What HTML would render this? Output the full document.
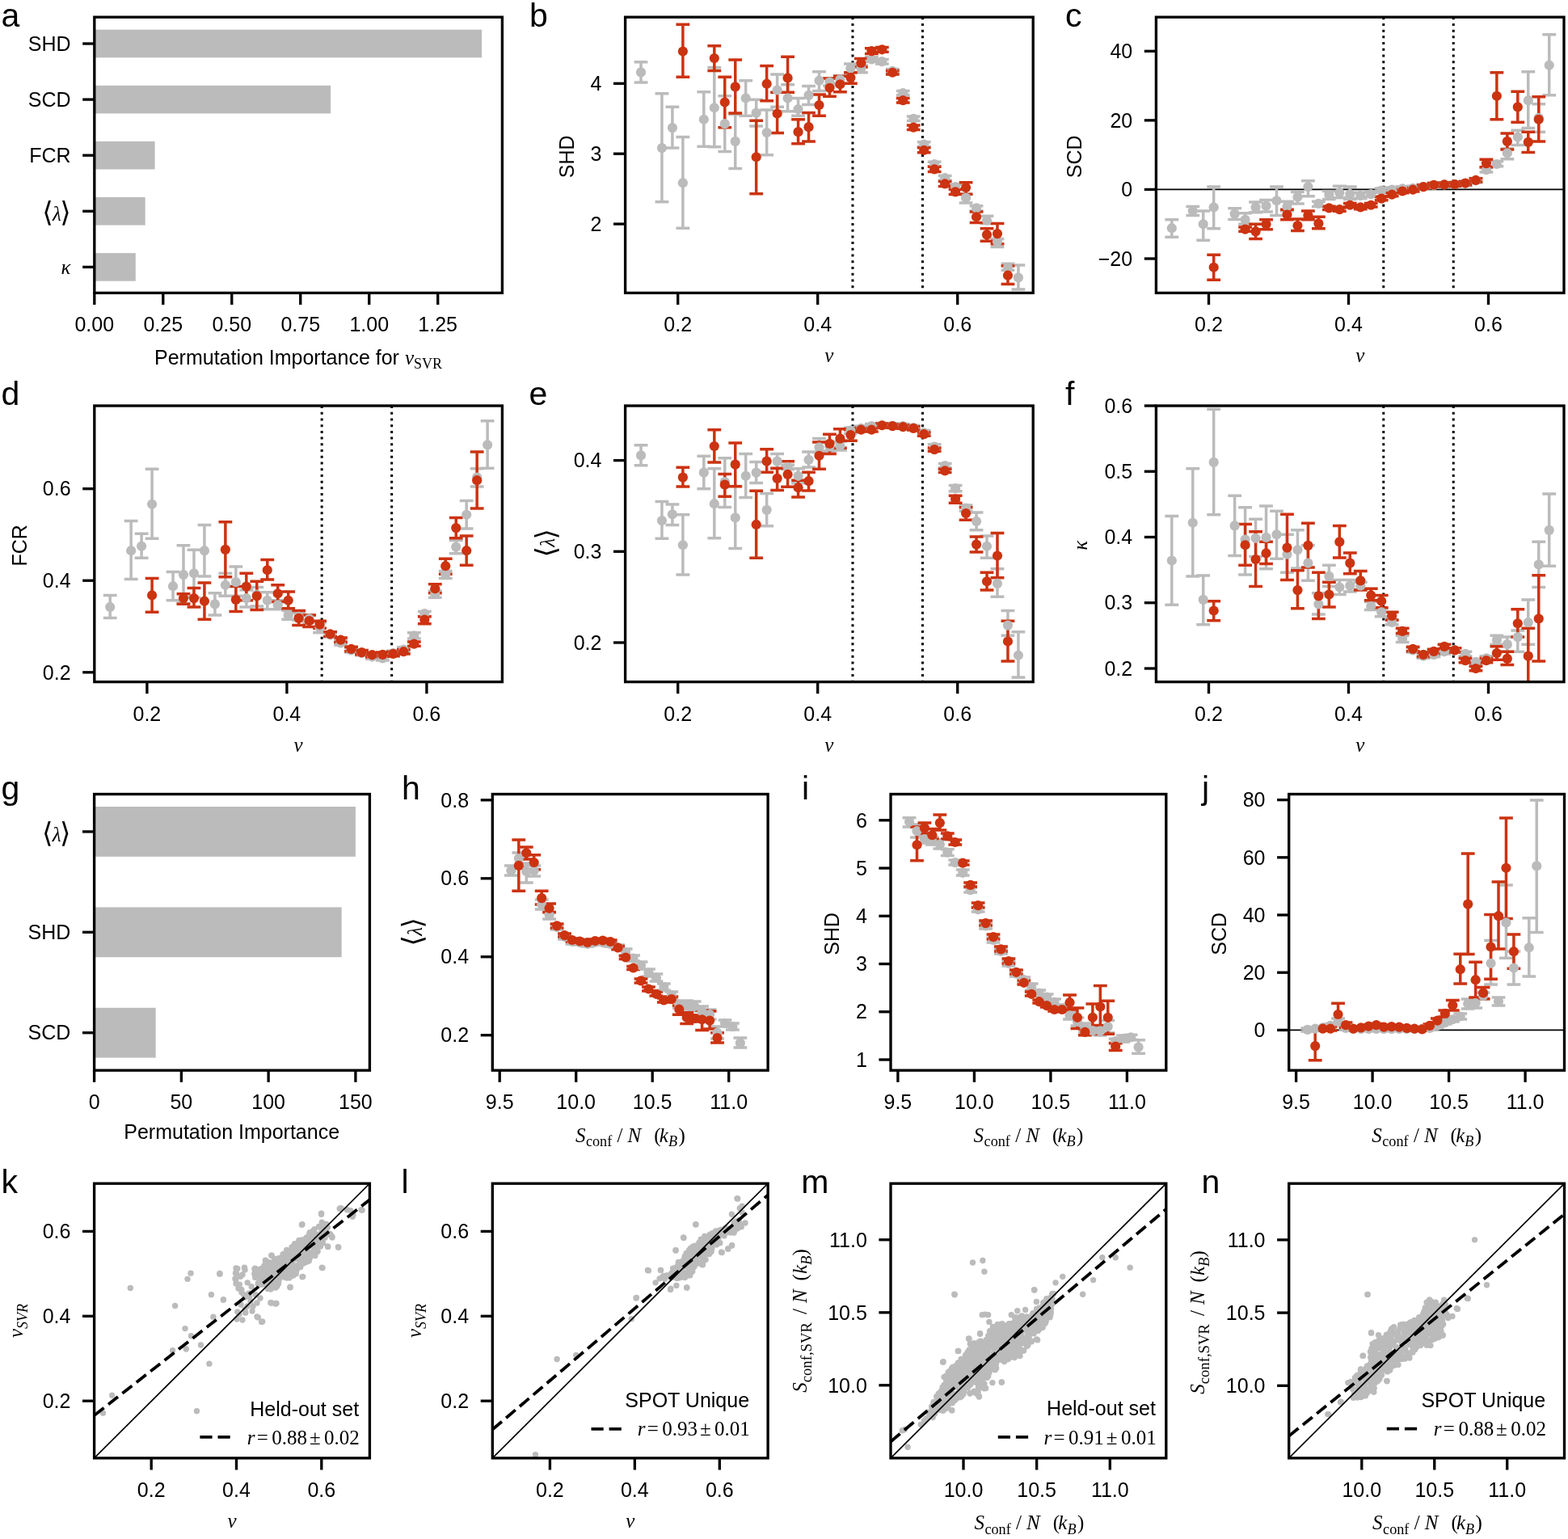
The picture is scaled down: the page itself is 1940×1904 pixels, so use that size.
<!DOCTYPE html>
<html><head><meta charset="utf-8"><title>Figure</title><style>html,body{margin:0;padding:0;background:#fff;}svg{display:block;}</style></head><body>
<svg xmlns="http://www.w3.org/2000/svg" width="1940" height="1904" viewBox="0 0 1940 1904">
<rect width="100%" height="100%" fill="#fff"/>
<rect x="116.8" y="36.7" width="479.29" height="34.6" fill="#BBBBBB"/>
<rect x="116.8" y="105.8" width="292.33" height="34.6" fill="#BBBBBB"/>
<rect x="116.8" y="174.9" width="74.78" height="34.6" fill="#BBBBBB"/>
<rect x="116.8" y="244" width="62.89" height="34.6" fill="#BBBBBB"/>
<rect x="116.8" y="313.1" width="50.99" height="34.6" fill="#BBBBBB"/>
<rect x="116.8" y="21.2" width="504.6" height="341.2" fill="none" stroke="#000" stroke-width="3.33" stroke-linejoin="miter"/>
<line x1="116.8" y1="362.4" x2="116.8" y2="377" stroke="#000" stroke-width="3.33"/>
<text x="116.8" y="410.3" text-anchor="middle" font-family="'Liberation Sans', Arial, sans-serif" font-size="25">0.00</text>
<line x1="201.78" y1="362.4" x2="201.78" y2="377" stroke="#000" stroke-width="3.33"/>
<text x="201.78" y="410.3" text-anchor="middle" font-family="'Liberation Sans', Arial, sans-serif" font-size="25">0.25</text>
<line x1="286.76" y1="362.4" x2="286.76" y2="377" stroke="#000" stroke-width="3.33"/>
<text x="286.76" y="410.3" text-anchor="middle" font-family="'Liberation Sans', Arial, sans-serif" font-size="25">0.50</text>
<line x1="371.74" y1="362.4" x2="371.74" y2="377" stroke="#000" stroke-width="3.33"/>
<text x="371.74" y="410.3" text-anchor="middle" font-family="'Liberation Sans', Arial, sans-serif" font-size="25">0.75</text>
<line x1="456.72" y1="362.4" x2="456.72" y2="377" stroke="#000" stroke-width="3.33"/>
<text x="456.72" y="410.3" text-anchor="middle" font-family="'Liberation Sans', Arial, sans-serif" font-size="25">1.00</text>
<line x1="541.7" y1="362.4" x2="541.7" y2="377" stroke="#000" stroke-width="3.33"/>
<text x="541.7" y="410.3" text-anchor="middle" font-family="'Liberation Sans', Arial, sans-serif" font-size="25">1.25</text>
<line x1="102.2" y1="54" x2="116.8" y2="54" stroke="#000" stroke-width="3.33"/>
<text x="87.6" y="62.7" text-anchor="end" font-family="'Liberation Sans', Arial, sans-serif" font-size="25">SHD</text>
<line x1="102.2" y1="123.1" x2="116.8" y2="123.1" stroke="#000" stroke-width="3.33"/>
<text x="87.6" y="131.8" text-anchor="end" font-family="'Liberation Sans', Arial, sans-serif" font-size="25">SCD</text>
<line x1="102.2" y1="192.2" x2="116.8" y2="192.2" stroke="#000" stroke-width="3.33"/>
<text x="87.6" y="200.9" text-anchor="end" font-family="'Liberation Sans', Arial, sans-serif" font-size="25">FCR</text>
<line x1="102.2" y1="261.3" x2="116.8" y2="261.3" stroke="#000" stroke-width="3.33"/>
<text x="87.6" y="270" text-anchor="end" font-family="'Liberation Serif', 'Times New Roman', serif" font-size="25" transform="translate(0 3.4)"><tspan font-family="'DejaVu Serif', serif" font-size="34.5" dy="0.8">⟨</tspan><tspan font-style="italic" dy="-0.8" dx="-0.6">λ</tspan><tspan font-family="'DejaVu Serif', serif" font-size="34.5" dy="0.8" dx="-1.7">⟩</tspan></text>
<line x1="102.2" y1="330.4" x2="116.8" y2="330.4" stroke="#000" stroke-width="3.33"/>
<text x="87.6" y="339.1" text-anchor="end" font-family="'Liberation Serif', 'Times New Roman', serif" font-size="25" font-style="italic">κ</text>
<text x="369" y="450.6" text-anchor="middle" font-family="'Liberation Sans', Arial, sans-serif" font-size="25">Permutation Importance for <tspan font-family="'Liberation Serif', 'Times New Roman', serif" font-style="italic">v</tspan><tspan font-family="'Liberation Serif', 'Times New Roman', serif" font-size="18" dy="5">SVR</tspan></text>
<text x="1.5" y="32.6" font-family="'Liberation Sans', Arial, sans-serif" font-size="41">a</text>
<clipPath id="c1"><rect x="773.6" y="21.2" width="504.6" height="341.2"/></clipPath>
<g clip-path="url(#c1)">
<line x1="1054.95" y1="21.2" x2="1054.95" y2="362.4" stroke="#000" stroke-width="3" stroke-dasharray="3 4.72" stroke-dashoffset="0"/>
<line x1="1141.45" y1="21.2" x2="1141.45" y2="362.4" stroke="#000" stroke-width="3" stroke-dasharray="3 4.72" stroke-dashoffset="0"/>
<path d="M793 76.71V101.9M784.6 76.71H801.4M784.6 101.9H801.4M818.94 115.67V249.75M810.54 115.67H827.34M810.54 249.75H827.34M831.91 132.34V183.07M823.51 132.34H840.31M823.51 183.07H840.31M844.88 169.48V282.19M836.48 169.48H853.28M836.48 282.19H853.28M870.82 113.86V181.26M862.42 113.86H879.22M862.42 181.26H879.22M883.79 83.42V181.8M875.39 83.42H892.19M875.39 181.8H892.19M896.76 118.75V187.6M888.36 118.75H905.16M888.36 187.6H905.16M909.73 141.4V208.44M901.33 141.4H918.13M901.33 208.44H918.13M922.7 99.72V143.21M914.3 99.72H931.1M914.3 143.21H931.1M935.67 123.28V155.89M927.27 123.28H944.07M927.27 155.89H944.07M948.64 135.96V191.77M940.24 135.96H957.04M940.24 191.77H957.04M961.61 92.11V132.34M953.21 92.11H970.01M953.21 132.34H970.01M974.58 104.8V137.77M966.18 104.8H982.98M966.18 137.77H982.98M987.55 121.47V143.21M979.15 121.47H995.95M979.15 143.21H995.95M1000.52 106.61V129.62M992.12 106.61H1008.92M992.12 129.62H1008.92M1013.49 88.85V112.41M1005.09 88.85H1021.89M1005.09 112.41H1021.89M1026.46 97.01V106.07M1018.06 97.01H1034.86M1018.06 106.07H1034.86M1039.43 93.38V103.35M1031.03 93.38H1047.83M1031.03 103.35H1047.83M1052.4 78.89V89.76M1044 78.89H1060.8M1044 89.76H1060.8M1065.37 80.7V89.76M1056.97 80.7H1073.77M1056.97 89.76H1073.77M1078.34 70.73V76.17M1069.94 70.73H1086.74M1069.94 76.17H1086.74M1091.31 73.45V78.89M1082.91 73.45H1099.71M1082.91 78.89H1099.71M1104.28 85.59V90.66M1095.88 85.59H1112.68M1095.88 90.66H1112.68M1117.25 112.41V117.84M1108.85 112.41H1125.65M1108.85 117.84H1125.65M1130.22 144.12V149.55M1121.82 144.12H1138.62M1121.82 149.55H1138.62M1143.19 175.83V181.26M1134.79 175.83H1151.59M1134.79 181.26H1151.59M1156.16 200.29V205.72M1147.76 200.29H1164.56M1147.76 205.72H1164.56M1169.13 217.5V222.94M1160.73 217.5H1177.53M1160.73 222.94H1177.53M1182.1 228.37V233.81M1173.7 228.37H1190.5M1173.7 233.81H1190.5M1195.07 240.15V251.02M1186.67 240.15H1203.47M1186.67 251.02H1203.47M1208.04 254.64V260.99M1199.64 254.64H1216.44M1199.64 260.99H1216.44M1221.01 267.33V276.39M1212.61 267.33H1229.41M1212.61 276.39H1229.41M1233.98 295.41V305.38M1225.58 295.41H1242.38M1225.58 305.38H1242.38M1246.95 326.21V334.37M1238.55 326.21H1255.35M1238.55 334.37H1255.35M1259.92 328.03V357.92M1251.52 328.03H1268.32M1251.52 357.92H1268.32" stroke="#BBBBBB" stroke-width="3.5" fill="none"/>
<path d="M844.88 30.33V95.19M836.48 30.33H853.28M836.48 95.19H853.28M883.79 56.78V87.4M875.39 56.78H892.19M875.39 87.4H892.19M896.76 95.19V157.71M888.36 95.19H905.16M888.36 157.71H905.16M909.73 74V139.95M901.33 74H918.13M901.33 139.95H918.13M935.67 149.37V239.79M927.27 149.37H944.07M927.27 239.79H944.07M948.64 81.61V124.73M940.24 81.61H957.04M940.24 124.73H957.04M961.61 114.22V164.59M953.21 114.22H970.01M953.21 164.59H970.01M974.58 70.19V114.22M966.18 70.19H982.98M966.18 114.22H982.98M987.55 147.74V177.64M979.15 147.74H995.95M979.15 177.64H995.95M1000.52 139.59V174.92M992.12 139.59H1008.92M992.12 174.92H1008.92M1013.49 116.94V143.21M1005.09 116.94H1021.89M1005.09 143.21H1021.89M1026.46 97.01V119.29M1018.06 97.01H1034.86M1018.06 119.29H1034.86M1039.43 94.29V113.86M1031.03 94.29H1047.83M1031.03 113.86H1047.83M1052.4 89.76V103.35M1044 89.76H1060.8M1044 103.35H1060.8M1065.37 72.55V83.05M1056.97 72.55H1073.77M1056.97 83.05H1073.77M1078.34 59.86V66.39M1069.94 59.86H1086.74M1069.94 66.39H1086.74M1091.31 58.41V64.21M1082.91 58.41H1099.71M1082.91 64.21H1099.71M1104.28 87.4V92.11M1095.88 87.4H1112.68M1095.88 92.11H1112.68M1117.25 121.47V126.9M1108.85 121.47H1125.65M1108.85 126.9H1125.65M1130.22 154.99V160.42M1121.82 154.99H1138.62M1121.82 160.42H1138.62M1143.19 182.71V188.87M1134.79 182.71H1151.59M1134.79 188.87H1151.59M1156.16 206.27V212.43M1147.76 206.27H1164.56M1147.76 212.43H1164.56M1169.13 224.38V230.55M1160.73 224.38H1177.53M1160.73 230.55H1177.53M1182.1 234.35V240.51M1173.7 234.35H1190.5M1173.7 240.51H1190.5M1195.07 225.65V240.15M1186.67 225.65H1203.47M1186.67 240.15H1203.47M1208.04 261.89V275.48M1199.64 261.89H1216.44M1199.64 275.48H1216.44M1221.01 282.73V298.13M1212.61 282.73H1229.41M1212.61 298.13H1229.41M1233.98 276.39V301.75M1225.58 276.39H1242.38M1225.58 301.75H1242.38M1246.95 328.93V351.58M1238.55 328.93H1255.35M1238.55 351.58H1255.35" stroke="#CC3311" stroke-width="3.5" fill="none"/>
<g fill="#BBBBBB"><circle cx="793" cy="89.4" r="6.1"/><circle cx="818.94" cy="183.07" r="6.1"/><circle cx="831.91" cy="158.07" r="6.1"/><circle cx="844.88" cy="226.2" r="6.1"/><circle cx="870.82" cy="147.74" r="6.1"/><circle cx="883.79" cy="133.25" r="6.1"/><circle cx="896.76" cy="153.18" r="6.1"/><circle cx="909.73" cy="174.92" r="6.1"/><circle cx="922.7" cy="121.47" r="6.1"/><circle cx="935.67" cy="139.59" r="6.1"/><circle cx="948.64" cy="164.05" r="6.1"/><circle cx="961.61" cy="111.5" r="6.1"/><circle cx="974.58" cy="121.47" r="6.1"/><circle cx="987.55" cy="135.06" r="6.1"/><circle cx="1000.52" cy="117.84" r="6.1"/><circle cx="1013.49" cy="99.72" r="6.1"/><circle cx="1026.46" cy="101.54" r="6.1"/><circle cx="1039.43" cy="98.28" r="6.1"/><circle cx="1052.4" cy="84.32" r="6.1"/><circle cx="1065.37" cy="84.32" r="6.1"/><circle cx="1078.34" cy="73.45" r="6.1"/><circle cx="1091.31" cy="76.17" r="6.1"/><circle cx="1104.28" cy="87.95" r="6.1"/><circle cx="1117.25" cy="115.13" r="6.1"/><circle cx="1130.22" cy="146.83" r="6.1"/><circle cx="1143.19" cy="178.54" r="6.1"/><circle cx="1156.16" cy="203" r="6.1"/><circle cx="1169.13" cy="220.22" r="6.1"/><circle cx="1182.1" cy="231.09" r="6.1"/><circle cx="1195.07" cy="244.68" r="6.1"/><circle cx="1208.04" cy="257.36" r="6.1"/><circle cx="1221.01" cy="272.76" r="6.1"/><circle cx="1233.98" cy="299.04" r="6.1"/><circle cx="1246.95" cy="330.74" r="6.1"/><circle cx="1259.92" cy="343.43" r="6.1"/></g>
<g fill="#CC3311"><circle cx="844.88" cy="63.49" r="6.1"/><circle cx="883.79" cy="72" r="6.1"/><circle cx="896.76" cy="126.54" r="6.1"/><circle cx="909.73" cy="107.33" r="6.1"/><circle cx="935.67" cy="194.31" r="6.1"/><circle cx="948.64" cy="103.71" r="6.1"/><circle cx="961.61" cy="140.49" r="6.1"/><circle cx="974.58" cy="96.46" r="6.1"/><circle cx="987.55" cy="163.14" r="6.1"/><circle cx="1000.52" cy="157.16" r="6.1"/><circle cx="1013.49" cy="129.98" r="6.1"/><circle cx="1026.46" cy="108.78" r="6.1"/><circle cx="1039.43" cy="104.25" r="6.1"/><circle cx="1052.4" cy="96.1" r="6.1"/><circle cx="1065.37" cy="77.98" r="6.1"/><circle cx="1078.34" cy="63.12" r="6.1"/><circle cx="1091.31" cy="61.31" r="6.1"/><circle cx="1104.28" cy="89.76" r="6.1"/><circle cx="1117.25" cy="124.19" r="6.1"/><circle cx="1130.22" cy="157.71" r="6.1"/><circle cx="1143.19" cy="185.79" r="6.1"/><circle cx="1156.16" cy="209.35" r="6.1"/><circle cx="1169.13" cy="227.47" r="6.1"/><circle cx="1182.1" cy="237.43" r="6.1"/><circle cx="1195.07" cy="231.99" r="6.1"/><circle cx="1208.04" cy="268.23" r="6.1"/><circle cx="1221.01" cy="290.34" r="6.1"/><circle cx="1233.98" cy="289.07" r="6.1"/><circle cx="1246.95" cy="340.71" r="6.1"/></g>
</g>
<rect x="773.6" y="21.2" width="504.6" height="341.2" fill="none" stroke="#000" stroke-width="3.33" stroke-linejoin="miter"/>
<line x1="838.7" y1="362.4" x2="838.7" y2="377" stroke="#000" stroke-width="3.33"/>
<text x="838.7" y="410.3" text-anchor="middle" font-family="'Liberation Sans', Arial, sans-serif" font-size="25">0.2</text>
<line x1="1011.7" y1="362.4" x2="1011.7" y2="377" stroke="#000" stroke-width="3.33"/>
<text x="1011.7" y="410.3" text-anchor="middle" font-family="'Liberation Sans', Arial, sans-serif" font-size="25">0.4</text>
<line x1="1184.7" y1="362.4" x2="1184.7" y2="377" stroke="#000" stroke-width="3.33"/>
<text x="1184.7" y="410.3" text-anchor="middle" font-family="'Liberation Sans', Arial, sans-serif" font-size="25">0.6</text>
<text x="1025.9" y="448.4" text-anchor="middle" font-family="'Liberation Serif', 'Times New Roman', serif" font-size="25" font-style="italic">v</text>
<line x1="759" y1="277.1" x2="773.6" y2="277.1" stroke="#000" stroke-width="3.33"/>
<text x="744.4" y="285.8" text-anchor="end" font-family="'Liberation Sans', Arial, sans-serif" font-size="25">2</text>
<line x1="759" y1="190.2" x2="773.6" y2="190.2" stroke="#000" stroke-width="3.33"/>
<text x="744.4" y="198.9" text-anchor="end" font-family="'Liberation Sans', Arial, sans-serif" font-size="25">3</text>
<line x1="759" y1="103.3" x2="773.6" y2="103.3" stroke="#000" stroke-width="3.33"/>
<text x="744.4" y="112" text-anchor="end" font-family="'Liberation Sans', Arial, sans-serif" font-size="25">4</text>
<text x="709.8" y="193.8" text-anchor="middle" font-family="'Liberation Sans', Arial, sans-serif" font-size="25" transform="rotate(-90 709.8 193.8)">SHD</text>
<text x="655" y="32.6" font-family="'Liberation Sans', Arial, sans-serif" font-size="41">b</text>
<clipPath id="c2"><rect x="1430.4" y="21.2" width="504.6" height="341.2"/></clipPath>
<g clip-path="url(#c2)">
<line x1="1711.75" y1="21.2" x2="1711.75" y2="362.4" stroke="#000" stroke-width="3" stroke-dasharray="3 4.72" stroke-dashoffset="0"/>
<line x1="1798.25" y1="21.2" x2="1798.25" y2="362.4" stroke="#000" stroke-width="3" stroke-dasharray="3 4.72" stroke-dashoffset="0"/>
<line x1="1430.4" y1="234.43" x2="1935" y2="234.43" stroke="#000" stroke-width="1.7"/>
<path d="M1449.8 271.86V293.24M1441.4 271.86H1458.2M1441.4 293.24H1458.2M1475.74 255.55V266.42M1467.34 255.55H1484.14M1467.34 266.42H1484.14M1488.71 260.99V297.22M1480.31 260.99H1497.11M1480.31 297.22H1497.11M1501.68 231.09V282.73M1493.28 231.09H1510.08M1493.28 282.73H1510.08M1527.62 257.72V271.49M1519.22 257.72H1536.02M1519.22 271.49H1536.02M1540.59 263.7V277.29M1532.19 263.7H1548.99M1532.19 277.29H1548.99M1553.56 250.11V262.8M1545.16 250.11H1561.96M1545.16 262.8H1561.96M1566.53 247.4V261.89M1558.13 247.4H1574.93M1558.13 261.89H1574.93M1579.5 231.09V266.42M1571.1 231.09H1587.9M1571.1 266.42H1587.9M1592.47 249.21V260.99M1584.07 249.21H1600.87M1584.07 260.99H1600.87M1605.44 237.43V251.93M1597.04 237.43H1613.84M1597.04 251.93H1613.84M1618.41 223.84V242.87M1610.01 223.84H1626.81M1610.01 242.87H1626.81M1631.38 249.21V255.55M1622.98 249.21H1639.78M1622.98 255.55H1639.78M1644.35 236.52V246.49M1635.95 236.52H1652.75M1635.95 246.49H1652.75M1657.32 230.18V244.68M1648.92 230.18H1665.72M1648.92 244.68H1665.72M1670.29 231.09V246.49M1661.89 231.09H1678.69M1661.89 246.49H1678.69M1683.26 238.34V245.58M1674.86 238.34H1691.66M1674.86 245.58H1691.66M1696.23 237.43V243.23M1687.83 237.43H1704.63M1687.83 243.23H1704.63M1709.2 232.9V238.34M1700.8 232.9H1717.6M1700.8 238.34H1717.6M1722.17 231.99V237.43M1713.77 231.99H1730.57M1713.77 237.43H1730.57M1735.14 230.73V236.16M1726.74 230.73H1743.54M1726.74 236.16H1743.54M1748.11 230.18V235.62M1739.71 230.18H1756.51M1739.71 235.62H1756.51M1761.08 228.37V233.81M1752.68 228.37H1769.48M1752.68 233.81H1769.48M1774.05 226.56V231.99M1765.65 226.56H1782.45M1765.65 231.99H1782.45M1787.02 225.65V231.09M1778.62 225.65H1795.42M1778.62 231.09H1795.42M1799.99 225.29V230.73M1791.59 225.29H1808.39M1791.59 230.73H1808.39M1812.96 224.2V229.64M1804.56 224.2H1821.36M1804.56 229.64H1821.36M1825.93 220.58V226.02M1817.53 220.58H1834.33M1817.53 226.02H1834.33M1838.9 207.53V212.97M1830.5 207.53H1847.3M1830.5 212.97H1847.3M1851.87 199.38V205.72M1843.47 199.38H1860.27M1843.47 205.72H1860.27M1864.84 183.98V196.66M1856.44 183.98H1873.24M1856.44 196.66H1873.24M1877.81 161.33V179.45M1869.41 161.33H1886.21M1869.41 179.45H1886.21M1890.78 88.85V158.61M1882.38 88.85H1899.18M1882.38 158.61H1899.18M1903.75 128.72V163.14M1895.35 128.72H1912.15M1895.35 163.14H1912.15M1916.72 42.65V117.84M1908.32 42.65H1925.12M1908.32 117.84H1925.12" stroke="#BBBBBB" stroke-width="3.5" fill="none"/>
<path d="M1501.68 315.34V346.15M1493.28 315.34H1510.08M1493.28 346.15H1510.08M1540.59 280.92V286.35M1532.19 280.92H1548.99M1532.19 286.35H1548.99M1553.56 277.29V295.41M1545.16 277.29H1561.96M1545.16 295.41H1561.96M1566.53 271.86V283.63M1558.13 271.86H1574.93M1558.13 283.63H1574.93M1592.47 259.17V271.86M1584.07 259.17H1600.87M1584.07 271.86H1600.87M1605.44 270.95V285.45M1597.04 270.95H1613.84M1597.04 285.45H1613.84M1618.41 260.99V271.86M1610.01 260.99H1626.81M1610.01 271.86H1626.81M1631.38 268.23V282.73M1622.98 268.23H1639.78M1622.98 282.73H1639.78M1644.35 255.19V259.54M1635.95 255.19H1652.75M1635.95 259.54H1652.75M1657.32 257V261.35M1648.92 257H1665.72M1648.92 261.35H1665.72M1670.29 251.56V255.91M1661.89 251.56H1678.69M1661.89 255.91H1678.69M1683.26 254.28V258.63M1674.86 254.28H1691.66M1674.86 258.63H1691.66M1696.23 251.56V255.91M1687.83 251.56H1704.63M1687.83 255.91H1704.63M1709.2 243.41V247.76M1700.8 243.41H1717.6M1700.8 247.76H1717.6M1722.17 238.52V242.87M1713.77 238.52H1730.57M1713.77 242.87H1730.57M1735.14 234.35V238.7M1726.74 234.35H1743.54M1726.74 238.7H1743.54M1748.11 232.54V236.89M1739.71 232.54H1756.51M1739.71 236.89H1756.51M1761.08 228.91V233.26M1752.68 228.91H1769.48M1752.68 233.26H1769.48M1774.05 226.56V230.91M1765.65 226.56H1782.45M1765.65 230.91H1782.45M1787.02 226.2V230.55M1778.62 226.2H1795.42M1778.62 230.55H1795.42M1799.99 225.83V230.18M1791.59 225.83H1808.39M1791.59 230.18H1808.39M1812.96 224.38V228.73M1804.56 224.38H1821.36M1804.56 228.73H1821.36M1825.93 220.76V225.11M1817.53 220.76H1834.33M1817.53 225.11H1834.33M1838.9 197.21V206.63M1830.5 197.21H1847.3M1830.5 206.63H1847.3M1851.87 89.76V147.74M1843.47 89.76H1860.27M1843.47 147.74H1860.27M1864.84 164.95V184.88M1856.44 164.95H1873.24M1856.44 184.88H1873.24M1877.81 113.31V151.36M1869.41 113.31H1886.21M1869.41 151.36H1886.21M1890.78 163.14V188.51M1882.38 163.14H1899.18M1882.38 188.51H1899.18M1903.75 119.66V174.92M1895.35 119.66H1912.15M1895.35 174.92H1912.15" stroke="#CC3311" stroke-width="3.5" fill="none"/>
<g fill="#BBBBBB"><circle cx="1449.8" cy="282.19" r="6.1"/><circle cx="1475.74" cy="260.99" r="6.1"/><circle cx="1488.71" cy="277.29" r="6.1"/><circle cx="1501.68" cy="256.46" r="6.1"/><circle cx="1527.62" cy="264.61" r="6.1"/><circle cx="1540.59" cy="271.86" r="6.1"/><circle cx="1553.56" cy="256.46" r="6.1"/><circle cx="1566.53" cy="254.64" r="6.1"/><circle cx="1579.5" cy="248.3" r="6.1"/><circle cx="1592.47" cy="255.55" r="6.1"/><circle cx="1605.44" cy="243.77" r="6.1"/><circle cx="1618.41" cy="231.09" r="6.1"/><circle cx="1631.38" cy="251.93" r="6.1"/><circle cx="1644.35" cy="241.05" r="6.1"/><circle cx="1657.32" cy="238.34" r="6.1"/><circle cx="1670.29" cy="240.15" r="6.1"/><circle cx="1683.26" cy="241.96" r="6.1"/><circle cx="1696.23" cy="240.15" r="6.1"/><circle cx="1709.2" cy="235.62" r="6.1"/><circle cx="1722.17" cy="234.71" r="6.1"/><circle cx="1735.14" cy="233.44" r="6.1"/><circle cx="1748.11" cy="232.9" r="6.1"/><circle cx="1761.08" cy="231.09" r="6.1"/><circle cx="1774.05" cy="229.28" r="6.1"/><circle cx="1787.02" cy="228.37" r="6.1"/><circle cx="1799.99" cy="228.01" r="6.1"/><circle cx="1812.96" cy="226.92" r="6.1"/><circle cx="1825.93" cy="223.3" r="6.1"/><circle cx="1838.9" cy="210.25" r="6.1"/><circle cx="1851.87" cy="203" r="6.1"/><circle cx="1864.84" cy="189.41" r="6.1"/><circle cx="1877.81" cy="169.48" r="6.1"/><circle cx="1890.78" cy="124.19" r="6.1"/><circle cx="1903.75" cy="145.93" r="6.1"/><circle cx="1916.72" cy="80.7" r="6.1"/></g>
<g fill="#CC3311"><circle cx="1501.68" cy="330.74" r="6.1"/><circle cx="1540.59" cy="283.63" r="6.1"/><circle cx="1553.56" cy="286.35" r="6.1"/><circle cx="1566.53" cy="277.29" r="6.1"/><circle cx="1592.47" cy="265.52" r="6.1"/><circle cx="1605.44" cy="279.1" r="6.1"/><circle cx="1618.41" cy="266.42" r="6.1"/><circle cx="1631.38" cy="276.39" r="6.1"/><circle cx="1644.35" cy="257.36" r="6.1"/><circle cx="1657.32" cy="259.17" r="6.1"/><circle cx="1670.29" cy="253.74" r="6.1"/><circle cx="1683.26" cy="256.46" r="6.1"/><circle cx="1696.23" cy="253.74" r="6.1"/><circle cx="1709.2" cy="245.58" r="6.1"/><circle cx="1722.17" cy="240.69" r="6.1"/><circle cx="1735.14" cy="236.52" r="6.1"/><circle cx="1748.11" cy="234.71" r="6.1"/><circle cx="1761.08" cy="231.09" r="6.1"/><circle cx="1774.05" cy="228.73" r="6.1"/><circle cx="1787.02" cy="228.37" r="6.1"/><circle cx="1799.99" cy="228.01" r="6.1"/><circle cx="1812.96" cy="226.56" r="6.1"/><circle cx="1825.93" cy="222.94" r="6.1"/><circle cx="1838.9" cy="202.1" r="6.1"/><circle cx="1851.87" cy="118.75" r="6.1"/><circle cx="1864.84" cy="174.92" r="6.1"/><circle cx="1877.81" cy="132.34" r="6.1"/><circle cx="1890.78" cy="175.83" r="6.1"/><circle cx="1903.75" cy="147.74" r="6.1"/></g>
</g>
<rect x="1430.4" y="21.2" width="504.6" height="341.2" fill="none" stroke="#000" stroke-width="3.33" stroke-linejoin="miter"/>
<line x1="1495.5" y1="362.4" x2="1495.5" y2="377" stroke="#000" stroke-width="3.33"/>
<text x="1495.5" y="410.3" text-anchor="middle" font-family="'Liberation Sans', Arial, sans-serif" font-size="25">0.2</text>
<line x1="1668.5" y1="362.4" x2="1668.5" y2="377" stroke="#000" stroke-width="3.33"/>
<text x="1668.5" y="410.3" text-anchor="middle" font-family="'Liberation Sans', Arial, sans-serif" font-size="25">0.4</text>
<line x1="1841.5" y1="362.4" x2="1841.5" y2="377" stroke="#000" stroke-width="3.33"/>
<text x="1841.5" y="410.3" text-anchor="middle" font-family="'Liberation Sans', Arial, sans-serif" font-size="25">0.6</text>
<text x="1682.7" y="448.4" text-anchor="middle" font-family="'Liberation Serif', 'Times New Roman', serif" font-size="25" font-style="italic">v</text>
<line x1="1415.8" y1="320" x2="1430.4" y2="320" stroke="#000" stroke-width="3.33"/>
<text x="1401.2" y="328.7" text-anchor="end" font-family="'Liberation Sans', Arial, sans-serif" font-size="25">−20</text>
<line x1="1415.8" y1="234.43" x2="1430.4" y2="234.43" stroke="#000" stroke-width="3.33"/>
<text x="1401.2" y="243.13" text-anchor="end" font-family="'Liberation Sans', Arial, sans-serif" font-size="25">0</text>
<line x1="1415.8" y1="148.87" x2="1430.4" y2="148.87" stroke="#000" stroke-width="3.33"/>
<text x="1401.2" y="157.57" text-anchor="end" font-family="'Liberation Sans', Arial, sans-serif" font-size="25">20</text>
<line x1="1415.8" y1="63.3" x2="1430.4" y2="63.3" stroke="#000" stroke-width="3.33"/>
<text x="1401.2" y="72" text-anchor="end" font-family="'Liberation Sans', Arial, sans-serif" font-size="25">40</text>
<text x="1338" y="193.8" text-anchor="middle" font-family="'Liberation Sans', Arial, sans-serif" font-size="25" transform="rotate(-90 1338 193.8)">SCD</text>
<text x="1318" y="32.6" font-family="'Liberation Sans', Arial, sans-serif" font-size="41">c</text>
<clipPath id="c3"><rect x="116.8" y="502" width="504.6" height="341.6"/></clipPath>
<g clip-path="url(#c3)">
<line x1="398.15" y1="502" x2="398.15" y2="843.6" stroke="#000" stroke-width="3" stroke-dasharray="3 4.72" stroke-dashoffset="0"/>
<line x1="484.65" y1="502" x2="484.65" y2="843.6" stroke="#000" stroke-width="3" stroke-dasharray="3 4.72" stroke-dashoffset="0"/>
<path d="M136.2 736.46V764.54M127.8 736.46H144.6M127.8 764.54H144.6M162.14 644.41V716.52M153.74 644.41H170.54M153.74 716.52H170.54M175.11 660.36V690.25M166.71 660.36H183.51M166.71 690.25H183.51M188.08 580.27V666.15M179.68 580.27H196.48M179.68 666.15H196.48M214.02 707.47V742.8M205.62 707.47H222.42M205.62 742.8H222.42M226.99 674.85V746.42M218.59 674.85H235.39M218.59 746.42H235.39M239.96 680.29V739.17M231.56 680.29H248.36M231.56 739.17H248.36M252.93 649.48V712.9M244.53 649.48H261.33M244.53 712.9H261.33M265.9 733.74V760.92M257.5 733.74H274.3M257.5 760.92H274.3M278.87 709.28V737.36M270.47 709.28H287.27M270.47 737.36H287.27M291.84 701.12V737.36M283.44 701.12H300.24M283.44 737.36H300.24M304.81 730.11V750.95M296.41 730.11H313.21M296.41 750.95H313.21M317.78 726.49V750.05M309.38 726.49H326.18M309.38 750.05H326.18M330.75 732.83V753.67M322.35 732.83H339.15M322.35 753.67H339.15M343.72 742.8V753.67M335.32 742.8H352.12M335.32 753.67H352.12M356.69 755.48V766.35M348.29 755.48H365.09M348.29 766.35H365.09M369.66 758.2V767.26M361.26 758.2H378.06M361.26 767.26H378.06M382.63 760.92V769.98M374.23 760.92H391.03M374.23 769.98H391.03M395.6 769.98V782.66M387.2 769.98H404M387.2 782.66H404M408.57 782.66V788.1M400.17 782.66H416.97M400.17 788.1H416.97M421.54 792.63V798.06M413.14 792.63H429.94M413.14 798.06H429.94M434.51 801.69V807.12M426.11 801.69H442.91M426.11 807.12H442.91M447.48 805.31V810.74M439.08 805.31H455.88M439.08 810.74H455.88M460.45 809.84V815.27M452.05 809.84H468.85M452.05 815.27H468.85M473.42 811.65V817.09M465.02 811.65H481.82M465.02 817.09H481.82M486.39 805.31V810.74M477.99 805.31H494.79M477.99 810.74H494.79M499.36 800.78V806.21M490.96 800.78H507.76M490.96 806.21H507.76M512.33 782.66V789.91M503.93 782.66H520.73M503.93 789.91H520.73M525.3 756.39V762.73M516.9 756.39H533.7M516.9 762.73H533.7M538.27 731.02V739.17M529.87 731.02H546.67M529.87 739.17H546.67M551.24 706.56V715.62M542.84 706.56H559.64M542.84 715.62H559.64M564.21 668.51V684.82M555.81 668.51H572.61M555.81 684.82H572.61M577.18 619.59V654.01M568.78 619.59H585.58M568.78 654.01H585.58M590.15 579.72V602.01M581.75 579.72H598.55M581.75 602.01H598.55M603.12 520.84V579.18M594.72 520.84H611.52M594.72 579.18H611.52" stroke="#BBBBBB" stroke-width="3.5" fill="none"/>
<path d="M188.08 715.62V757.29M179.68 715.62H196.48M179.68 757.29H196.48M226.99 734.64V747.33M218.59 734.64H235.39M218.59 747.33H235.39M239.96 727.4V750.95M231.56 727.4H248.36M231.56 750.95H248.36M252.93 721.05V766.35M244.53 721.05H261.33M244.53 766.35H261.33M278.87 645.86V713.81M270.47 645.86H287.27M270.47 713.81H287.27M291.84 725.58V756.39M283.44 725.58H300.24M283.44 756.39H300.24M304.81 709.28V742.8M296.41 709.28H313.21M296.41 742.8H313.21M317.78 719.24V754.58M309.38 719.24H326.18M309.38 754.58H326.18M330.75 692.43V716.89M322.35 692.43H339.15M322.35 716.89H339.15M343.72 723.77V744.61M335.32 723.77H352.12M335.32 744.61H352.12M356.69 731.93V752.76M348.29 731.93H365.09M348.29 752.76H365.09M369.66 755.48V773.6M361.26 755.48H378.06M361.26 773.6H378.06M382.63 760.92V775.41M374.23 760.92H391.03M374.23 775.41H391.03M395.6 768.16V777.22M387.2 768.16H404M387.2 777.22H404M408.57 781.75V787.19M400.17 781.75H416.97M400.17 787.19H416.97M421.54 789V794.44M413.14 789H429.94M413.14 794.44H429.94M434.51 800.24V805.67M426.11 800.24H442.91M426.11 805.67H442.91M447.48 804.4V809.84M439.08 804.4H455.88M439.08 809.84H455.88M460.45 807.48V812.92M452.05 807.48H468.85M452.05 812.92H468.85M473.42 807.12V812.56M465.02 807.12H481.82M465.02 812.56H481.82M486.39 806.21V811.65M477.99 806.21H494.79M477.99 811.65H494.79M499.36 803.5V808.93M490.96 803.5H507.76M490.96 808.93H507.76M512.33 793.89V799.33M503.93 793.89H520.73M503.93 799.33H520.73M525.3 762.73V771.79M516.9 762.73H533.7M516.9 771.79H533.7M538.27 722.87V733.74M529.87 722.87H546.67M529.87 733.74H546.67M551.24 691.16V710.18M542.84 691.16H559.64M542.84 710.18H559.64M564.21 640.42V665.79M555.81 640.42H572.61M555.81 665.79H572.61M577.18 663.07V699.31M568.78 663.07H585.58M568.78 699.31H585.58M590.15 558.89V629.01M581.75 558.89H598.55M581.75 629.01H598.55" stroke="#CC3311" stroke-width="3.5" fill="none"/>
<g fill="#BBBBBB"><circle cx="136.2" cy="750.95" r="6.1"/><circle cx="162.14" cy="681.19" r="6.1"/><circle cx="175.11" cy="675.76" r="6.1"/><circle cx="188.08" cy="623.75" r="6.1"/><circle cx="214.02" cy="725.22" r="6.1"/><circle cx="226.99" cy="711.09" r="6.1"/><circle cx="239.96" cy="709.28" r="6.1"/><circle cx="252.93" cy="681.19" r="6.1"/><circle cx="265.9" cy="747.33" r="6.1"/><circle cx="278.87" cy="723.77" r="6.1"/><circle cx="291.84" cy="720.15" r="6.1"/><circle cx="304.81" cy="740.08" r="6.1"/><circle cx="317.78" cy="735.55" r="6.1"/><circle cx="330.75" cy="742.8" r="6.1"/><circle cx="343.72" cy="748.23" r="6.1"/><circle cx="356.69" cy="760.92" r="6.1"/><circle cx="369.66" cy="762.73" r="6.1"/><circle cx="382.63" cy="765.45" r="6.1"/><circle cx="395.6" cy="776.32" r="6.1"/><circle cx="408.57" cy="785.38" r="6.1"/><circle cx="421.54" cy="795.34" r="6.1"/><circle cx="434.51" cy="804.4" r="6.1"/><circle cx="447.48" cy="808.03" r="6.1"/><circle cx="460.45" cy="812.56" r="6.1"/><circle cx="473.42" cy="814.37" r="6.1"/><circle cx="486.39" cy="808.03" r="6.1"/><circle cx="499.36" cy="803.5" r="6.1"/><circle cx="512.33" cy="786.28" r="6.1"/><circle cx="525.3" cy="759.1" r="6.1"/><circle cx="538.27" cy="734.64" r="6.1"/><circle cx="551.24" cy="710.18" r="6.1"/><circle cx="564.21" cy="676.66" r="6.1"/><circle cx="577.18" cy="636.8" r="6.1"/><circle cx="590.15" cy="590.6" r="6.1"/><circle cx="603.12" cy="550.37" r="6.1"/></g>
<g fill="#CC3311"><circle cx="188.08" cy="736.46" r="6.1"/><circle cx="226.99" cy="740.08" r="6.1"/><circle cx="239.96" cy="740.08" r="6.1"/><circle cx="252.93" cy="743.7" r="6.1"/><circle cx="278.87" cy="679.92" r="6.1"/><circle cx="291.84" cy="741.89" r="6.1"/><circle cx="304.81" cy="725.58" r="6.1"/><circle cx="317.78" cy="737.36" r="6.1"/><circle cx="330.75" cy="705.29" r="6.1"/><circle cx="343.72" cy="734.28" r="6.1"/><circle cx="356.69" cy="742.8" r="6.1"/><circle cx="369.66" cy="764.9" r="6.1"/><circle cx="382.63" cy="768.16" r="6.1"/><circle cx="395.6" cy="772.69" r="6.1"/><circle cx="408.57" cy="784.47" r="6.1"/><circle cx="421.54" cy="791.72" r="6.1"/><circle cx="434.51" cy="802.95" r="6.1"/><circle cx="447.48" cy="807.12" r="6.1"/><circle cx="460.45" cy="810.2" r="6.1"/><circle cx="473.42" cy="809.84" r="6.1"/><circle cx="486.39" cy="808.93" r="6.1"/><circle cx="499.36" cy="806.21" r="6.1"/><circle cx="512.33" cy="796.61" r="6.1"/><circle cx="525.3" cy="766.71" r="6.1"/><circle cx="538.27" cy="728.3" r="6.1"/><circle cx="551.24" cy="700.22" r="6.1"/><circle cx="564.21" cy="653.11" r="6.1"/><circle cx="577.18" cy="681.19" r="6.1"/><circle cx="590.15" cy="594.22" r="6.1"/></g>
</g>
<rect x="116.8" y="502" width="504.6" height="341.6" fill="none" stroke="#000" stroke-width="3.33" stroke-linejoin="miter"/>
<line x1="181.9" y1="843.6" x2="181.9" y2="858.2" stroke="#000" stroke-width="3.33"/>
<text x="181.9" y="891.5" text-anchor="middle" font-family="'Liberation Sans', Arial, sans-serif" font-size="25">0.2</text>
<line x1="354.9" y1="843.6" x2="354.9" y2="858.2" stroke="#000" stroke-width="3.33"/>
<text x="354.9" y="891.5" text-anchor="middle" font-family="'Liberation Sans', Arial, sans-serif" font-size="25">0.4</text>
<line x1="527.9" y1="843.6" x2="527.9" y2="858.2" stroke="#000" stroke-width="3.33"/>
<text x="527.9" y="891.5" text-anchor="middle" font-family="'Liberation Sans', Arial, sans-serif" font-size="25">0.6</text>
<text x="369.1" y="929.6" text-anchor="middle" font-family="'Liberation Serif', 'Times New Roman', serif" font-size="25" font-style="italic">v</text>
<line x1="102.2" y1="831.8" x2="116.8" y2="831.8" stroke="#000" stroke-width="3.33"/>
<text x="87.6" y="840.5" text-anchor="end" font-family="'Liberation Sans', Arial, sans-serif" font-size="25">0.2</text>
<line x1="102.2" y1="718.25" x2="116.8" y2="718.25" stroke="#000" stroke-width="3.33"/>
<text x="87.6" y="726.95" text-anchor="end" font-family="'Liberation Sans', Arial, sans-serif" font-size="25">0.4</text>
<line x1="102.2" y1="604.7" x2="116.8" y2="604.7" stroke="#000" stroke-width="3.33"/>
<text x="87.6" y="613.4" text-anchor="end" font-family="'Liberation Sans', Arial, sans-serif" font-size="25">0.6</text>
<text x="32.6" y="674.8" text-anchor="middle" font-family="'Liberation Sans', Arial, sans-serif" font-size="25" transform="rotate(-90 32.6 674.8)">FCR</text>
<text x="1.5" y="501.3" font-family="'Liberation Sans', Arial, sans-serif" font-size="41">d</text>
<clipPath id="c4"><rect x="773.6" y="502" width="504.6" height="341.6"/></clipPath>
<g clip-path="url(#c4)">
<line x1="1054.95" y1="502" x2="1054.95" y2="843.6" stroke="#000" stroke-width="3" stroke-dasharray="3 4.72" stroke-dashoffset="0"/>
<line x1="1141.45" y1="502" x2="1141.45" y2="843.6" stroke="#000" stroke-width="3" stroke-dasharray="3 4.72" stroke-dashoffset="0"/>
<path d="M793 550.73V575.74M784.6 550.73H801.4M784.6 575.74H801.4M818.94 620.49V666.33M810.54 620.49H827.34M810.54 666.33H827.34M831.91 624.12V649.48M823.51 624.12H840.31M823.51 649.48H840.31M844.88 636.8V711.09M836.48 636.8H853.28M836.48 711.09H853.28M870.82 564.32V604.73M862.42 564.32H879.22M862.42 604.73H879.22M883.79 579.72V665.79M875.39 579.72H892.19M875.39 665.79H892.19M896.76 566.68V627.38M888.36 566.68H905.16M888.36 627.38H905.16M909.73 601.47V678.47M901.33 601.47H918.13M901.33 678.47H918.13M922.7 561.61V615.6M914.3 561.61H931.1M914.3 615.6H931.1M935.67 571.57V597.48M927.27 571.57H944.07M927.27 597.48H944.07M948.64 610.53V650.75M940.24 610.53H957.04M940.24 650.75H957.04M961.61 561.61V579.72M953.21 561.61H970.01M953.21 579.72H970.01M974.58 575.19V580.63M966.18 575.19H982.98M966.18 580.63H982.98M987.55 579.72V597.84M979.15 579.72H995.95M979.15 597.84H995.95M1000.52 558.89V577.91M992.12 558.89H1008.92M992.12 577.91H1008.92M1013.49 542.58V559.79M1005.09 542.58H1021.89M1005.09 559.79H1021.89M1026.46 547.11V557.98M1018.06 547.11H1034.86M1018.06 557.98H1034.86M1039.43 546.2V557.08M1031.03 546.2H1047.83M1031.03 557.08H1047.83M1052.4 528.99V536.24M1044 528.99H1060.8M1044 536.24H1060.8M1065.37 527.18V532.61M1056.97 527.18H1073.77M1056.97 532.61H1073.77M1078.34 524.46V529.9M1069.94 524.46H1086.74M1069.94 529.9H1086.74M1091.31 523.55V528.99M1082.91 523.55H1099.71M1082.91 528.99H1099.71M1104.28 524.1V529.53M1095.88 524.1H1112.68M1095.88 529.53H1112.68M1117.25 524.46V529.9M1108.85 524.46H1125.65M1108.85 529.9H1125.65M1130.22 526.27V531.71M1121.82 526.27H1138.62M1121.82 531.71H1138.62M1143.19 532.61V538.05M1134.79 532.61H1151.59M1134.79 538.05H1151.59M1156.16 549.83V555.26M1147.76 549.83H1164.56M1147.76 555.26H1164.56M1169.13 573.38V578.82M1160.73 573.38H1177.53M1160.73 578.82H1177.53M1182.1 600.56V607.81M1173.7 600.56H1190.5M1173.7 607.81H1190.5M1195.07 625.02V632.27M1186.67 625.02H1203.47M1186.67 632.27H1203.47M1208.04 634.08V655.83M1199.64 634.08H1216.44M1199.64 655.83H1216.44M1221.01 663.07V690.25M1212.61 663.07H1229.41M1212.61 690.25H1229.41M1233.98 703.84V738.27M1225.58 703.84H1242.38M1225.58 738.27H1242.38M1246.95 755.48V786.28M1238.55 755.48H1255.35M1238.55 786.28H1255.35M1259.92 781.75V837.92M1251.52 781.75H1268.32M1251.52 837.92H1268.32" stroke="#BBBBBB" stroke-width="3.5" fill="none"/>
<path d="M844.88 578.28V602.01M836.48 578.28H853.28M836.48 602.01H853.28M883.79 531.71V572.11M875.39 531.71H892.19M875.39 572.11H892.19M896.76 586.61V614.15M888.36 586.61H905.16M888.36 614.15H905.16M909.73 548.02V601.83M901.33 548.02H918.13M901.33 601.83H918.13M935.67 607.27V690.25M927.27 607.27H944.07M927.27 690.25H944.07M948.64 555.81V584.25M940.24 555.81H957.04M940.24 584.25H957.04M961.61 579.36V606.54M953.21 579.36H970.01M953.21 606.54H970.01M974.58 570.66V602.37M966.18 570.66H982.98M966.18 602.37H982.98M987.55 594.22V615.06M979.15 594.22H995.95M979.15 615.06H995.95M1000.52 584.25V606.9M992.12 584.25H1008.92M992.12 606.9H1008.92M1013.49 547.11V580.27M1005.09 547.11H1021.89M1005.09 580.27H1021.89M1026.46 537.14V561.61M1018.06 537.14H1034.86M1018.06 561.61H1034.86M1039.43 530.8V554.36M1031.03 530.8H1047.83M1031.03 554.36H1047.83M1052.4 531.71V545.3M1044 531.71H1060.8M1044 545.3H1060.8M1065.37 529.53V533.88M1056.97 529.53H1073.77M1056.97 533.88H1073.77M1078.34 529.53V533.88M1069.94 529.53H1086.74M1069.94 533.88H1086.74M1091.31 524.1V528.45M1082.91 524.1H1099.71M1082.91 528.45H1099.71M1104.28 525V529.35M1095.88 525H1112.68M1095.88 529.35H1112.68M1117.25 525.91V530.26M1108.85 525.91H1125.65M1108.85 530.26H1125.65M1130.22 527.72V532.07M1121.82 527.72H1138.62M1121.82 532.07H1138.62M1143.19 534.97V539.32M1134.79 534.97H1151.59M1134.79 539.32H1151.59M1156.16 554V558.34M1147.76 554H1164.56M1147.76 558.34H1164.56M1169.13 580.27V584.62M1160.73 580.27H1177.53M1160.73 584.62H1177.53M1182.1 613.25V622.3M1173.7 613.25H1190.5M1173.7 622.3H1190.5M1195.07 627.74V643.14M1186.67 627.74H1203.47M1186.67 643.14H1203.47M1208.04 663.98V683M1199.64 663.98H1216.44M1199.64 683H1216.44M1221.01 708.37V730.11M1212.61 708.37H1229.41M1212.61 730.11H1229.41M1233.98 659.45V714.71M1225.58 659.45H1242.38M1225.58 714.71H1242.38M1246.95 768.16V817.99M1238.55 768.16H1255.35M1238.55 817.99H1255.35" stroke="#CC3311" stroke-width="3.5" fill="none"/>
<g fill="#BBBBBB"><circle cx="793" cy="563.42" r="6.1"/><circle cx="818.94" cy="644.05" r="6.1"/><circle cx="831.91" cy="636.26" r="6.1"/><circle cx="844.88" cy="674.31" r="6.1"/><circle cx="870.82" cy="584.62" r="6.1"/><circle cx="883.79" cy="623.21" r="6.1"/><circle cx="896.76" cy="596.03" r="6.1"/><circle cx="909.73" cy="640.42" r="6.1"/><circle cx="922.7" cy="588.78" r="6.1"/><circle cx="935.67" cy="584.62" r="6.1"/><circle cx="948.64" cy="630.82" r="6.1"/><circle cx="961.61" cy="570.66" r="6.1"/><circle cx="974.58" cy="577.91" r="6.1"/><circle cx="987.55" cy="588.78" r="6.1"/><circle cx="1000.52" cy="568.85" r="6.1"/><circle cx="1013.49" cy="553.45" r="6.1"/><circle cx="1026.46" cy="552.55" r="6.1"/><circle cx="1039.43" cy="551.64" r="6.1"/><circle cx="1052.4" cy="532.61" r="6.1"/><circle cx="1065.37" cy="529.9" r="6.1"/><circle cx="1078.34" cy="527.18" r="6.1"/><circle cx="1091.31" cy="526.27" r="6.1"/><circle cx="1104.28" cy="526.82" r="6.1"/><circle cx="1117.25" cy="527.18" r="6.1"/><circle cx="1130.22" cy="528.99" r="6.1"/><circle cx="1143.19" cy="535.33" r="6.1"/><circle cx="1156.16" cy="552.55" r="6.1"/><circle cx="1169.13" cy="576.1" r="6.1"/><circle cx="1182.1" cy="604.19" r="6.1"/><circle cx="1195.07" cy="628.65" r="6.1"/><circle cx="1208.04" cy="644.95" r="6.1"/><circle cx="1221.01" cy="675.76" r="6.1"/><circle cx="1233.98" cy="721.96" r="6.1"/><circle cx="1246.95" cy="773.6" r="6.1"/><circle cx="1259.92" cy="810.74" r="6.1"/></g>
<g fill="#CC3311"><circle cx="844.88" cy="590.6" r="6.1"/><circle cx="883.79" cy="552" r="6.1"/><circle cx="896.76" cy="599.66" r="6.1"/><circle cx="909.73" cy="574.65" r="6.1"/><circle cx="935.67" cy="648.94" r="6.1"/><circle cx="948.64" cy="570.66" r="6.1"/><circle cx="961.61" cy="591.86" r="6.1"/><circle cx="974.58" cy="586.97" r="6.1"/><circle cx="987.55" cy="603.28" r="6.1"/><circle cx="1000.52" cy="595.13" r="6.1"/><circle cx="1013.49" cy="563.78" r="6.1"/><circle cx="1026.46" cy="548.92" r="6.1"/><circle cx="1039.43" cy="542.58" r="6.1"/><circle cx="1052.4" cy="538.05" r="6.1"/><circle cx="1065.37" cy="531.71" r="6.1"/><circle cx="1078.34" cy="531.71" r="6.1"/><circle cx="1091.31" cy="526.27" r="6.1"/><circle cx="1104.28" cy="527.18" r="6.1"/><circle cx="1117.25" cy="528.08" r="6.1"/><circle cx="1130.22" cy="529.9" r="6.1"/><circle cx="1143.19" cy="537.14" r="6.1"/><circle cx="1156.16" cy="556.17" r="6.1"/><circle cx="1169.13" cy="582.44" r="6.1"/><circle cx="1182.1" cy="617.41" r="6.1"/><circle cx="1195.07" cy="634.99" r="6.1"/><circle cx="1208.04" cy="673.58" r="6.1"/><circle cx="1221.01" cy="719.24" r="6.1"/><circle cx="1233.98" cy="687.53" r="6.1"/><circle cx="1246.95" cy="793.53" r="6.1"/></g>
</g>
<rect x="773.6" y="502" width="504.6" height="341.6" fill="none" stroke="#000" stroke-width="3.33" stroke-linejoin="miter"/>
<line x1="838.7" y1="843.6" x2="838.7" y2="858.2" stroke="#000" stroke-width="3.33"/>
<text x="838.7" y="891.5" text-anchor="middle" font-family="'Liberation Sans', Arial, sans-serif" font-size="25">0.2</text>
<line x1="1011.7" y1="843.6" x2="1011.7" y2="858.2" stroke="#000" stroke-width="3.33"/>
<text x="1011.7" y="891.5" text-anchor="middle" font-family="'Liberation Sans', Arial, sans-serif" font-size="25">0.4</text>
<line x1="1184.7" y1="843.6" x2="1184.7" y2="858.2" stroke="#000" stroke-width="3.33"/>
<text x="1184.7" y="891.5" text-anchor="middle" font-family="'Liberation Sans', Arial, sans-serif" font-size="25">0.6</text>
<text x="1025.9" y="929.6" text-anchor="middle" font-family="'Liberation Serif', 'Times New Roman', serif" font-size="25" font-style="italic">v</text>
<line x1="759" y1="795" x2="773.6" y2="795" stroke="#000" stroke-width="3.33"/>
<text x="744.4" y="803.7" text-anchor="end" font-family="'Liberation Sans', Arial, sans-serif" font-size="25">0.2</text>
<line x1="759" y1="682.3" x2="773.6" y2="682.3" stroke="#000" stroke-width="3.33"/>
<text x="744.4" y="691" text-anchor="end" font-family="'Liberation Sans', Arial, sans-serif" font-size="25">0.3</text>
<line x1="759" y1="569.6" x2="773.6" y2="569.6" stroke="#000" stroke-width="3.33"/>
<text x="744.4" y="578.3" text-anchor="end" font-family="'Liberation Sans', Arial, sans-serif" font-size="25">0.4</text>
<text x="685.8" y="671.8" text-anchor="middle" font-family="'Liberation Serif', 'Times New Roman', serif" font-size="25" transform="rotate(-90 685.8 671.8)"><tspan font-family="'DejaVu Serif', serif" font-size="34.5" dy="0.8">⟨</tspan><tspan font-style="italic" dy="-0.8" dx="-0.6">λ</tspan><tspan font-family="'DejaVu Serif', serif" font-size="34.5" dy="0.8" dx="-1.7">⟩</tspan></text>
<text x="654.5" y="501.3" font-family="'Liberation Sans', Arial, sans-serif" font-size="41">e</text>
<clipPath id="c5"><rect x="1430.4" y="502" width="504.6" height="341.6"/></clipPath>
<g clip-path="url(#c5)">
<line x1="1711.75" y1="502" x2="1711.75" y2="843.6" stroke="#000" stroke-width="3" stroke-dasharray="3 4.72" stroke-dashoffset="0"/>
<line x1="1798.25" y1="502" x2="1798.25" y2="843.6" stroke="#000" stroke-width="3" stroke-dasharray="3 4.72" stroke-dashoffset="0"/>
<path d="M1449.8 638.61V748.23M1441.4 638.61H1458.2M1441.4 748.23H1458.2M1475.74 579.72V712.9M1467.34 579.72H1484.14M1467.34 712.9H1484.14M1488.71 711.99V772.69M1480.31 711.99H1497.11M1480.31 772.69H1497.11M1501.68 506.34V636.8M1493.28 506.34H1510.08M1493.28 636.8H1510.08M1527.62 613.25V687.53M1519.22 613.25H1536.02M1519.22 687.53H1536.02M1540.59 627.74V711.09M1532.19 627.74H1548.99M1532.19 711.09H1548.99M1553.56 642.24V688.44M1545.16 642.24H1561.96M1545.16 688.44H1561.96M1566.53 625.93V703.84M1558.13 625.93H1574.93M1558.13 703.84H1574.93M1579.5 632.27V691.16M1571.1 632.27H1587.9M1571.1 691.16H1587.9M1592.47 661.26V708.37M1584.07 661.26H1600.87M1584.07 708.37H1600.87M1605.44 655.83V702.94M1597.04 655.83H1613.84M1597.04 702.94H1613.84M1618.41 674.85V718.34M1610.01 674.85H1626.81M1610.01 718.34H1626.81M1631.38 733.74V760.01M1622.98 733.74H1639.78M1622.98 760.01H1639.78M1644.35 699.31V725.58M1635.95 699.31H1652.75M1635.95 725.58H1652.75M1657.32 717.43V735.55M1648.92 717.43H1665.72M1648.92 735.55H1665.72M1670.29 717.43V731.93M1661.89 717.43H1678.69M1661.89 731.93H1678.69M1683.26 720.15V729.21M1674.86 720.15H1691.66M1674.86 729.21H1691.66M1696.23 744.61V754.58M1687.83 744.61H1704.63M1687.83 754.58H1704.63M1709.2 752.76V762.73M1700.8 752.76H1717.6M1700.8 762.73H1717.6M1722.17 766.35V772.69M1713.77 766.35H1730.57M1713.77 772.69H1730.57M1735.14 786.28V794.44M1726.74 786.28H1743.54M1726.74 794.44H1743.54M1748.11 801.69V807.12M1739.71 801.69H1756.51M1739.71 807.12H1756.51M1761.08 808.93V814.37M1752.68 808.93H1769.48M1752.68 814.37H1769.48M1774.05 807.12V812.56M1765.65 807.12H1782.45M1765.65 812.56H1782.45M1787.02 803.5V808.93M1778.62 803.5H1795.42M1778.62 808.93H1795.42M1799.99 801.69V807.12M1791.59 801.69H1808.39M1791.59 807.12H1808.39M1812.96 806.21V811.65M1804.56 806.21H1821.36M1804.56 811.65H1821.36M1825.93 816.18V821.62M1817.53 816.18H1834.33M1817.53 821.62H1834.33M1838.9 811.65V817.09M1830.5 811.65H1847.3M1830.5 817.09H1847.3M1851.87 786.28V797.16M1843.47 786.28H1860.27M1843.47 797.16H1860.27M1864.84 788.1V806.21M1856.44 788.1H1873.24M1856.44 806.21H1873.24M1877.81 779.94V806.21M1869.41 779.94H1886.21M1869.41 806.21H1886.21M1890.78 741.89V797.16M1882.38 741.89H1899.18M1882.38 797.16H1899.18M1903.75 670.32V726.49M1895.35 670.32H1912.15M1895.35 726.49H1912.15M1916.72 610.89V700.22M1908.32 610.89H1925.12M1908.32 700.22H1925.12" stroke="#BBBBBB" stroke-width="3.5" fill="none"/>
<path d="M1501.68 743.7V767.8M1493.28 743.7H1510.08M1493.28 767.8H1510.08M1540.59 648.58V699.31M1532.19 648.58H1548.99M1532.19 699.31H1548.99M1553.56 657.64V725.58M1545.16 657.64H1561.96M1545.16 725.58H1561.96M1566.53 670.32V697.5M1558.13 670.32H1574.93M1558.13 697.5H1574.93M1592.47 636.26V717.43M1584.07 636.26H1600.87M1584.07 717.43H1600.87M1605.44 705.65V752.76M1597.04 705.65H1613.84M1597.04 752.76H1613.84M1618.41 647.13V702.03M1610.01 647.13H1626.81M1610.01 702.03H1626.81M1631.38 708.37V765.45M1622.98 708.37H1639.78M1622.98 765.45H1639.78M1644.35 720.15V750.95M1635.95 720.15H1652.75M1635.95 750.95H1652.75M1657.32 650.39V689.89M1648.92 650.39H1665.72M1648.92 689.89H1665.72M1670.29 683.91V709.82M1661.89 683.91H1678.69M1661.89 709.82H1678.69M1683.26 706.56V730.11M1674.86 706.56H1691.66M1674.86 730.11H1691.66M1696.23 728.3V742.8M1687.83 728.3H1704.63M1687.83 742.8H1704.63M1709.2 736.46V751.86M1700.8 736.46H1717.6M1700.8 751.86H1717.6M1722.17 757.29V767.26M1713.77 757.29H1730.57M1713.77 767.26H1730.57M1735.14 777.22V783.57M1726.74 777.22H1743.54M1726.74 783.57H1743.54M1748.11 800.24V805.67M1739.71 800.24H1756.51M1739.71 805.67H1756.51M1761.08 807.12V812.56M1752.68 807.12H1769.48M1752.68 812.56H1769.48M1774.05 803.13V808.57M1765.65 803.13H1782.45M1765.65 808.57H1782.45M1787.02 797.16V802.59M1778.62 797.16H1795.42M1778.62 802.59H1795.42M1799.99 801.69V807.12M1791.59 801.69H1808.39M1791.59 807.12H1808.39M1812.96 814.37V819.8M1804.56 814.37H1821.36M1804.56 819.8H1821.36M1825.93 824.33V829.77M1817.53 824.33H1834.33M1817.53 829.77H1834.33M1838.9 814.37V819.8M1830.5 814.37H1847.3M1830.5 819.8H1847.3M1851.87 799.87V816.18M1843.47 799.87H1860.27M1843.47 816.18H1860.27M1864.84 806.21V822.52M1856.44 806.21H1873.24M1856.44 822.52H1873.24M1877.81 753.67V788.1M1869.41 753.67H1886.21M1869.41 788.1H1886.21M1890.78 777.22V855.14M1882.38 777.22H1899.18M1882.38 855.14H1899.18M1903.75 711.63V817.99M1895.35 711.63H1912.15M1895.35 817.99H1912.15" stroke="#CC3311" stroke-width="3.5" fill="none"/>
<g fill="#BBBBBB"><circle cx="1449.8" cy="693.51" r="6.1"/><circle cx="1475.74" cy="646.77" r="6.1"/><circle cx="1488.71" cy="741.89" r="6.1"/><circle cx="1501.68" cy="571.93" r="6.1"/><circle cx="1527.62" cy="650.39" r="6.1"/><circle cx="1540.59" cy="667.6" r="6.1"/><circle cx="1553.56" cy="665.79" r="6.1"/><circle cx="1566.53" cy="664.88" r="6.1"/><circle cx="1579.5" cy="661.26" r="6.1"/><circle cx="1592.47" cy="685.72" r="6.1"/><circle cx="1605.44" cy="680.29" r="6.1"/><circle cx="1618.41" cy="696.59" r="6.1"/><circle cx="1631.38" cy="747.33" r="6.1"/><circle cx="1644.35" cy="712.9" r="6.1"/><circle cx="1657.32" cy="726.49" r="6.1"/><circle cx="1670.29" cy="724.68" r="6.1"/><circle cx="1683.26" cy="724.68" r="6.1"/><circle cx="1696.23" cy="750.05" r="6.1"/><circle cx="1709.2" cy="757.29" r="6.1"/><circle cx="1722.17" cy="769.98" r="6.1"/><circle cx="1735.14" cy="789.91" r="6.1"/><circle cx="1748.11" cy="804.4" r="6.1"/><circle cx="1761.08" cy="811.65" r="6.1"/><circle cx="1774.05" cy="809.84" r="6.1"/><circle cx="1787.02" cy="806.21" r="6.1"/><circle cx="1799.99" cy="804.4" r="6.1"/><circle cx="1812.96" cy="808.93" r="6.1"/><circle cx="1825.93" cy="818.9" r="6.1"/><circle cx="1838.9" cy="814.37" r="6.1"/><circle cx="1851.87" cy="791.72" r="6.1"/><circle cx="1864.84" cy="797.16" r="6.1"/><circle cx="1877.81" cy="788.1" r="6.1"/><circle cx="1890.78" cy="769.98" r="6.1"/><circle cx="1903.75" cy="698.41" r="6.1"/><circle cx="1916.72" cy="655.83" r="6.1"/></g>
<g fill="#CC3311"><circle cx="1501.68" cy="755.48" r="6.1"/><circle cx="1540.59" cy="674.31" r="6.1"/><circle cx="1553.56" cy="692.06" r="6.1"/><circle cx="1566.53" cy="684.45" r="6.1"/><circle cx="1592.47" cy="677.57" r="6.1"/><circle cx="1605.44" cy="730.11" r="6.1"/><circle cx="1618.41" cy="674.85" r="6.1"/><circle cx="1631.38" cy="737.36" r="6.1"/><circle cx="1644.35" cy="735.55" r="6.1"/><circle cx="1657.32" cy="670.32" r="6.1"/><circle cx="1670.29" cy="696.59" r="6.1"/><circle cx="1683.26" cy="718.34" r="6.1"/><circle cx="1696.23" cy="736.46" r="6.1"/><circle cx="1709.2" cy="743.7" r="6.1"/><circle cx="1722.17" cy="761.82" r="6.1"/><circle cx="1735.14" cy="780.85" r="6.1"/><circle cx="1748.11" cy="802.95" r="6.1"/><circle cx="1761.08" cy="809.84" r="6.1"/><circle cx="1774.05" cy="805.85" r="6.1"/><circle cx="1787.02" cy="799.87" r="6.1"/><circle cx="1799.99" cy="804.4" r="6.1"/><circle cx="1812.96" cy="817.09" r="6.1"/><circle cx="1825.93" cy="827.05" r="6.1"/><circle cx="1838.9" cy="817.09" r="6.1"/><circle cx="1851.87" cy="808.03" r="6.1"/><circle cx="1864.84" cy="814.91" r="6.1"/><circle cx="1877.81" cy="771.24" r="6.1"/><circle cx="1890.78" cy="811.65" r="6.1"/><circle cx="1903.75" cy="765.45" r="6.1"/></g>
</g>
<rect x="1430.4" y="502" width="504.6" height="341.6" fill="none" stroke="#000" stroke-width="3.33" stroke-linejoin="miter"/>
<line x1="1495.5" y1="843.6" x2="1495.5" y2="858.2" stroke="#000" stroke-width="3.33"/>
<text x="1495.5" y="891.5" text-anchor="middle" font-family="'Liberation Sans', Arial, sans-serif" font-size="25">0.2</text>
<line x1="1668.5" y1="843.6" x2="1668.5" y2="858.2" stroke="#000" stroke-width="3.33"/>
<text x="1668.5" y="891.5" text-anchor="middle" font-family="'Liberation Sans', Arial, sans-serif" font-size="25">0.4</text>
<line x1="1841.5" y1="843.6" x2="1841.5" y2="858.2" stroke="#000" stroke-width="3.33"/>
<text x="1841.5" y="891.5" text-anchor="middle" font-family="'Liberation Sans', Arial, sans-serif" font-size="25">0.6</text>
<text x="1682.7" y="929.6" text-anchor="middle" font-family="'Liberation Serif', 'Times New Roman', serif" font-size="25" font-style="italic">v</text>
<line x1="1415.8" y1="827" x2="1430.4" y2="827" stroke="#000" stroke-width="3.33"/>
<text x="1401.2" y="835.7" text-anchor="end" font-family="'Liberation Sans', Arial, sans-serif" font-size="25">0.2</text>
<line x1="1415.8" y1="745.75" x2="1430.4" y2="745.75" stroke="#000" stroke-width="3.33"/>
<text x="1401.2" y="754.45" text-anchor="end" font-family="'Liberation Sans', Arial, sans-serif" font-size="25">0.3</text>
<line x1="1415.8" y1="664.5" x2="1430.4" y2="664.5" stroke="#000" stroke-width="3.33"/>
<text x="1401.2" y="673.2" text-anchor="end" font-family="'Liberation Sans', Arial, sans-serif" font-size="25">0.4</text>
<line x1="1415.8" y1="583.25" x2="1430.4" y2="583.25" stroke="#000" stroke-width="3.33"/>
<text x="1401.2" y="591.95" text-anchor="end" font-family="'Liberation Sans', Arial, sans-serif" font-size="25">0.5</text>
<line x1="1415.8" y1="502" x2="1430.4" y2="502" stroke="#000" stroke-width="3.33"/>
<text x="1401.2" y="510.7" text-anchor="end" font-family="'Liberation Sans', Arial, sans-serif" font-size="25">0.6</text>
<text x="1345" y="674.8" text-anchor="middle" font-family="'Liberation Serif', 'Times New Roman', serif" font-size="25" transform="rotate(-90 1345 674.8)" font-style="italic">κ</text>
<text x="1318" y="501.3" font-family="'Liberation Sans', Arial, sans-serif" font-size="41">f</text>
<rect x="116.6" y="998" width="323.3" height="61.8" fill="#BBBBBB"/>
<rect x="116.6" y="1122.4" width="306.06" height="61.8" fill="#BBBBBB"/>
<rect x="116.6" y="1246.8" width="76.08" height="61.8" fill="#BBBBBB"/>
<rect x="116.6" y="982.5" width="340.8" height="341.7" fill="none" stroke="#000" stroke-width="3.33" stroke-linejoin="miter"/>
<line x1="116.6" y1="1324.2" x2="116.6" y2="1338.8" stroke="#000" stroke-width="3.33"/>
<text x="116.6" y="1372.1" text-anchor="middle" font-family="'Liberation Sans', Arial, sans-serif" font-size="25">0</text>
<line x1="224.37" y1="1324.2" x2="224.37" y2="1338.8" stroke="#000" stroke-width="3.33"/>
<text x="224.37" y="1372.1" text-anchor="middle" font-family="'Liberation Sans', Arial, sans-serif" font-size="25">50</text>
<line x1="332.13" y1="1324.2" x2="332.13" y2="1338.8" stroke="#000" stroke-width="3.33"/>
<text x="332.13" y="1372.1" text-anchor="middle" font-family="'Liberation Sans', Arial, sans-serif" font-size="25">100</text>
<line x1="439.9" y1="1324.2" x2="439.9" y2="1338.8" stroke="#000" stroke-width="3.33"/>
<text x="439.9" y="1372.1" text-anchor="middle" font-family="'Liberation Sans', Arial, sans-serif" font-size="25">150</text>
<line x1="102" y1="1028.9" x2="116.6" y2="1028.9" stroke="#000" stroke-width="3.33"/>
<text x="87.4" y="1037.6" text-anchor="end" font-family="'Liberation Serif', 'Times New Roman', serif" font-size="25" transform="translate(0 3.4)"><tspan font-family="'DejaVu Serif', serif" font-size="34.5" dy="0.8">⟨</tspan><tspan font-style="italic" dy="-0.8" dx="-0.6">λ</tspan><tspan font-family="'DejaVu Serif', serif" font-size="34.5" dy="0.8" dx="-1.7">⟩</tspan></text>
<line x1="102" y1="1153.3" x2="116.6" y2="1153.3" stroke="#000" stroke-width="3.33"/>
<text x="87.4" y="1162" text-anchor="end" font-family="'Liberation Sans', Arial, sans-serif" font-size="25">SHD</text>
<line x1="102" y1="1277.7" x2="116.6" y2="1277.7" stroke="#000" stroke-width="3.33"/>
<text x="87.4" y="1286.4" text-anchor="end" font-family="'Liberation Sans', Arial, sans-serif" font-size="25">SCD</text>
<text x="286.65" y="1408.8" text-anchor="middle" font-family="'Liberation Sans', Arial, sans-serif" font-size="25">Permutation Importance</text>
<text x="1.5" y="988.5" font-family="'Liberation Sans', Arial, sans-serif" font-size="41">g</text>
<clipPath id="c6"><rect x="609.3" y="982.5" width="340.8" height="341.7"/></clipPath>
<g clip-path="url(#c6)">
<path d="M632.35 1071V1083M623.95 1071H640.75M623.95 1083H640.75M641.8 1055V1072M633.4 1055H650.2M633.4 1072H650.2M651.25 1068V1092M642.85 1068H659.65M642.85 1092H659.65M660.7 1071V1084M652.3 1071H669.1M652.3 1084H669.1M670.15 1113V1125M661.75 1113H678.55M661.75 1125H678.55M679.6 1128V1137M671.2 1128H688M671.2 1137H688M689.05 1144V1150M680.65 1144H697.45M680.65 1150H697.45M698.5 1156V1162M690.1 1156H706.9M690.1 1162H706.9M707.95 1162V1168M699.55 1162H716.35M699.55 1168H716.35M717.4 1163V1169M709 1163H725.8M709 1169H725.8M726.85 1165V1171M718.45 1165H735.25M718.45 1171H735.25M736.3 1163V1169M727.9 1163H744.7M727.9 1169H744.7M745.75 1163V1169M737.35 1163H754.15M737.35 1169H754.15M755.2 1165V1171M746.8 1165H763.6M746.8 1171H763.6M764.65 1169V1175M756.25 1169H773.05M756.25 1175H773.05M774.1 1174V1182M765.7 1174H782.5M765.7 1182H782.5M783.55 1182V1189M775.15 1182H791.95M775.15 1189H791.95M793 1190V1199M784.6 1190H801.4M784.6 1199H801.4M802.45 1199V1208M794.05 1199H810.85M794.05 1208H810.85M811.9 1205V1214M803.5 1205H820.3M803.5 1214H820.3M821.35 1217V1225M812.95 1217H829.75M812.95 1225H829.75M830.8 1227V1235M822.4 1227H839.2M822.4 1235H839.2M840.25 1238V1247M831.85 1238H848.65M831.85 1247H848.65M849.7 1238V1249M841.3 1238H858.1M841.3 1249H858.1M859.15 1239V1251M850.75 1239H867.55M850.75 1251H867.55M868.6 1245V1257M860.2 1245H877M860.2 1257H877M878.05 1249V1261M869.65 1249H886.45M869.65 1261H886.45M887.5 1270V1285M879.1 1270H895.9M879.1 1285H895.9M896.95 1262V1270M888.55 1262H905.35M888.55 1270H905.35M906.4 1266V1274M898 1266H914.8M898 1274H914.8M915.85 1284V1296M907.45 1284H924.25M907.45 1296H924.25" stroke="#BBBBBB" stroke-width="3.5" fill="none"/>
<path d="M641.8 1039.1V1102.3M633.4 1039.1H650.2M633.4 1102.3H650.2M651.25 1047.9V1063.1M642.85 1047.9H659.65M642.85 1063.1H659.65M660.7 1057.7V1075.8M652.3 1057.7H669.1M652.3 1075.8H669.1M670.15 1102.3V1118.9M661.75 1102.3H678.55M661.75 1118.9H678.55M679.6 1118V1128.7M671.2 1118H688M671.2 1128.7H688M689.05 1143V1148M680.65 1143H697.45M680.65 1148H697.45M698.5 1155V1159M690.1 1155H706.9M690.1 1159H706.9M707.95 1161V1165M699.55 1161H716.35M699.55 1165H716.35M717.4 1162.5V1166.5M709 1162.5H725.8M709 1166.5H725.8M726.85 1164V1168M718.45 1164H735.25M718.45 1168H735.25M736.3 1162V1166M727.9 1162H744.7M727.9 1166H744.7M745.75 1161.5V1165.5M737.35 1161.5H754.15M737.35 1165.5H754.15M755.2 1163V1167M746.8 1163H763.6M746.8 1167H763.6M764.65 1170.5V1174.5M756.25 1170.5H773.05M756.25 1174.5H773.05M774.1 1182.5V1186.5M765.7 1182.5H782.5M765.7 1186.5H782.5M783.55 1195.5V1199.5M775.15 1195.5H791.95M775.15 1199.5H791.95M793 1211V1216M784.6 1211H801.4M784.6 1216H801.4M802.45 1221V1226M794.05 1221H810.85M794.05 1226H810.85M811.9 1227V1232M803.5 1227H820.3M803.5 1232H820.3M821.35 1235V1240M812.95 1235H829.75M812.95 1240H829.75M830.8 1233V1239M822.4 1233H839.2M822.4 1239H839.2M840.25 1244V1255.3M831.85 1244H848.65M831.85 1255.3H848.65M849.7 1252.8V1266.4M841.3 1252.8H858.1M841.3 1266.4H858.1M859.15 1256V1264M850.75 1256H867.55M850.75 1264H867.55M868.6 1249.9V1274.4M860.2 1249.9H877M860.2 1274.4H877M878.05 1251V1273M869.65 1251H886.45M869.65 1273H886.45M887.5 1277.8V1290M879.1 1277.8H895.9M879.1 1290H895.9" stroke="#CC3311" stroke-width="3.5" fill="none"/>
<g fill="#BBBBBB"><circle cx="632.35" cy="1077" r="6.1"/><circle cx="641.8" cy="1062" r="6.1"/><circle cx="651.25" cy="1078" r="6.1"/><circle cx="660.7" cy="1077" r="6.1"/><circle cx="670.15" cy="1119" r="6.1"/><circle cx="679.6" cy="1132" r="6.1"/><circle cx="689.05" cy="1147" r="6.1"/><circle cx="698.5" cy="1159" r="6.1"/><circle cx="707.95" cy="1165" r="6.1"/><circle cx="717.4" cy="1166" r="6.1"/><circle cx="726.85" cy="1168" r="6.1"/><circle cx="736.3" cy="1166" r="6.1"/><circle cx="745.75" cy="1166" r="6.1"/><circle cx="755.2" cy="1168" r="6.1"/><circle cx="764.65" cy="1172" r="6.1"/><circle cx="774.1" cy="1178.1" r="6.1"/><circle cx="783.55" cy="1185.7" r="6.1"/><circle cx="793" cy="1194.5" r="6.1"/><circle cx="802.45" cy="1203.3" r="6.1"/><circle cx="811.9" cy="1209.7" r="6.1"/><circle cx="821.35" cy="1221" r="6.1"/><circle cx="830.8" cy="1231.1" r="6.1"/><circle cx="840.25" cy="1242.4" r="6.1"/><circle cx="849.7" cy="1243.7" r="6.1"/><circle cx="859.15" cy="1244.9" r="6.1"/><circle cx="868.6" cy="1251.2" r="6.1"/><circle cx="878.05" cy="1255" r="6.1"/><circle cx="887.5" cy="1277.7" r="6.1"/><circle cx="896.95" cy="1266" r="6.1"/><circle cx="906.4" cy="1270.1" r="6.1"/><circle cx="915.85" cy="1290.3" r="6.1"/></g>
<g fill="#CC3311"><circle cx="641.8" cy="1070.9" r="6.1"/><circle cx="651.25" cy="1055.3" r="6.1"/><circle cx="660.7" cy="1067" r="6.1"/><circle cx="670.15" cy="1111.1" r="6.1"/><circle cx="679.6" cy="1123.8" r="6.1"/><circle cx="689.05" cy="1145.4" r="6.1"/><circle cx="698.5" cy="1157.1" r="6.1"/><circle cx="707.95" cy="1163" r="6.1"/><circle cx="717.4" cy="1164.5" r="6.1"/><circle cx="726.85" cy="1166" r="6.1"/><circle cx="736.3" cy="1164" r="6.1"/><circle cx="745.75" cy="1163.5" r="6.1"/><circle cx="755.2" cy="1165" r="6.1"/><circle cx="764.65" cy="1172.5" r="6.1"/><circle cx="774.1" cy="1184.5" r="6.1"/><circle cx="783.55" cy="1197.5" r="6.1"/><circle cx="793" cy="1213.4" r="6.1"/><circle cx="802.45" cy="1223.5" r="6.1"/><circle cx="811.9" cy="1229.8" r="6.1"/><circle cx="821.35" cy="1237.4" r="6.1"/><circle cx="830.8" cy="1236.1" r="6.1"/><circle cx="840.25" cy="1248.7" r="6.1"/><circle cx="849.7" cy="1258.8" r="6.1"/><circle cx="859.15" cy="1260" r="6.1"/><circle cx="868.6" cy="1261.3" r="6.1"/><circle cx="878.05" cy="1262.6" r="6.1"/><circle cx="887.5" cy="1284" r="6.1"/></g>
</g>
<rect x="609.3" y="982.5" width="340.8" height="341.7" fill="none" stroke="#000" stroke-width="3.33" stroke-linejoin="miter"/>
<line x1="618.2" y1="1324.2" x2="618.2" y2="1338.8" stroke="#000" stroke-width="3.33"/>
<text x="618.2" y="1372.1" text-anchor="middle" font-family="'Liberation Sans', Arial, sans-serif" font-size="25">9.5</text>
<line x1="712.7" y1="1324.2" x2="712.7" y2="1338.8" stroke="#000" stroke-width="3.33"/>
<text x="712.7" y="1372.1" text-anchor="middle" font-family="'Liberation Sans', Arial, sans-serif" font-size="25">10.0</text>
<line x1="807.2" y1="1324.2" x2="807.2" y2="1338.8" stroke="#000" stroke-width="3.33"/>
<text x="807.2" y="1372.1" text-anchor="middle" font-family="'Liberation Sans', Arial, sans-serif" font-size="25">10.5</text>
<line x1="901.7" y1="1324.2" x2="901.7" y2="1338.8" stroke="#000" stroke-width="3.33"/>
<text x="901.7" y="1372.1" text-anchor="middle" font-family="'Liberation Sans', Arial, sans-serif" font-size="25">11.0</text>
<text font-family="'Liberation Serif', 'Times New Roman', serif" font-size="25"><tspan x="711.9" y="1413" font-style="italic">S</tspan><tspan x="724.9" y="1418.4" font-size="18.2">conf</tspan><tspan x="763.5" y="1413">/</tspan><tspan x="776.5" y="1413" font-style="italic">N</tspan><tspan x="809.2" y="1413">(</tspan><tspan x="815.8" y="1413" font-style="italic">k</tspan><tspan x="826.9" y="1418.4" font-size="18.2" font-style="italic">B</tspan><tspan x="839.4" y="1413">)</tspan></text>
<line x1="594.7" y1="1280.7" x2="609.3" y2="1280.7" stroke="#000" stroke-width="3.33"/>
<text x="580.1" y="1289.4" text-anchor="end" font-family="'Liberation Sans', Arial, sans-serif" font-size="25">0.2</text>
<line x1="594.7" y1="1183.73" x2="609.3" y2="1183.73" stroke="#000" stroke-width="3.33"/>
<text x="580.1" y="1192.43" text-anchor="end" font-family="'Liberation Sans', Arial, sans-serif" font-size="25">0.4</text>
<line x1="594.7" y1="1086.77" x2="609.3" y2="1086.77" stroke="#000" stroke-width="3.33"/>
<text x="580.1" y="1095.47" text-anchor="end" font-family="'Liberation Sans', Arial, sans-serif" font-size="25">0.6</text>
<line x1="594.7" y1="989.8" x2="609.3" y2="989.8" stroke="#000" stroke-width="3.33"/>
<text x="580.1" y="998.5" text-anchor="end" font-family="'Liberation Sans', Arial, sans-serif" font-size="25">0.8</text>
<text x="521.7" y="1152.85" text-anchor="middle" font-family="'Liberation Serif', 'Times New Roman', serif" font-size="25" transform="rotate(-90 521.7 1152.85)"><tspan font-family="'DejaVu Serif', serif" font-size="34.5" dy="0.8">⟨</tspan><tspan font-style="italic" dy="-0.8" dx="-0.6">λ</tspan><tspan font-family="'DejaVu Serif', serif" font-size="34.5" dy="0.8" dx="-1.7">⟩</tspan></text>
<text x="497" y="988.5" font-family="'Liberation Sans', Arial, sans-serif" font-size="41">h</text>
<clipPath id="c7"><rect x="1102" y="982.5" width="340.8" height="341.7"/></clipPath>
<g clip-path="url(#c7)">
<path d="M1125.05 1011.8V1023.1M1116.65 1011.8H1133.45M1116.65 1023.1H1133.45M1134.5 1020V1036M1126.1 1020H1142.9M1126.1 1036H1142.9M1143.95 1033V1043M1135.55 1033H1152.35M1135.55 1043H1152.35M1153.4 1036V1045M1145 1036H1161.8M1145 1045H1161.8M1162.85 1039V1050M1154.45 1039H1171.25M1154.45 1050H1171.25M1172.3 1050.8V1058.4M1163.9 1050.8H1180.7M1163.9 1058.4H1180.7M1181.75 1064V1070M1173.35 1064H1190.15M1173.35 1070H1190.15M1191.2 1076V1083M1182.8 1076H1199.6M1182.8 1083H1199.6M1200.65 1098V1104M1192.25 1098H1209.05M1192.25 1104H1209.05M1210.1 1122V1128M1201.7 1122H1218.5M1201.7 1128H1218.5M1219.55 1142V1149M1211.15 1142H1227.95M1211.15 1149H1227.95M1229 1160V1166M1220.6 1160H1237.4M1220.6 1166H1237.4M1238.45 1174V1180M1230.05 1174H1246.85M1230.05 1180H1246.85M1247.9 1189V1195M1239.5 1189H1256.3M1239.5 1195H1256.3M1257.35 1201V1208M1248.95 1201H1265.75M1248.95 1208H1265.75M1266.8 1209V1216M1258.4 1209H1275.2M1258.4 1216H1275.2M1276.25 1217V1225M1267.85 1217H1284.65M1267.85 1225H1284.65M1285.7 1225V1232M1277.3 1225H1294.1M1277.3 1232H1294.1M1295.15 1230V1237M1286.75 1230H1303.55M1286.75 1237H1303.55M1304.6 1236V1244M1296.2 1236H1313M1296.2 1244H1313M1314.05 1243V1252M1305.65 1243H1322.45M1305.65 1252H1322.45M1323.5 1252V1261M1315.1 1252H1331.9M1315.1 1261H1331.9M1332.95 1259V1269M1324.55 1259H1341.35M1324.55 1269H1341.35M1342.4 1266V1277M1334 1266H1350.8M1334 1277H1350.8M1351.85 1270V1280M1343.45 1270H1360.25M1343.45 1280H1360.25M1361.3 1270V1281M1352.9 1270H1369.7M1352.9 1281H1369.7M1370.75 1262.5V1277.7M1362.35 1262.5H1379.15M1362.35 1277.7H1379.15M1380.2 1285.2V1291.1M1371.8 1285.2H1388.6M1371.8 1291.1H1388.6M1389.65 1281V1289M1381.25 1281H1398.05M1381.25 1289H1398.05M1399.1 1280.3V1286.2M1390.7 1280.3H1407.5M1390.7 1286.2H1407.5M1408.55 1286.7V1303.3M1400.15 1286.7H1416.95M1400.15 1303.3H1416.95" stroke="#BBBBBB" stroke-width="3.5" fill="none"/>
<path d="M1134.5 1023.1V1064.7M1126.1 1023.1H1142.9M1126.1 1064.7H1142.9M1143.95 1018V1031M1135.55 1018H1152.35M1135.55 1031H1152.35M1153.4 1025.6V1038.2M1145 1025.6H1161.8M1145 1038.2H1161.8M1162.85 1008V1026.9M1154.45 1008H1171.25M1154.45 1026.9H1171.25M1172.3 1031V1038M1163.9 1031H1180.7M1163.9 1038H1180.7M1181.75 1039V1045M1173.35 1039H1190.15M1173.35 1045H1190.15M1191.2 1065V1070M1182.8 1065H1199.6M1182.8 1070H1199.6M1200.65 1092V1097M1192.25 1092H1209.05M1192.25 1097H1209.05M1210.1 1117V1123M1201.7 1117H1218.5M1201.7 1123H1218.5M1219.55 1139V1145M1211.15 1139H1227.95M1211.15 1145H1227.95M1229 1156V1162M1220.6 1156H1237.4M1220.6 1162H1237.4M1238.45 1171V1177M1230.05 1171H1246.85M1230.05 1177H1246.85M1247.9 1186V1192M1239.5 1186H1256.3M1239.5 1192H1256.3M1257.35 1200V1205M1248.95 1200H1265.75M1248.95 1205H1265.75M1266.8 1213V1218M1258.4 1213H1275.2M1258.4 1218H1275.2M1276.25 1227V1232M1267.85 1227H1284.65M1267.85 1232H1284.65M1285.7 1237V1241M1277.3 1237H1294.1M1277.3 1241H1294.1M1295.15 1242V1246M1286.75 1242H1303.55M1286.75 1246H1303.55M1304.6 1247V1251M1296.2 1247H1313M1296.2 1251H1313M1314.05 1247V1251M1305.65 1247H1322.45M1305.65 1251H1322.45M1323.5 1230.9V1249M1315.1 1230.9H1331.9M1315.1 1249H1331.9M1332.95 1247V1272.5M1324.55 1247H1341.35M1324.55 1272.5H1341.35M1342.4 1273V1280.8M1334 1273H1350.8M1334 1280.8H1350.8M1351.85 1242.1V1279.3M1343.45 1242.1H1360.25M1343.45 1279.3H1360.25M1361.3 1219.6V1268.6M1352.9 1219.6H1369.7M1352.9 1268.6H1369.7M1370.75 1238.2V1279.3M1362.35 1238.2H1379.15M1362.35 1279.3H1379.15M1380.2 1290.6V1299.4M1371.8 1290.6H1388.6M1371.8 1299.4H1388.6" stroke="#CC3311" stroke-width="3.5" fill="none"/>
<g fill="#BBBBBB"><circle cx="1125.05" cy="1016.8" r="6.1"/><circle cx="1134.5" cy="1028.1" r="6.1"/><circle cx="1143.95" cy="1038.2" r="6.1"/><circle cx="1153.4" cy="1040.7" r="6.1"/><circle cx="1162.85" cy="1044.5" r="6.1"/><circle cx="1172.3" cy="1054.6" r="6.1"/><circle cx="1181.75" cy="1067.2" r="6.1"/><circle cx="1191.2" cy="1079.8" r="6.1"/><circle cx="1200.65" cy="1101.2" r="6.1"/><circle cx="1210.1" cy="1125.2" r="6.1"/><circle cx="1219.55" cy="1145.4" r="6.1"/><circle cx="1229" cy="1163" r="6.1"/><circle cx="1238.45" cy="1176.9" r="6.1"/><circle cx="1247.9" cy="1192" r="6.1"/><circle cx="1257.35" cy="1204.6" r="6.1"/><circle cx="1266.8" cy="1212.2" r="6.1"/><circle cx="1276.25" cy="1221" r="6.1"/><circle cx="1285.7" cy="1228.6" r="6.1"/><circle cx="1295.15" cy="1233.6" r="6.1"/><circle cx="1304.6" cy="1239.9" r="6.1"/><circle cx="1314.05" cy="1247.5" r="6.1"/><circle cx="1323.5" cy="1256.3" r="6.1"/><circle cx="1332.95" cy="1263.8" r="6.1"/><circle cx="1342.4" cy="1271.4" r="6.1"/><circle cx="1351.85" cy="1275.2" r="6.1"/><circle cx="1361.3" cy="1275.4" r="6.1"/><circle cx="1370.75" cy="1270.1" r="6.1"/><circle cx="1380.2" cy="1288.1" r="6.1"/><circle cx="1389.65" cy="1285" r="6.1"/><circle cx="1399.1" cy="1283.3" r="6.1"/><circle cx="1408.55" cy="1295.5" r="6.1"/></g>
<g fill="#CC3311"><circle cx="1134.5" cy="1045.3" r="6.1"/><circle cx="1143.95" cy="1024.4" r="6.1"/><circle cx="1153.4" cy="1033.2" r="6.1"/><circle cx="1162.85" cy="1018.1" r="6.1"/><circle cx="1172.3" cy="1034.4" r="6.1"/><circle cx="1181.75" cy="1042" r="6.1"/><circle cx="1191.2" cy="1067.7" r="6.1"/><circle cx="1200.65" cy="1094.9" r="6.1"/><circle cx="1210.1" cy="1120.2" r="6.1"/><circle cx="1219.55" cy="1142.1" r="6.1"/><circle cx="1229" cy="1159.2" r="6.1"/><circle cx="1238.45" cy="1174.4" r="6.1"/><circle cx="1247.9" cy="1189" r="6.1"/><circle cx="1257.35" cy="1202.8" r="6.1"/><circle cx="1266.8" cy="1215.8" r="6.1"/><circle cx="1276.25" cy="1229.8" r="6.1"/><circle cx="1285.7" cy="1239.2" r="6.1"/><circle cx="1295.15" cy="1244.1" r="6.1"/><circle cx="1304.6" cy="1249" r="6.1"/><circle cx="1314.05" cy="1249" r="6.1"/><circle cx="1323.5" cy="1240.2" r="6.1"/><circle cx="1332.95" cy="1258.8" r="6.1"/><circle cx="1342.4" cy="1276.9" r="6.1"/><circle cx="1351.85" cy="1258.8" r="6.1"/><circle cx="1361.3" cy="1245.5" r="6.1"/><circle cx="1370.75" cy="1258.8" r="6.1"/><circle cx="1380.2" cy="1294.5" r="6.1"/></g>
</g>
<rect x="1102" y="982.5" width="340.8" height="341.7" fill="none" stroke="#000" stroke-width="3.33" stroke-linejoin="miter"/>
<line x1="1110.9" y1="1324.2" x2="1110.9" y2="1338.8" stroke="#000" stroke-width="3.33"/>
<text x="1110.9" y="1372.1" text-anchor="middle" font-family="'Liberation Sans', Arial, sans-serif" font-size="25">9.5</text>
<line x1="1205.4" y1="1324.2" x2="1205.4" y2="1338.8" stroke="#000" stroke-width="3.33"/>
<text x="1205.4" y="1372.1" text-anchor="middle" font-family="'Liberation Sans', Arial, sans-serif" font-size="25">10.0</text>
<line x1="1299.9" y1="1324.2" x2="1299.9" y2="1338.8" stroke="#000" stroke-width="3.33"/>
<text x="1299.9" y="1372.1" text-anchor="middle" font-family="'Liberation Sans', Arial, sans-serif" font-size="25">10.5</text>
<line x1="1394.4" y1="1324.2" x2="1394.4" y2="1338.8" stroke="#000" stroke-width="3.33"/>
<text x="1394.4" y="1372.1" text-anchor="middle" font-family="'Liberation Sans', Arial, sans-serif" font-size="25">11.0</text>
<text font-family="'Liberation Serif', 'Times New Roman', serif" font-size="25"><tspan x="1204.6" y="1413" font-style="italic">S</tspan><tspan x="1217.6" y="1418.4" font-size="18.2">conf</tspan><tspan x="1256.2" y="1413">/</tspan><tspan x="1269.2" y="1413" font-style="italic">N</tspan><tspan x="1301.9" y="1413">(</tspan><tspan x="1308.5" y="1413" font-style="italic">k</tspan><tspan x="1319.6" y="1418.4" font-size="18.2" font-style="italic">B</tspan><tspan x="1332.1" y="1413">)</tspan></text>
<line x1="1087.4" y1="1311" x2="1102" y2="1311" stroke="#000" stroke-width="3.33"/>
<text x="1072.8" y="1319.7" text-anchor="end" font-family="'Liberation Sans', Arial, sans-serif" font-size="25">1</text>
<line x1="1087.4" y1="1251.76" x2="1102" y2="1251.76" stroke="#000" stroke-width="3.33"/>
<text x="1072.8" y="1260.46" text-anchor="end" font-family="'Liberation Sans', Arial, sans-serif" font-size="25">2</text>
<line x1="1087.4" y1="1192.52" x2="1102" y2="1192.52" stroke="#000" stroke-width="3.33"/>
<text x="1072.8" y="1201.22" text-anchor="end" font-family="'Liberation Sans', Arial, sans-serif" font-size="25">3</text>
<line x1="1087.4" y1="1133.28" x2="1102" y2="1133.28" stroke="#000" stroke-width="3.33"/>
<text x="1072.8" y="1141.98" text-anchor="end" font-family="'Liberation Sans', Arial, sans-serif" font-size="25">4</text>
<line x1="1087.4" y1="1074.04" x2="1102" y2="1074.04" stroke="#000" stroke-width="3.33"/>
<text x="1072.8" y="1082.74" text-anchor="end" font-family="'Liberation Sans', Arial, sans-serif" font-size="25">5</text>
<line x1="1087.4" y1="1014.8" x2="1102" y2="1014.8" stroke="#000" stroke-width="3.33"/>
<text x="1072.8" y="1023.5" text-anchor="end" font-family="'Liberation Sans', Arial, sans-serif" font-size="25">6</text>
<text x="1038" y="1155.35" text-anchor="middle" font-family="'Liberation Sans', Arial, sans-serif" font-size="25" transform="rotate(-90 1038 1155.35)">SHD</text>
<text x="992" y="988.5" font-family="'Liberation Sans', Arial, sans-serif" font-size="41">i</text>
<clipPath id="c8"><rect x="1594.7" y="982.5" width="340.8" height="341.7"/></clipPath>
<g clip-path="url(#c8)">
<line x1="1594.7" y1="1274.4" x2="1935.5" y2="1274.4" stroke="#000" stroke-width="1.7"/>
<path d="M1617.75 1272V1276M1609.35 1272H1626.15M1609.35 1276H1626.15M1627.2 1271V1274.5M1618.8 1271H1635.6M1618.8 1274.5H1635.6M1636.65 1270V1273M1628.25 1270H1645.05M1628.25 1273H1645.05M1646.1 1267V1271M1637.7 1267H1654.5M1637.7 1271H1654.5M1655.55 1260V1267.8M1647.15 1260H1663.95M1647.15 1267.8H1663.95M1665 1270.5V1273.5M1656.6 1270.5H1673.4M1656.6 1273.5H1673.4M1674.45 1271.5V1274.5M1666.05 1271.5H1682.85M1666.05 1274.5H1682.85M1683.9 1271.5V1274.5M1675.5 1271.5H1692.3M1675.5 1274.5H1692.3M1693.35 1271.5V1274.5M1684.95 1271.5H1701.75M1684.95 1274.5H1701.75M1702.8 1271.5V1274.5M1694.4 1271.5H1711.2M1694.4 1274.5H1711.2M1712.25 1271.5V1274.5M1703.85 1271.5H1720.65M1703.85 1274.5H1720.65M1721.7 1271.5V1274.5M1713.3 1271.5H1730.1M1713.3 1274.5H1730.1M1731.15 1271.5V1274.5M1722.75 1271.5H1739.55M1722.75 1274.5H1739.55M1740.6 1271.5V1274.5M1732.2 1271.5H1749M1732.2 1274.5H1749M1750.05 1271.5V1274.5M1741.65 1271.5H1758.45M1741.65 1274.5H1758.45M1759.5 1271.5V1274.5M1751.1 1271.5H1767.9M1751.1 1274.5H1767.9M1768.95 1270.5V1273.5M1760.55 1270.5H1777.35M1760.55 1273.5H1777.35M1778.4 1267V1271M1770 1267H1786.8M1770 1271H1786.8M1787.85 1263V1267M1779.45 1263H1796.25M1779.45 1267H1796.25M1797.3 1259V1264M1788.9 1259H1805.7M1788.9 1264H1805.7M1806.75 1254V1261M1798.35 1254H1815.15M1798.35 1261H1815.15M1816.2 1236V1248M1807.8 1236H1824.6M1807.8 1248H1824.6M1825.65 1235V1247M1817.25 1235H1834.05M1817.25 1247H1834.05M1835.1 1228V1236M1826.7 1228H1843.5M1826.7 1236H1843.5M1844.55 1163.4V1217.9M1836.15 1163.4H1852.95M1836.15 1217.9H1852.95M1854 1234V1244M1845.6 1234H1862.4M1845.6 1244H1862.4M1863.45 1095V1185.3M1855.05 1095H1871.85M1855.05 1185.3H1871.85M1872.9 1177V1217.9M1864.5 1177H1881.3M1864.5 1217.9H1881.3M1891.8 1135.7V1208.1M1883.4 1135.7H1900.2M1883.4 1208.1H1900.2M1901.25 990V1153.6M1892.85 990H1909.65M1892.85 1153.6H1909.65" stroke="#BBBBBB" stroke-width="3.5" fill="none"/>
<path d="M1627.2 1275.2V1311.7M1618.8 1275.2H1635.6M1618.8 1311.7H1635.6M1636.65 1270V1275M1628.25 1270H1645.05M1628.25 1275H1645.05M1646.1 1270V1275M1637.7 1270H1654.5M1637.7 1275H1654.5M1655.55 1241.2V1266.4M1647.15 1241.2H1663.95M1647.15 1266.4H1663.95M1665 1265.1V1271.4M1656.6 1265.1H1673.4M1656.6 1271.4H1673.4M1674.45 1271V1274.5M1666.05 1271H1682.85M1666.05 1274.5H1682.85M1683.9 1270V1273M1675.5 1270H1692.3M1675.5 1273H1692.3M1693.35 1268V1271M1684.95 1268H1701.75M1684.95 1271H1701.75M1702.8 1266.5V1270M1694.4 1266.5H1711.2M1694.4 1270H1711.2M1712.25 1269V1272M1703.85 1269H1720.65M1703.85 1272H1720.65M1721.7 1268.5V1272M1713.3 1268.5H1730.1M1713.3 1272H1730.1M1731.15 1269V1272M1722.75 1269H1739.55M1722.75 1272H1739.55M1740.6 1270V1273.5M1732.2 1270H1749M1732.2 1273.5H1749M1750.05 1271V1274.5M1741.65 1271H1758.45M1741.65 1274.5H1758.45M1759.5 1272V1275M1751.1 1272H1767.9M1751.1 1275H1767.9M1768.95 1267V1271M1760.55 1267H1777.35M1760.55 1271H1777.35M1778.4 1260V1265M1770 1260H1786.8M1770 1265H1786.8M1787.85 1250V1258M1779.45 1250H1796.25M1779.45 1258H1796.25M1797.3 1237.4V1249.9M1788.9 1237.4H1805.7M1788.9 1249.9H1805.7M1806.75 1180.3V1217.1M1798.35 1180.3H1815.15M1798.35 1217.1H1815.15M1816.2 1055.9V1180.4M1807.8 1055.9H1824.6M1807.8 1180.4H1824.6M1825.65 1190.2V1234.1M1817.25 1190.2H1834.05M1817.25 1234.1H1834.05M1835.1 1221.4V1235.8M1826.7 1221.4H1843.5M1826.7 1235.8H1843.5M1844.55 1131.6V1211.3M1836.15 1131.6H1852.95M1836.15 1211.3H1852.95M1854 1090.9V1173.9M1845.6 1090.9H1862.4M1845.6 1173.9H1862.4M1863.45 1012V1136.5M1855.05 1012H1871.85M1855.05 1136.5H1871.85M1872.9 1156V1198.3M1864.5 1156H1881.3M1864.5 1198.3H1881.3" stroke="#CC3311" stroke-width="3.5" fill="none"/>
<g fill="#BBBBBB"><circle cx="1617.75" cy="1273.9" r="6.1"/><circle cx="1627.2" cy="1272.7" r="6.1"/><circle cx="1636.65" cy="1271.4" r="6.1"/><circle cx="1646.1" cy="1268.9" r="6.1"/><circle cx="1655.55" cy="1263.9" r="6.1"/><circle cx="1665" cy="1272" r="6.1"/><circle cx="1674.45" cy="1273" r="6.1"/><circle cx="1683.9" cy="1273" r="6.1"/><circle cx="1693.35" cy="1273" r="6.1"/><circle cx="1702.8" cy="1273" r="6.1"/><circle cx="1712.25" cy="1273" r="6.1"/><circle cx="1721.7" cy="1273" r="6.1"/><circle cx="1731.15" cy="1273" r="6.1"/><circle cx="1740.6" cy="1273" r="6.1"/><circle cx="1750.05" cy="1273" r="6.1"/><circle cx="1759.5" cy="1273" r="6.1"/><circle cx="1768.95" cy="1272" r="6.1"/><circle cx="1778.4" cy="1268.9" r="6.1"/><circle cx="1787.85" cy="1265.1" r="6.1"/><circle cx="1797.3" cy="1261.3" r="6.1"/><circle cx="1806.75" cy="1257.5" r="6.1"/><circle cx="1816.2" cy="1241.8" r="6.1"/><circle cx="1825.65" cy="1241" r="6.1"/><circle cx="1835.1" cy="1232" r="6.1"/><circle cx="1844.55" cy="1191.8" r="6.1"/><circle cx="1854" cy="1239.1" r="6.1"/><circle cx="1863.45" cy="1141.4" r="6.1"/><circle cx="1872.9" cy="1197.5" r="6.1"/><circle cx="1891.8" cy="1172.3" r="6.1"/><circle cx="1901.25" cy="1071.4" r="6.1"/></g>
<g fill="#CC3311"><circle cx="1627.2" cy="1294.1" r="6.1"/><circle cx="1636.65" cy="1272.7" r="6.1"/><circle cx="1646.1" cy="1272.7" r="6.1"/><circle cx="1655.55" cy="1255" r="6.1"/><circle cx="1665" cy="1268.2" r="6.1"/><circle cx="1674.45" cy="1272.7" r="6.1"/><circle cx="1683.9" cy="1271.4" r="6.1"/><circle cx="1693.35" cy="1269.6" r="6.1"/><circle cx="1702.8" cy="1268.1" r="6.1"/><circle cx="1712.25" cy="1270.6" r="6.1"/><circle cx="1721.7" cy="1270.1" r="6.1"/><circle cx="1731.15" cy="1270.6" r="6.1"/><circle cx="1740.6" cy="1271.9" r="6.1"/><circle cx="1750.05" cy="1272.7" r="6.1"/><circle cx="1759.5" cy="1273.4" r="6.1"/><circle cx="1768.95" cy="1268.9" r="6.1"/><circle cx="1778.4" cy="1262.6" r="6.1"/><circle cx="1787.85" cy="1253.8" r="6.1"/><circle cx="1797.3" cy="1243.7" r="6.1"/><circle cx="1806.75" cy="1199.2" r="6.1"/><circle cx="1816.2" cy="1118.6" r="6.1"/><circle cx="1825.65" cy="1212.2" r="6.1"/><circle cx="1835.1" cy="1228.4" r="6.1"/><circle cx="1844.55" cy="1171.5" r="6.1"/><circle cx="1854" cy="1133.2" r="6.1"/><circle cx="1863.45" cy="1073.8" r="6.1"/><circle cx="1872.9" cy="1177.2" r="6.1"/></g>
</g>
<rect x="1594.7" y="982.5" width="340.8" height="341.7" fill="none" stroke="#000" stroke-width="3.33" stroke-linejoin="miter"/>
<line x1="1603.6" y1="1324.2" x2="1603.6" y2="1338.8" stroke="#000" stroke-width="3.33"/>
<text x="1603.6" y="1372.1" text-anchor="middle" font-family="'Liberation Sans', Arial, sans-serif" font-size="25">9.5</text>
<line x1="1698.1" y1="1324.2" x2="1698.1" y2="1338.8" stroke="#000" stroke-width="3.33"/>
<text x="1698.1" y="1372.1" text-anchor="middle" font-family="'Liberation Sans', Arial, sans-serif" font-size="25">10.0</text>
<line x1="1792.6" y1="1324.2" x2="1792.6" y2="1338.8" stroke="#000" stroke-width="3.33"/>
<text x="1792.6" y="1372.1" text-anchor="middle" font-family="'Liberation Sans', Arial, sans-serif" font-size="25">10.5</text>
<line x1="1887.1" y1="1324.2" x2="1887.1" y2="1338.8" stroke="#000" stroke-width="3.33"/>
<text x="1887.1" y="1372.1" text-anchor="middle" font-family="'Liberation Sans', Arial, sans-serif" font-size="25">11.0</text>
<text font-family="'Liberation Serif', 'Times New Roman', serif" font-size="25"><tspan x="1697.3" y="1413" font-style="italic">S</tspan><tspan x="1710.3" y="1418.4" font-size="18.2">conf</tspan><tspan x="1748.9" y="1413">/</tspan><tspan x="1761.9" y="1413" font-style="italic">N</tspan><tspan x="1794.6" y="1413">(</tspan><tspan x="1801.2" y="1413" font-style="italic">k</tspan><tspan x="1812.3" y="1418.4" font-size="18.2" font-style="italic">B</tspan><tspan x="1824.8" y="1413">)</tspan></text>
<line x1="1580.1" y1="1274.4" x2="1594.7" y2="1274.4" stroke="#000" stroke-width="3.33"/>
<text x="1565.5" y="1283.1" text-anchor="end" font-family="'Liberation Sans', Arial, sans-serif" font-size="25">0</text>
<line x1="1580.1" y1="1203.2" x2="1594.7" y2="1203.2" stroke="#000" stroke-width="3.33"/>
<text x="1565.5" y="1211.9" text-anchor="end" font-family="'Liberation Sans', Arial, sans-serif" font-size="25">20</text>
<line x1="1580.1" y1="1132" x2="1594.7" y2="1132" stroke="#000" stroke-width="3.33"/>
<text x="1565.5" y="1140.7" text-anchor="end" font-family="'Liberation Sans', Arial, sans-serif" font-size="25">40</text>
<line x1="1580.1" y1="1060.8" x2="1594.7" y2="1060.8" stroke="#000" stroke-width="3.33"/>
<text x="1565.5" y="1069.5" text-anchor="end" font-family="'Liberation Sans', Arial, sans-serif" font-size="25">60</text>
<line x1="1580.1" y1="989.6" x2="1594.7" y2="989.6" stroke="#000" stroke-width="3.33"/>
<text x="1565.5" y="998.3" text-anchor="end" font-family="'Liberation Sans', Arial, sans-serif" font-size="25">80</text>
<text x="1517" y="1155.35" text-anchor="middle" font-family="'Liberation Sans', Arial, sans-serif" font-size="25" transform="rotate(-90 1517 1155.35)">SCD</text>
<text x="1487" y="988.5" font-family="'Liberation Sans', Arial, sans-serif" font-size="41">j</text>
<clipPath id="c9"><rect x="116.6" y="1464.2" width="340.8" height="339.7"/></clipPath>
<g clip-path="url(#c9)">
<g fill="#BBBBBB"><circle cx="353.36" cy="1573.49" r="3.7"/><circle cx="351.4" cy="1557.91" r="3.7"/><circle cx="353.57" cy="1570.48" r="3.7"/><circle cx="332.81" cy="1587.03" r="3.7"/><circle cx="315.7" cy="1569.21" r="3.7"/><circle cx="353.39" cy="1559.62" r="3.7"/><circle cx="343.35" cy="1571.09" r="3.7"/><circle cx="329.47" cy="1587.03" r="3.7"/><circle cx="379.93" cy="1538.75" r="3.7"/><circle cx="314.82" cy="1576.05" r="3.7"/><circle cx="340.16" cy="1579.41" r="3.7"/><circle cx="314.92" cy="1569.93" r="3.7"/><circle cx="380.17" cy="1547.22" r="3.7"/><circle cx="377.22" cy="1555.86" r="3.7"/><circle cx="400.38" cy="1523.47" r="3.7"/><circle cx="326.51" cy="1580.96" r="3.7"/><circle cx="385.64" cy="1541.61" r="3.7"/><circle cx="339.14" cy="1588.56" r="3.7"/><circle cx="356.54" cy="1561.31" r="3.7"/><circle cx="344.63" cy="1556.9" r="3.7"/><circle cx="319.43" cy="1576.5" r="3.7"/><circle cx="390.44" cy="1531.67" r="3.7"/><circle cx="391.07" cy="1544.96" r="3.7"/><circle cx="334.87" cy="1572.86" r="3.7"/><circle cx="337.44" cy="1575.51" r="3.7"/><circle cx="331.94" cy="1561.56" r="3.7"/><circle cx="371.66" cy="1560.49" r="3.7"/><circle cx="369.09" cy="1544.3" r="3.7"/><circle cx="366.31" cy="1575.64" r="3.7"/><circle cx="377.74" cy="1534.41" r="3.7"/><circle cx="338.21" cy="1580.73" r="3.7"/><circle cx="331.75" cy="1566.55" r="3.7"/><circle cx="350.75" cy="1553.38" r="3.7"/><circle cx="371.47" cy="1558.83" r="3.7"/><circle cx="325.71" cy="1581.14" r="3.7"/><circle cx="357.5" cy="1558.56" r="3.7"/><circle cx="390.25" cy="1536.19" r="3.7"/><circle cx="360.44" cy="1563.09" r="3.7"/><circle cx="354.97" cy="1580.96" r="3.7"/><circle cx="343.52" cy="1588.3" r="3.7"/><circle cx="368.6" cy="1565.57" r="3.7"/><circle cx="340.66" cy="1562.03" r="3.7"/><circle cx="396.62" cy="1539.36" r="3.7"/><circle cx="377.89" cy="1550.37" r="3.7"/><circle cx="373.17" cy="1548.6" r="3.7"/><circle cx="346.24" cy="1580.12" r="3.7"/><circle cx="377.11" cy="1534.86" r="3.7"/><circle cx="337.44" cy="1585.04" r="3.7"/><circle cx="363.22" cy="1577.83" r="3.7"/><circle cx="368.04" cy="1551.64" r="3.7"/><circle cx="408.06" cy="1527.26" r="3.7"/><circle cx="379.6" cy="1560.55" r="3.7"/><circle cx="370.33" cy="1538.47" r="3.7"/><circle cx="383.48" cy="1529.54" r="3.7"/><circle cx="337.03" cy="1584.76" r="3.7"/><circle cx="353.25" cy="1564.6" r="3.7"/><circle cx="362.92" cy="1552.62" r="3.7"/><circle cx="327.81" cy="1565.03" r="3.7"/><circle cx="365.64" cy="1567.81" r="3.7"/><circle cx="327.02" cy="1576.17" r="3.7"/><circle cx="344.4" cy="1586.58" r="3.7"/><circle cx="374.17" cy="1541.31" r="3.7"/><circle cx="390.05" cy="1549.96" r="3.7"/><circle cx="328.55" cy="1575.66" r="3.7"/><circle cx="355.77" cy="1561.58" r="3.7"/><circle cx="385.57" cy="1550.89" r="3.7"/><circle cx="333.54" cy="1580.21" r="3.7"/><circle cx="349.88" cy="1576.02" r="3.7"/><circle cx="362.46" cy="1558.1" r="3.7"/><circle cx="316.17" cy="1572.55" r="3.7"/><circle cx="387.12" cy="1541.06" r="3.7"/><circle cx="315.74" cy="1576.45" r="3.7"/><circle cx="351.22" cy="1575.77" r="3.7"/><circle cx="356.78" cy="1550.3" r="3.7"/><circle cx="359.26" cy="1552.35" r="3.7"/><circle cx="390.69" cy="1546.21" r="3.7"/><circle cx="400.5" cy="1514.85" r="3.7"/><circle cx="387.86" cy="1522.46" r="3.7"/><circle cx="331.19" cy="1565.09" r="3.7"/><circle cx="324.6" cy="1581.41" r="3.7"/><circle cx="392.23" cy="1538.33" r="3.7"/><circle cx="364.64" cy="1538.66" r="3.7"/><circle cx="354.96" cy="1555.64" r="3.7"/><circle cx="403.81" cy="1514.33" r="3.7"/><circle cx="344.56" cy="1585.43" r="3.7"/><circle cx="367.04" cy="1570.91" r="3.7"/><circle cx="356.83" cy="1565.59" r="3.7"/><circle cx="368.8" cy="1538.4" r="3.7"/><circle cx="402" cy="1531.23" r="3.7"/><circle cx="371.74" cy="1547.17" r="3.7"/><circle cx="391.96" cy="1527.56" r="3.7"/><circle cx="380.9" cy="1532.3" r="3.7"/><circle cx="368.56" cy="1541.62" r="3.7"/><circle cx="377.25" cy="1554.35" r="3.7"/><circle cx="407.33" cy="1526.09" r="3.7"/><circle cx="377.69" cy="1552.6" r="3.7"/><circle cx="360.62" cy="1574.33" r="3.7"/><circle cx="358.35" cy="1550.93" r="3.7"/><circle cx="386.35" cy="1539.13" r="3.7"/><circle cx="345.79" cy="1556.63" r="3.7"/><circle cx="386.02" cy="1551.48" r="3.7"/><circle cx="361.82" cy="1569.5" r="3.7"/><circle cx="387.5" cy="1522.86" r="3.7"/><circle cx="378.17" cy="1561.32" r="3.7"/><circle cx="339.55" cy="1559.78" r="3.7"/><circle cx="377.98" cy="1541.92" r="3.7"/><circle cx="395.78" cy="1528.41" r="3.7"/><circle cx="385.29" cy="1536.53" r="3.7"/><circle cx="387.85" cy="1548.38" r="3.7"/><circle cx="391.13" cy="1542.01" r="3.7"/><circle cx="333.71" cy="1577.52" r="3.7"/><circle cx="342.88" cy="1574.6" r="3.7"/><circle cx="385.02" cy="1530.67" r="3.7"/><circle cx="333.12" cy="1590.4" r="3.7"/><circle cx="381.81" cy="1559.21" r="3.7"/><circle cx="342.49" cy="1583.32" r="3.7"/><circle cx="381.3" cy="1552.7" r="3.7"/><circle cx="354.73" cy="1546.36" r="3.7"/><circle cx="327.24" cy="1574.26" r="3.7"/><circle cx="331.29" cy="1566.93" r="3.7"/><circle cx="385.97" cy="1529.76" r="3.7"/><circle cx="374.74" cy="1562.92" r="3.7"/><circle cx="341.61" cy="1574.46" r="3.7"/><circle cx="393.79" cy="1528.17" r="3.7"/><circle cx="320.79" cy="1589.31" r="3.7"/><circle cx="348.83" cy="1557.22" r="3.7"/><circle cx="389.18" cy="1520.82" r="3.7"/><circle cx="408.33" cy="1526.88" r="3.7"/><circle cx="389.14" cy="1527.94" r="3.7"/><circle cx="364.08" cy="1575.18" r="3.7"/><circle cx="333.99" cy="1576.83" r="3.7"/><circle cx="382.93" cy="1526.82" r="3.7"/><circle cx="352.03" cy="1576.79" r="3.7"/><circle cx="383.51" cy="1556.01" r="3.7"/><circle cx="349.29" cy="1577.78" r="3.7"/><circle cx="351.9" cy="1571.51" r="3.7"/><circle cx="399.7" cy="1532.21" r="3.7"/><circle cx="342.25" cy="1587.45" r="3.7"/><circle cx="372.39" cy="1539.49" r="3.7"/><circle cx="357.26" cy="1549.79" r="3.7"/><circle cx="393.1" cy="1548.26" r="3.7"/><circle cx="346.47" cy="1569.6" r="3.7"/><circle cx="343.48" cy="1565.47" r="3.7"/><circle cx="388.88" cy="1550.89" r="3.7"/><circle cx="361.84" cy="1554.41" r="3.7"/><circle cx="394.53" cy="1517.49" r="3.7"/><circle cx="395.02" cy="1533.27" r="3.7"/><circle cx="380.79" cy="1558.04" r="3.7"/><circle cx="337.77" cy="1580.56" r="3.7"/><circle cx="353.51" cy="1570.33" r="3.7"/><circle cx="351.52" cy="1555.07" r="3.7"/><circle cx="331.37" cy="1594.49" r="3.7"/><circle cx="382.26" cy="1560.12" r="3.7"/><circle cx="388.24" cy="1546.56" r="3.7"/><circle cx="374.56" cy="1543.86" r="3.7"/><circle cx="337.41" cy="1579.71" r="3.7"/><circle cx="344.98" cy="1571.52" r="3.7"/><circle cx="339.02" cy="1581.04" r="3.7"/><circle cx="341.59" cy="1558.37" r="3.7"/><circle cx="398.93" cy="1527.5" r="3.7"/><circle cx="340.02" cy="1563.92" r="3.7"/><circle cx="379.02" cy="1531.26" r="3.7"/><circle cx="388.42" cy="1526.67" r="3.7"/><circle cx="379.6" cy="1533.42" r="3.7"/><circle cx="379.98" cy="1531.18" r="3.7"/><circle cx="354.51" cy="1554.35" r="3.7"/><circle cx="338.36" cy="1584.15" r="3.7"/><circle cx="390.42" cy="1548.29" r="3.7"/><circle cx="327.72" cy="1566.52" r="3.7"/><circle cx="367.73" cy="1551.89" r="3.7"/><circle cx="354.43" cy="1563.1" r="3.7"/><circle cx="385.26" cy="1540.88" r="3.7"/><circle cx="389.93" cy="1553.54" r="3.7"/><circle cx="375.33" cy="1541.77" r="3.7"/><circle cx="350.02" cy="1551.99" r="3.7"/><circle cx="336.78" cy="1589.85" r="3.7"/><circle cx="366.84" cy="1543.97" r="3.7"/><circle cx="360.88" cy="1557.03" r="3.7"/><circle cx="326.8" cy="1574.05" r="3.7"/><circle cx="359.16" cy="1550.19" r="3.7"/><circle cx="323.62" cy="1569.43" r="3.7"/><circle cx="361.38" cy="1578.36" r="3.7"/><circle cx="351.64" cy="1580.07" r="3.7"/><circle cx="331.58" cy="1577.56" r="3.7"/><circle cx="349.89" cy="1568.26" r="3.7"/><circle cx="376.06" cy="1546.23" r="3.7"/><circle cx="344.08" cy="1559.55" r="3.7"/><circle cx="344.79" cy="1558.66" r="3.7"/><circle cx="334.33" cy="1569.29" r="3.7"/><circle cx="397.17" cy="1532" r="3.7"/><circle cx="350.36" cy="1560.72" r="3.7"/><circle cx="391.59" cy="1536.03" r="3.7"/><circle cx="364.07" cy="1540.8" r="3.7"/><circle cx="343.18" cy="1569.07" r="3.7"/><circle cx="344.56" cy="1578.14" r="3.7"/><circle cx="344.54" cy="1588.04" r="3.7"/><circle cx="316.64" cy="1571.22" r="3.7"/><circle cx="377.85" cy="1548.61" r="3.7"/><circle cx="362.55" cy="1564.66" r="3.7"/><circle cx="396.55" cy="1518.68" r="3.7"/><circle cx="336.19" cy="1593.41" r="3.7"/><circle cx="335.84" cy="1592.41" r="3.7"/><circle cx="337.55" cy="1563.21" r="3.7"/><circle cx="325.67" cy="1583.97" r="3.7"/><circle cx="372.82" cy="1557.27" r="3.7"/><circle cx="319.28" cy="1588.65" r="3.7"/><circle cx="332.71" cy="1582.58" r="3.7"/><circle cx="370.9" cy="1556.92" r="3.7"/><circle cx="340.32" cy="1587.51" r="3.7"/><circle cx="334.99" cy="1562.82" r="3.7"/><circle cx="328.69" cy="1584.18" r="3.7"/><circle cx="346.47" cy="1562.79" r="3.7"/><circle cx="370.95" cy="1564.51" r="3.7"/><circle cx="318.77" cy="1576.06" r="3.7"/><circle cx="331.66" cy="1576.29" r="3.7"/><circle cx="382.78" cy="1549.46" r="3.7"/><circle cx="341.41" cy="1591.39" r="3.7"/><circle cx="362.07" cy="1550.69" r="3.7"/><circle cx="369.88" cy="1534.34" r="3.7"/><circle cx="336.68" cy="1561.84" r="3.7"/><circle cx="356.13" cy="1569.38" r="3.7"/><circle cx="356.43" cy="1572.12" r="3.7"/><circle cx="400.45" cy="1531.73" r="3.7"/><circle cx="344.04" cy="1581.65" r="3.7"/><circle cx="331.79" cy="1582.11" r="3.7"/><circle cx="344.99" cy="1584.06" r="3.7"/><circle cx="376.57" cy="1561.54" r="3.7"/><circle cx="399.51" cy="1537.85" r="3.7"/><circle cx="344.93" cy="1570.29" r="3.7"/><circle cx="399.97" cy="1518.17" r="3.7"/><circle cx="397.98" cy="1528.05" r="3.7"/><circle cx="402.95" cy="1524.48" r="3.7"/><circle cx="351.22" cy="1551.28" r="3.7"/><circle cx="360.14" cy="1547.72" r="3.7"/><circle cx="338.38" cy="1589.84" r="3.7"/><circle cx="331.27" cy="1570.52" r="3.7"/><circle cx="332.71" cy="1588.59" r="3.7"/><circle cx="360.98" cy="1542.87" r="3.7"/><circle cx="339.69" cy="1591.03" r="3.7"/><circle cx="350.46" cy="1553.97" r="3.7"/><circle cx="337.65" cy="1587.62" r="3.7"/><circle cx="382.42" cy="1528.05" r="3.7"/><circle cx="324.47" cy="1583.5" r="3.7"/><circle cx="336.53" cy="1565.16" r="3.7"/><circle cx="374.76" cy="1539.78" r="3.7"/><circle cx="319.57" cy="1587.24" r="3.7"/><circle cx="357.51" cy="1577.23" r="3.7"/><circle cx="337.59" cy="1562.42" r="3.7"/><circle cx="378.63" cy="1554.85" r="3.7"/><circle cx="330.93" cy="1584.12" r="3.7"/><circle cx="346.63" cy="1578.63" r="3.7"/><circle cx="359.81" cy="1562.3" r="3.7"/><circle cx="364.96" cy="1543.08" r="3.7"/><circle cx="351.12" cy="1570.8" r="3.7"/><circle cx="334.12" cy="1591.12" r="3.7"/><circle cx="396.44" cy="1526.04" r="3.7"/><circle cx="365.06" cy="1540.78" r="3.7"/><circle cx="366.79" cy="1557.74" r="3.7"/><circle cx="350.81" cy="1571.42" r="3.7"/><circle cx="367.33" cy="1542.4" r="3.7"/><circle cx="355.68" cy="1575.14" r="3.7"/><circle cx="316.68" cy="1577.3" r="3.7"/><circle cx="339.85" cy="1557.57" r="3.7"/><circle cx="322.21" cy="1583.91" r="3.7"/><circle cx="379.28" cy="1553.51" r="3.7"/><circle cx="337.59" cy="1589.85" r="3.7"/><circle cx="387.58" cy="1539.97" r="3.7"/><circle cx="390.05" cy="1539.53" r="3.7"/><circle cx="342.81" cy="1591.32" r="3.7"/><circle cx="363.13" cy="1543.66" r="3.7"/><circle cx="381.72" cy="1550.78" r="3.7"/><circle cx="387.86" cy="1540.36" r="3.7"/><circle cx="363.98" cy="1547.47" r="3.7"/><circle cx="330.24" cy="1585.48" r="3.7"/><circle cx="361.67" cy="1566.88" r="3.7"/><circle cx="323.8" cy="1576.73" r="3.7"/><circle cx="334.88" cy="1595.03" r="3.7"/><circle cx="340.56" cy="1589.54" r="3.7"/><circle cx="328.14" cy="1587.17" r="3.7"/><circle cx="379.85" cy="1560.92" r="3.7"/><circle cx="397.47" cy="1532.67" r="3.7"/><circle cx="339.95" cy="1566.59" r="3.7"/><circle cx="370.14" cy="1544.33" r="3.7"/><circle cx="380.96" cy="1554.25" r="3.7"/><circle cx="374.26" cy="1542" r="3.7"/><circle cx="403.73" cy="1527.58" r="3.7"/><circle cx="326.89" cy="1565.94" r="3.7"/><circle cx="377.03" cy="1548.9" r="3.7"/><circle cx="358.01" cy="1580.91" r="3.7"/><circle cx="336.27" cy="1570.58" r="3.7"/><circle cx="408.74" cy="1526.9" r="3.7"/><circle cx="392.46" cy="1531.5" r="3.7"/><circle cx="341.01" cy="1593.01" r="3.7"/><circle cx="358.29" cy="1565.73" r="3.7"/><circle cx="378.25" cy="1559" r="3.7"/><circle cx="344.14" cy="1578.63" r="3.7"/><circle cx="321.55" cy="1586.33" r="3.7"/><circle cx="321.57" cy="1570.35" r="3.7"/><circle cx="396.23" cy="1540.72" r="3.7"/><circle cx="315.67" cy="1580.4" r="3.7"/><circle cx="366.97" cy="1555.11" r="3.7"/><circle cx="338.16" cy="1561.55" r="3.7"/><circle cx="405.39" cy="1518.6" r="3.7"/><circle cx="334.75" cy="1577.34" r="3.7"/><circle cx="367.97" cy="1568.84" r="3.7"/><circle cx="373.48" cy="1546.84" r="3.7"/><circle cx="352.32" cy="1575.5" r="3.7"/><circle cx="371.62" cy="1562.72" r="3.7"/><circle cx="397.99" cy="1533.52" r="3.7"/><circle cx="330.81" cy="1585.15" r="3.7"/><circle cx="371.77" cy="1567.53" r="3.7"/><circle cx="376.89" cy="1561.29" r="3.7"/><circle cx="327.94" cy="1588.49" r="3.7"/><circle cx="343.11" cy="1558.74" r="3.7"/><circle cx="378.98" cy="1531.97" r="3.7"/><circle cx="324.55" cy="1588.97" r="3.7"/><circle cx="332.62" cy="1584.98" r="3.7"/><circle cx="344.87" cy="1556.98" r="3.7"/><circle cx="375.92" cy="1562.67" r="3.7"/><circle cx="337.03" cy="1584.24" r="3.7"/><circle cx="382.06" cy="1540" r="3.7"/><circle cx="373.51" cy="1533.83" r="3.7"/><circle cx="375.98" cy="1543.52" r="3.7"/><circle cx="341.55" cy="1589.92" r="3.7"/><circle cx="333.78" cy="1592.29" r="3.7"/><circle cx="333.52" cy="1582.91" r="3.7"/><circle cx="336.26" cy="1565.88" r="3.7"/><circle cx="350.78" cy="1576.88" r="3.7"/><circle cx="325.27" cy="1578.46" r="3.7"/><circle cx="343.14" cy="1580.24" r="3.7"/><circle cx="337.98" cy="1591.86" r="3.7"/><circle cx="316.2" cy="1573.9" r="3.7"/><circle cx="367.72" cy="1553.93" r="3.7"/><circle cx="321.09" cy="1578.35" r="3.7"/><circle cx="364.64" cy="1575.13" r="3.7"/><circle cx="362.87" cy="1546" r="3.7"/><circle cx="390.69" cy="1533.46" r="3.7"/><circle cx="341.16" cy="1590.27" r="3.7"/><circle cx="396.46" cy="1541.93" r="3.7"/><circle cx="340.21" cy="1563.35" r="3.7"/><circle cx="351.37" cy="1565.57" r="3.7"/><circle cx="271.9" cy="1575.5" r="3.7"/><circle cx="276.5" cy="1608" r="3.7"/><circle cx="328.4" cy="1559.3" r="3.7"/><circle cx="335.9" cy="1553.3" r="3.7"/><circle cx="318" cy="1629" r="3.7"/><circle cx="324.7" cy="1635" r="3.7"/><circle cx="336" cy="1612" r="3.7"/><circle cx="342" cy="1612.5" r="3.7"/><circle cx="359" cy="1592.7" r="3.7"/><circle cx="374" cy="1579.7" r="3.7"/><circle cx="399" cy="1568.6" r="3.7"/><circle cx="405.4" cy="1542" r="3.7"/><circle cx="418.4" cy="1542.6" r="3.7"/><circle cx="411" cy="1531" r="3.7"/><circle cx="374" cy="1514.8" r="3.7"/><circle cx="397.6" cy="1501.3" r="3.7"/><circle cx="422" cy="1494.8" r="3.7"/><circle cx="437" cy="1503" r="3.7"/><circle cx="433.7" cy="1497.6" r="3.7"/><circle cx="447" cy="1496.7" r="3.7"/><circle cx="292" cy="1569" r="3.7"/><circle cx="291.5" cy="1575" r="3.7"/><circle cx="291" cy="1582" r="3.7"/><circle cx="292" cy="1588" r="3.7"/><circle cx="295" cy="1594" r="3.7"/><circle cx="300" cy="1577" r="3.7"/><circle cx="303" cy="1571" r="3.7"/><circle cx="299" cy="1599" r="3.7"/><circle cx="303" cy="1605" r="3.7"/><circle cx="308" cy="1600" r="3.7"/><circle cx="310" cy="1610" r="3.7"/><circle cx="298" cy="1614" r="3.7"/><circle cx="303" cy="1620" r="3.7"/><circle cx="306" cy="1616" r="3.7"/><circle cx="313" cy="1616" r="3.7"/><circle cx="318" cy="1612" r="3.7"/><circle cx="322" cy="1606" r="3.7"/><circle cx="312" cy="1622" r="3.7"/><circle cx="296" cy="1626" r="3.7"/><circle cx="293" cy="1632" r="3.7"/><circle cx="300" cy="1633" r="3.7"/><circle cx="161.31" cy="1593.55" r="3.7"/><circle cx="216.58" cy="1615.46" r="3.7"/><circle cx="232.01" cy="1582.35" r="3.7"/><circle cx="236" cy="1575.13" r="3.7"/><circle cx="271.84" cy="1576.13" r="3.7"/><circle cx="261.39" cy="1601.77" r="3.7"/><circle cx="276.33" cy="1607.99" r="3.7"/><circle cx="263.88" cy="1629.15" r="3.7"/><circle cx="229.03" cy="1643.59" r="3.7"/><circle cx="236.49" cy="1652.8" r="3.7"/><circle cx="230.27" cy="1668.98" r="3.7"/><circle cx="248.44" cy="1664.01" r="3.7"/><circle cx="213.59" cy="1670.73" r="3.7"/><circle cx="258.9" cy="1687.16" r="3.7"/><circle cx="243.47" cy="1745.66" r="3.7"/><circle cx="138.66" cy="1726.24" r="3.7"/><circle cx="127.46" cy="1748.15" r="3.7"/><circle cx="293.75" cy="1569.41" r="3.7"/><circle cx="302.46" cy="1568.16" r="3.7"/><circle cx="297.49" cy="1579.37" r="3.7"/><circle cx="296.24" cy="1589.32" r="3.7"/><circle cx="306.2" cy="1586.83" r="3.7"/><circle cx="311.18" cy="1591.81" r="3.7"/><circle cx="293.75" cy="1622.93" r="3.7"/><circle cx="303.71" cy="1624.17" r="3.7"/><circle cx="319.39" cy="1629.9" r="3.7"/><circle cx="323.62" cy="1635.38" r="3.7"/><circle cx="334.83" cy="1611.73" r="3.7"/><circle cx="341.05" cy="1612.97" r="3.7"/><circle cx="373.41" cy="1515.14" r="3.7"/><circle cx="397.56" cy="1502.19" r="3.7"/><circle cx="420.21" cy="1495.22" r="3.7"/><circle cx="429.42" cy="1496.72" r="3.7"/><circle cx="448.1" cy="1497.21" r="3.7"/><circle cx="436.15" cy="1505.18" r="3.7"/><circle cx="398.31" cy="1568.16" r="3.7"/><circle cx="418.72" cy="1543.27" r="3.7"/><circle cx="405.78" cy="1542.52" r="3.7"/><circle cx="358.97" cy="1592.31" r="3.7"/><circle cx="374.66" cy="1579.37" r="3.7"/><circle cx="328.6" cy="1559.45" r="3.7"/><circle cx="336.07" cy="1553.23" r="3.7"/><circle cx="410.75" cy="1529.58" r="3.7"/><circle cx="398.31" cy="1512.15" r="3.7"/><circle cx="383.37" cy="1524.6" r="3.7"/><circle cx="292.51" cy="1575.63" r="3.7"/><circle cx="291.76" cy="1583.1" r="3.7"/><circle cx="298.73" cy="1595.55" r="3.7"/><circle cx="301.72" cy="1601.77" r="3.7"/><circle cx="308.69" cy="1604.26" r="3.7"/><circle cx="316.16" cy="1601.77" r="3.7"/></g>
</g>
<clipPath id="c10"><rect x="116.6" y="1464.2" width="340.8" height="339.7"/></clipPath>
<g clip-path="url(#c10)">
<line x1="116.6" y1="1803.9" x2="457.4" y2="1464.2" stroke="#000" stroke-width="1.7"/>
<line x1="116.6" y1="1751.1" x2="457.4" y2="1484.3" stroke="#000" stroke-width="3.8" stroke-dasharray="15.2 6.9"/>
</g>
<rect x="116.6" y="1464.2" width="340.8" height="339.7" fill="none" stroke="#000" stroke-width="3.33" stroke-linejoin="miter"/>
<line x1="187.2" y1="1803.9" x2="187.2" y2="1818.5" stroke="#000" stroke-width="3.33"/>
<text x="187.2" y="1851.8" text-anchor="middle" font-family="'Liberation Sans', Arial, sans-serif" font-size="25">0.2</text>
<line x1="292.5" y1="1803.9" x2="292.5" y2="1818.5" stroke="#000" stroke-width="3.33"/>
<text x="292.5" y="1851.8" text-anchor="middle" font-family="'Liberation Sans', Arial, sans-serif" font-size="25">0.4</text>
<line x1="397.8" y1="1803.9" x2="397.8" y2="1818.5" stroke="#000" stroke-width="3.33"/>
<text x="397.8" y="1851.8" text-anchor="middle" font-family="'Liberation Sans', Arial, sans-serif" font-size="25">0.6</text>
<line x1="102" y1="1733.2" x2="116.6" y2="1733.2" stroke="#000" stroke-width="3.33"/>
<text x="87.4" y="1741.9" text-anchor="end" font-family="'Liberation Sans', Arial, sans-serif" font-size="25">0.2</text>
<line x1="102" y1="1628.3" x2="116.6" y2="1628.3" stroke="#000" stroke-width="3.33"/>
<text x="87.4" y="1637" text-anchor="end" font-family="'Liberation Sans', Arial, sans-serif" font-size="25">0.4</text>
<line x1="102" y1="1523.4" x2="116.6" y2="1523.4" stroke="#000" stroke-width="3.33"/>
<text x="87.4" y="1532.1" text-anchor="end" font-family="'Liberation Sans', Arial, sans-serif" font-size="25">0.6</text>
<text x="287" y="1889.9" text-anchor="middle" font-family="'Liberation Serif', 'Times New Roman', serif" font-size="25" font-style="italic">v</text>
<line x1="247.4" y1="1777.8" x2="284.8" y2="1777.8" stroke="#000" stroke-width="3.8" stroke-dasharray="15.2 6.9"/>
<text x="444.1" y="1751.5" text-anchor="end" font-family="'Liberation Sans', Arial, sans-serif" font-size="25">Held-out set</text>
<text y="1786.9" font-family="'Liberation Serif', 'Times New Roman', serif" font-size="25"><tspan x="305.7" font-style="italic">r</tspan><tspan x="317.7">=</tspan><tspan x="336.3">0.88</tspan><tspan x="383">±</tspan><tspan x="401.1">0.02</tspan></text>
<text x="1.5" y="1475.5" font-family="'Liberation Sans', Arial, sans-serif" font-size="41">k</text>
<text transform="translate(28 1634) rotate(-90)" font-family="'Liberation Serif', 'Times New Roman', serif" font-size="25" text-anchor="middle"><tspan font-style="italic">v</tspan><tspan font-style="italic" font-size="18" dy="6.2">SVR</tspan></text>
<clipPath id="c11"><rect x="609.3" y="1464.2" width="340.8" height="339.7"/></clipPath>
<g clip-path="url(#c11)">
<g fill="#BBBBBB"><circle cx="869.95" cy="1541.62" r="3.7"/><circle cx="877.48" cy="1548.82" r="3.7"/><circle cx="879.51" cy="1545.28" r="3.7"/><circle cx="865.28" cy="1537.9" r="3.7"/><circle cx="871.79" cy="1541.02" r="3.7"/><circle cx="858.07" cy="1567.81" r="3.7"/><circle cx="850.65" cy="1573.52" r="3.7"/><circle cx="892.62" cy="1521.19" r="3.7"/><circle cx="896.03" cy="1528.88" r="3.7"/><circle cx="881.8" cy="1537.95" r="3.7"/><circle cx="864.42" cy="1540.05" r="3.7"/><circle cx="849.02" cy="1550.5" r="3.7"/><circle cx="914.51" cy="1516.85" r="3.7"/><circle cx="830.03" cy="1575.88" r="3.7"/><circle cx="835.34" cy="1578.71" r="3.7"/><circle cx="874.42" cy="1534.78" r="3.7"/><circle cx="839.86" cy="1578.36" r="3.7"/><circle cx="856.27" cy="1549.67" r="3.7"/><circle cx="874.33" cy="1545.76" r="3.7"/><circle cx="869.77" cy="1561.9" r="3.7"/><circle cx="861.71" cy="1550.38" r="3.7"/><circle cx="903.69" cy="1524.89" r="3.7"/><circle cx="849.68" cy="1553.47" r="3.7"/><circle cx="877.32" cy="1530.49" r="3.7"/><circle cx="856.87" cy="1542.33" r="3.7"/><circle cx="865.53" cy="1548.56" r="3.7"/><circle cx="859.48" cy="1562.55" r="3.7"/><circle cx="855.72" cy="1573.35" r="3.7"/><circle cx="858.89" cy="1563.15" r="3.7"/><circle cx="911.09" cy="1516.04" r="3.7"/><circle cx="881.78" cy="1529.94" r="3.7"/><circle cx="864.85" cy="1547.05" r="3.7"/><circle cx="856.07" cy="1551.45" r="3.7"/><circle cx="834.04" cy="1574.79" r="3.7"/><circle cx="899.8" cy="1524" r="3.7"/><circle cx="878.03" cy="1540.02" r="3.7"/><circle cx="852.82" cy="1573.84" r="3.7"/><circle cx="839.4" cy="1561.35" r="3.7"/><circle cx="880.82" cy="1544.87" r="3.7"/><circle cx="867.53" cy="1543.78" r="3.7"/><circle cx="838.54" cy="1575.85" r="3.7"/><circle cx="865.04" cy="1537.22" r="3.7"/><circle cx="819.42" cy="1579.99" r="3.7"/><circle cx="844.88" cy="1575.78" r="3.7"/><circle cx="852.76" cy="1555.11" r="3.7"/><circle cx="867.16" cy="1533.15" r="3.7"/><circle cx="910.83" cy="1518.52" r="3.7"/><circle cx="883.51" cy="1533.74" r="3.7"/><circle cx="844.34" cy="1567.76" r="3.7"/><circle cx="857.2" cy="1556.49" r="3.7"/><circle cx="840.16" cy="1569.86" r="3.7"/><circle cx="868.88" cy="1546.23" r="3.7"/><circle cx="890.85" cy="1537.74" r="3.7"/><circle cx="851.29" cy="1578.02" r="3.7"/><circle cx="852.83" cy="1572.4" r="3.7"/><circle cx="822.46" cy="1582.16" r="3.7"/><circle cx="835.67" cy="1580.45" r="3.7"/><circle cx="850.87" cy="1560.35" r="3.7"/><circle cx="869.65" cy="1544.74" r="3.7"/><circle cx="847.64" cy="1559.07" r="3.7"/><circle cx="912.24" cy="1520.09" r="3.7"/><circle cx="873.73" cy="1548.43" r="3.7"/><circle cx="859.09" cy="1566.73" r="3.7"/><circle cx="873.06" cy="1558.42" r="3.7"/><circle cx="874.59" cy="1549.77" r="3.7"/><circle cx="885.42" cy="1537.96" r="3.7"/><circle cx="850.58" cy="1550.63" r="3.7"/><circle cx="843.27" cy="1572.83" r="3.7"/><circle cx="855.71" cy="1567.55" r="3.7"/><circle cx="856.75" cy="1573" r="3.7"/><circle cx="832.83" cy="1571.07" r="3.7"/><circle cx="844.29" cy="1562.66" r="3.7"/><circle cx="897.63" cy="1518.96" r="3.7"/><circle cx="837.66" cy="1581.41" r="3.7"/><circle cx="864.23" cy="1561.95" r="3.7"/><circle cx="886.01" cy="1523.4" r="3.7"/><circle cx="900.12" cy="1521.17" r="3.7"/><circle cx="861.87" cy="1556.17" r="3.7"/><circle cx="831.15" cy="1575.4" r="3.7"/><circle cx="847.21" cy="1556.17" r="3.7"/><circle cx="859.01" cy="1560.24" r="3.7"/><circle cx="860.12" cy="1543.69" r="3.7"/><circle cx="883.89" cy="1537.65" r="3.7"/><circle cx="879.76" cy="1533.85" r="3.7"/><circle cx="888.67" cy="1533.07" r="3.7"/><circle cx="877.32" cy="1542.26" r="3.7"/><circle cx="888.82" cy="1525.7" r="3.7"/><circle cx="858.62" cy="1560.01" r="3.7"/><circle cx="858.69" cy="1550.46" r="3.7"/><circle cx="832.6" cy="1569.23" r="3.7"/><circle cx="902.16" cy="1523.57" r="3.7"/><circle cx="861.49" cy="1555.24" r="3.7"/><circle cx="867.93" cy="1542.35" r="3.7"/><circle cx="836.1" cy="1577.39" r="3.7"/><circle cx="907.82" cy="1524.99" r="3.7"/><circle cx="889.94" cy="1528.24" r="3.7"/><circle cx="862.82" cy="1554.23" r="3.7"/><circle cx="908.28" cy="1512.86" r="3.7"/><circle cx="844.74" cy="1574.61" r="3.7"/><circle cx="835.11" cy="1578.8" r="3.7"/><circle cx="859.43" cy="1544.28" r="3.7"/><circle cx="850.06" cy="1577.34" r="3.7"/><circle cx="847.38" cy="1580.46" r="3.7"/><circle cx="850.86" cy="1574.5" r="3.7"/><circle cx="852.17" cy="1554.29" r="3.7"/><circle cx="848.36" cy="1562.09" r="3.7"/><circle cx="852.36" cy="1546.96" r="3.7"/><circle cx="887.55" cy="1525.4" r="3.7"/><circle cx="861.09" cy="1553.8" r="3.7"/><circle cx="882.9" cy="1540.04" r="3.7"/><circle cx="841.47" cy="1576.74" r="3.7"/><circle cx="879.91" cy="1527.24" r="3.7"/><circle cx="829.98" cy="1580.74" r="3.7"/><circle cx="898.5" cy="1524.64" r="3.7"/><circle cx="838.97" cy="1564.5" r="3.7"/><circle cx="871.74" cy="1529.42" r="3.7"/><circle cx="887.95" cy="1529.97" r="3.7"/><circle cx="870.82" cy="1542.62" r="3.7"/><circle cx="879.95" cy="1532.92" r="3.7"/><circle cx="853.25" cy="1555.96" r="3.7"/><circle cx="828.73" cy="1578.18" r="3.7"/><circle cx="854.24" cy="1544.54" r="3.7"/><circle cx="868.99" cy="1556.82" r="3.7"/><circle cx="843.73" cy="1578.04" r="3.7"/><circle cx="844.33" cy="1575.9" r="3.7"/><circle cx="830.18" cy="1576.8" r="3.7"/><circle cx="878.72" cy="1548.59" r="3.7"/><circle cx="840.94" cy="1569.83" r="3.7"/><circle cx="868.81" cy="1534.26" r="3.7"/><circle cx="828.29" cy="1578.49" r="3.7"/><circle cx="820.97" cy="1578.39" r="3.7"/><circle cx="915.94" cy="1514.41" r="3.7"/><circle cx="854.33" cy="1556.14" r="3.7"/><circle cx="840.65" cy="1580.82" r="3.7"/><circle cx="896.45" cy="1523.45" r="3.7"/><circle cx="867.35" cy="1551.91" r="3.7"/><circle cx="868.54" cy="1536.41" r="3.7"/><circle cx="847.21" cy="1554.14" r="3.7"/><circle cx="849.87" cy="1560.43" r="3.7"/><circle cx="877.55" cy="1551.62" r="3.7"/><circle cx="876.76" cy="1537.45" r="3.7"/><circle cx="878.16" cy="1532.65" r="3.7"/><circle cx="873.38" cy="1546.17" r="3.7"/><circle cx="892.28" cy="1522.85" r="3.7"/><circle cx="882.7" cy="1539.34" r="3.7"/><circle cx="859.8" cy="1563.13" r="3.7"/><circle cx="914.19" cy="1509.82" r="3.7"/><circle cx="859.6" cy="1541.2" r="3.7"/><circle cx="873.13" cy="1529.6" r="3.7"/><circle cx="862.26" cy="1563.26" r="3.7"/><circle cx="878.4" cy="1527.1" r="3.7"/><circle cx="833.71" cy="1573.5" r="3.7"/><circle cx="881.94" cy="1525.52" r="3.7"/><circle cx="871.88" cy="1553.89" r="3.7"/><circle cx="843.09" cy="1580.08" r="3.7"/><circle cx="892.66" cy="1522.71" r="3.7"/><circle cx="824.85" cy="1577.84" r="3.7"/><circle cx="886.13" cy="1533.88" r="3.7"/><circle cx="917.25" cy="1517.65" r="3.7"/><circle cx="892.02" cy="1527.51" r="3.7"/><circle cx="835.8" cy="1568.43" r="3.7"/><circle cx="902.21" cy="1521.55" r="3.7"/><circle cx="841.35" cy="1577.65" r="3.7"/><circle cx="844.65" cy="1559.9" r="3.7"/><circle cx="861.39" cy="1555.43" r="3.7"/><circle cx="908.16" cy="1524.71" r="3.7"/><circle cx="863.71" cy="1548.36" r="3.7"/><circle cx="859.5" cy="1549.46" r="3.7"/><circle cx="901.45" cy="1524.39" r="3.7"/><circle cx="841.45" cy="1579.02" r="3.7"/><circle cx="870.4" cy="1535.53" r="3.7"/><circle cx="913.39" cy="1512.9" r="3.7"/><circle cx="904.98" cy="1521.95" r="3.7"/><circle cx="854.57" cy="1567.31" r="3.7"/><circle cx="848.81" cy="1557.11" r="3.7"/><circle cx="886.55" cy="1539.89" r="3.7"/><circle cx="846.47" cy="1578.87" r="3.7"/><circle cx="890.65" cy="1521.94" r="3.7"/><circle cx="904.31" cy="1522.55" r="3.7"/><circle cx="857.81" cy="1552.4" r="3.7"/><circle cx="853.22" cy="1562.55" r="3.7"/><circle cx="913.18" cy="1515.17" r="3.7"/><circle cx="865" cy="1550.54" r="3.7"/><circle cx="851.13" cy="1555.29" r="3.7"/><circle cx="915.02" cy="1517.96" r="3.7"/><circle cx="833.3" cy="1569.91" r="3.7"/><circle cx="872.99" cy="1542.43" r="3.7"/><circle cx="880.02" cy="1548.43" r="3.7"/><circle cx="902.03" cy="1520.56" r="3.7"/><circle cx="854.19" cy="1551.62" r="3.7"/><circle cx="885.83" cy="1522.83" r="3.7"/><circle cx="853.8" cy="1577.7" r="3.7"/><circle cx="846.05" cy="1566.98" r="3.7"/><circle cx="914.49" cy="1516.66" r="3.7"/><circle cx="837.7" cy="1581.08" r="3.7"/><circle cx="859.28" cy="1564.28" r="3.7"/><circle cx="910.44" cy="1511.05" r="3.7"/><circle cx="879.28" cy="1541.7" r="3.7"/><circle cx="875.15" cy="1531.45" r="3.7"/><circle cx="906.2" cy="1520.71" r="3.7"/><circle cx="898.21" cy="1520.1" r="3.7"/><circle cx="887.89" cy="1535.99" r="3.7"/><circle cx="850.51" cy="1566.92" r="3.7"/><circle cx="801.4" cy="1571.4" r="3.7"/><circle cx="817.5" cy="1571.4" r="3.7"/><circle cx="836.1" cy="1546.7" r="3.7"/><circle cx="845.6" cy="1531" r="3.7"/><circle cx="860.8" cy="1515" r="3.7"/><circle cx="912" cy="1482.8" r="3.7"/><circle cx="905.4" cy="1502.2" r="3.7"/><circle cx="915.3" cy="1494.7" r="3.7"/><circle cx="905.4" cy="1540.9" r="3.7"/><circle cx="900.8" cy="1545" r="3.7"/><circle cx="892.6" cy="1549.2" r="3.7"/><circle cx="869.5" cy="1564.8" r="3.7"/><circle cx="849.7" cy="1592.9" r="3.7"/><circle cx="829.5" cy="1595.4" r="3.7"/><circle cx="836.9" cy="1590.4" r="3.7"/><circle cx="787" cy="1606.1" r="3.7"/><circle cx="918" cy="1500" r="3.7"/><circle cx="922" cy="1513" r="3.7"/><circle cx="802.38" cy="1571.9" r="3.7"/><circle cx="817.32" cy="1571.4" r="3.7"/><circle cx="787.44" cy="1605.5" r="3.7"/><circle cx="781.22" cy="1631.64" r="3.7"/><circle cx="689.11" cy="1681.43" r="3.7"/><circle cx="712.76" cy="1676.45" r="3.7"/><circle cx="662.47" cy="1799.68" r="3.7"/><circle cx="860.88" cy="1514.64" r="3.7"/><circle cx="845.94" cy="1531.57" r="3.7"/><circle cx="835.99" cy="1547" r="3.7"/><circle cx="912.66" cy="1483.02" r="3.7"/><circle cx="893.24" cy="1549.49" r="3.7"/><circle cx="900.71" cy="1545.01" r="3.7"/><circle cx="905.69" cy="1540.78" r="3.7"/><circle cx="849.68" cy="1593.06" r="3.7"/><circle cx="829.76" cy="1594.3" r="3.7"/><circle cx="868.35" cy="1564.43" r="3.7"/><circle cx="918.14" cy="1492.24" r="3.7"/><circle cx="811.09" cy="1586.83" r="3.7"/><circle cx="816.07" cy="1581.85" r="3.7"/><circle cx="823.54" cy="1579.37" r="3.7"/></g>
</g>
<clipPath id="c12"><rect x="609.3" y="1464.2" width="340.8" height="339.7"/></clipPath>
<g clip-path="url(#c12)">
<line x1="609.3" y1="1803.9" x2="950.1" y2="1464.2" stroke="#000" stroke-width="1.7"/>
<line x1="609.3" y1="1768.6" x2="950.1" y2="1478.5" stroke="#000" stroke-width="3.8" stroke-dasharray="15.2 6.9"/>
</g>
<rect x="609.3" y="1464.2" width="340.8" height="339.7" fill="none" stroke="#000" stroke-width="3.33" stroke-linejoin="miter"/>
<line x1="680.4" y1="1803.9" x2="680.4" y2="1818.5" stroke="#000" stroke-width="3.33"/>
<text x="680.4" y="1851.8" text-anchor="middle" font-family="'Liberation Sans', Arial, sans-serif" font-size="25">0.2</text>
<line x1="785.35" y1="1803.9" x2="785.35" y2="1818.5" stroke="#000" stroke-width="3.33"/>
<text x="785.35" y="1851.8" text-anchor="middle" font-family="'Liberation Sans', Arial, sans-serif" font-size="25">0.4</text>
<line x1="890.3" y1="1803.9" x2="890.3" y2="1818.5" stroke="#000" stroke-width="3.33"/>
<text x="890.3" y="1851.8" text-anchor="middle" font-family="'Liberation Sans', Arial, sans-serif" font-size="25">0.6</text>
<line x1="594.7" y1="1733.2" x2="609.3" y2="1733.2" stroke="#000" stroke-width="3.33"/>
<text x="580.1" y="1741.9" text-anchor="end" font-family="'Liberation Sans', Arial, sans-serif" font-size="25">0.2</text>
<line x1="594.7" y1="1628.3" x2="609.3" y2="1628.3" stroke="#000" stroke-width="3.33"/>
<text x="580.1" y="1637" text-anchor="end" font-family="'Liberation Sans', Arial, sans-serif" font-size="25">0.4</text>
<line x1="594.7" y1="1523.4" x2="609.3" y2="1523.4" stroke="#000" stroke-width="3.33"/>
<text x="580.1" y="1532.1" text-anchor="end" font-family="'Liberation Sans', Arial, sans-serif" font-size="25">0.6</text>
<text x="779.7" y="1889.9" text-anchor="middle" font-family="'Liberation Serif', 'Times New Roman', serif" font-size="25" font-style="italic">v</text>
<line x1="731.5" y1="1767.8" x2="768.9" y2="1767.8" stroke="#000" stroke-width="3.8" stroke-dasharray="15.2 6.9"/>
<text x="927.1" y="1741" text-anchor="end" font-family="'Liberation Sans', Arial, sans-serif" font-size="25">SPOT Unique</text>
<text y="1776.4" font-family="'Liberation Serif', 'Times New Roman', serif" font-size="25"><tspan x="788.7" font-style="italic">r</tspan><tspan x="800.7">=</tspan><tspan x="819.3">0.93</tspan><tspan x="866">±</tspan><tspan x="884.1">0.01</tspan></text>
<text transform="translate(521.2 1634) rotate(-90)" font-family="'Liberation Serif', 'Times New Roman', serif" font-size="25" text-anchor="middle"><tspan font-style="italic">v</tspan><tspan font-style="italic" font-size="18" dy="6.2">SVR</tspan></text>
<text x="496.5" y="1475.5" font-family="'Liberation Sans', Arial, sans-serif" font-size="41">l</text>
<clipPath id="c13"><rect x="1102" y="1464.2" width="340.8" height="339.7"/></clipPath>
<g clip-path="url(#c13)">
<g fill="#BBBBBB"><circle cx="1189.18" cy="1681.54" r="3.7"/><circle cx="1247.01" cy="1643.97" r="3.7"/><circle cx="1187.99" cy="1711.02" r="3.7"/><circle cx="1207.84" cy="1674.77" r="3.7"/><circle cx="1236.85" cy="1644.78" r="3.7"/><circle cx="1220.28" cy="1657.5" r="3.7"/><circle cx="1202.53" cy="1706.98" r="3.7"/><circle cx="1197.08" cy="1691.56" r="3.7"/><circle cx="1259.08" cy="1675.76" r="3.7"/><circle cx="1256.37" cy="1641.61" r="3.7"/><circle cx="1259.46" cy="1676.59" r="3.7"/><circle cx="1244.51" cy="1658.11" r="3.7"/><circle cx="1173.23" cy="1716.28" r="3.7"/><circle cx="1220.52" cy="1672.56" r="3.7"/><circle cx="1154.11" cy="1743.24" r="3.7"/><circle cx="1176.02" cy="1717.09" r="3.7"/><circle cx="1247.32" cy="1676.39" r="3.7"/><circle cx="1186.58" cy="1704.4" r="3.7"/><circle cx="1281.71" cy="1645.97" r="3.7"/><circle cx="1259.6" cy="1657.01" r="3.7"/><circle cx="1283.82" cy="1623.8" r="3.7"/><circle cx="1255.02" cy="1676.96" r="3.7"/><circle cx="1177.08" cy="1733.44" r="3.7"/><circle cx="1279.15" cy="1649.82" r="3.7"/><circle cx="1267.32" cy="1636.26" r="3.7"/><circle cx="1262.11" cy="1648.21" r="3.7"/><circle cx="1222.57" cy="1693.26" r="3.7"/><circle cx="1242.38" cy="1659.22" r="3.7"/><circle cx="1186.69" cy="1728.09" r="3.7"/><circle cx="1213.15" cy="1659.09" r="3.7"/><circle cx="1178.98" cy="1730.69" r="3.7"/><circle cx="1170.07" cy="1732.9" r="3.7"/><circle cx="1251.34" cy="1671.04" r="3.7"/><circle cx="1250.63" cy="1673.38" r="3.7"/><circle cx="1291.94" cy="1634.57" r="3.7"/><circle cx="1257.62" cy="1665.95" r="3.7"/><circle cx="1260.92" cy="1676.08" r="3.7"/><circle cx="1223.02" cy="1666.46" r="3.7"/><circle cx="1286.81" cy="1639.39" r="3.7"/><circle cx="1223.91" cy="1690.77" r="3.7"/><circle cx="1240.53" cy="1678.37" r="3.7"/><circle cx="1300.85" cy="1612.53" r="3.7"/><circle cx="1215.18" cy="1685.44" r="3.7"/><circle cx="1225.55" cy="1691.14" r="3.7"/><circle cx="1242.92" cy="1642.66" r="3.7"/><circle cx="1191.1" cy="1718.73" r="3.7"/><circle cx="1198.14" cy="1691.83" r="3.7"/><circle cx="1294.86" cy="1621.3" r="3.7"/><circle cx="1173.33" cy="1716.36" r="3.7"/><circle cx="1230.03" cy="1685.44" r="3.7"/><circle cx="1210.69" cy="1699.08" r="3.7"/><circle cx="1264.18" cy="1661.71" r="3.7"/><circle cx="1166.83" cy="1745.32" r="3.7"/><circle cx="1257.78" cy="1665.62" r="3.7"/><circle cx="1200.92" cy="1678.27" r="3.7"/><circle cx="1188.04" cy="1685.39" r="3.7"/><circle cx="1210.68" cy="1672.67" r="3.7"/><circle cx="1191.47" cy="1699.57" r="3.7"/><circle cx="1197.34" cy="1672.58" r="3.7"/><circle cx="1297.06" cy="1624.36" r="3.7"/><circle cx="1199.39" cy="1680.75" r="3.7"/><circle cx="1200.27" cy="1699.23" r="3.7"/><circle cx="1214.48" cy="1680.69" r="3.7"/><circle cx="1211.46" cy="1660.52" r="3.7"/><circle cx="1170.28" cy="1737.91" r="3.7"/><circle cx="1170.1" cy="1725.75" r="3.7"/><circle cx="1203.52" cy="1700.54" r="3.7"/><circle cx="1176.69" cy="1735.13" r="3.7"/><circle cx="1224.62" cy="1646.71" r="3.7"/><circle cx="1276.93" cy="1627.32" r="3.7"/><circle cx="1220.89" cy="1667.07" r="3.7"/><circle cx="1155.07" cy="1734.53" r="3.7"/><circle cx="1197.46" cy="1716.44" r="3.7"/><circle cx="1287.51" cy="1624.4" r="3.7"/><circle cx="1265.26" cy="1644.9" r="3.7"/><circle cx="1212.45" cy="1715.87" r="3.7"/><circle cx="1300.31" cy="1619.54" r="3.7"/><circle cx="1216.78" cy="1713.2" r="3.7"/><circle cx="1300.13" cy="1614.01" r="3.7"/><circle cx="1244.43" cy="1641.34" r="3.7"/><circle cx="1283.46" cy="1638.64" r="3.7"/><circle cx="1165.32" cy="1732.2" r="3.7"/><circle cx="1271.87" cy="1663.94" r="3.7"/><circle cx="1253.08" cy="1670.81" r="3.7"/><circle cx="1259.98" cy="1640.87" r="3.7"/><circle cx="1194.58" cy="1711.29" r="3.7"/><circle cx="1215.99" cy="1715.02" r="3.7"/><circle cx="1252.65" cy="1656.45" r="3.7"/><circle cx="1199.62" cy="1690.29" r="3.7"/><circle cx="1210.64" cy="1707.18" r="3.7"/><circle cx="1161.18" cy="1724.17" r="3.7"/><circle cx="1263.22" cy="1637.5" r="3.7"/><circle cx="1265.08" cy="1644.39" r="3.7"/><circle cx="1263.59" cy="1646.41" r="3.7"/><circle cx="1291.93" cy="1628.72" r="3.7"/><circle cx="1247.02" cy="1681.19" r="3.7"/><circle cx="1215.09" cy="1702.18" r="3.7"/><circle cx="1232.82" cy="1651.64" r="3.7"/><circle cx="1247.83" cy="1667.37" r="3.7"/><circle cx="1224.45" cy="1656.13" r="3.7"/><circle cx="1201.22" cy="1709.67" r="3.7"/><circle cx="1177.87" cy="1725.68" r="3.7"/><circle cx="1189.87" cy="1714.73" r="3.7"/><circle cx="1175.02" cy="1702.65" r="3.7"/><circle cx="1225.58" cy="1681" r="3.7"/><circle cx="1191.27" cy="1703.26" r="3.7"/><circle cx="1182.58" cy="1704.72" r="3.7"/><circle cx="1168.23" cy="1713.86" r="3.7"/><circle cx="1231.92" cy="1643.8" r="3.7"/><circle cx="1168.8" cy="1737.14" r="3.7"/><circle cx="1256.09" cy="1653.59" r="3.7"/><circle cx="1255.11" cy="1666.82" r="3.7"/><circle cx="1298.53" cy="1611.78" r="3.7"/><circle cx="1188.95" cy="1696" r="3.7"/><circle cx="1264.41" cy="1645.55" r="3.7"/><circle cx="1252.99" cy="1642.04" r="3.7"/><circle cx="1247.54" cy="1640.43" r="3.7"/><circle cx="1270.75" cy="1655.1" r="3.7"/><circle cx="1297.25" cy="1626.97" r="3.7"/><circle cx="1230.9" cy="1646.51" r="3.7"/><circle cx="1225.09" cy="1680.27" r="3.7"/><circle cx="1232.03" cy="1668.94" r="3.7"/><circle cx="1203.81" cy="1674" r="3.7"/><circle cx="1197.38" cy="1679.03" r="3.7"/><circle cx="1242.96" cy="1663.76" r="3.7"/><circle cx="1261.77" cy="1632.97" r="3.7"/><circle cx="1169.47" cy="1724.98" r="3.7"/><circle cx="1179.79" cy="1691.92" r="3.7"/><circle cx="1243.54" cy="1662.38" r="3.7"/><circle cx="1236.66" cy="1656.96" r="3.7"/><circle cx="1172.09" cy="1706.9" r="3.7"/><circle cx="1247.9" cy="1671.15" r="3.7"/><circle cx="1192.33" cy="1682.84" r="3.7"/><circle cx="1249.5" cy="1662.02" r="3.7"/><circle cx="1299.56" cy="1614.8" r="3.7"/><circle cx="1262.91" cy="1650.54" r="3.7"/><circle cx="1273.42" cy="1643.99" r="3.7"/><circle cx="1253.01" cy="1636.95" r="3.7"/><circle cx="1184.6" cy="1690.66" r="3.7"/><circle cx="1260.89" cy="1631.41" r="3.7"/><circle cx="1242.86" cy="1676.32" r="3.7"/><circle cx="1184.93" cy="1708.71" r="3.7"/><circle cx="1235.86" cy="1658.88" r="3.7"/><circle cx="1193.48" cy="1690.38" r="3.7"/><circle cx="1203.73" cy="1667.39" r="3.7"/><circle cx="1209.09" cy="1722.59" r="3.7"/><circle cx="1261.31" cy="1667.23" r="3.7"/><circle cx="1221.08" cy="1676.96" r="3.7"/><circle cx="1237.11" cy="1658.66" r="3.7"/><circle cx="1248.23" cy="1656.23" r="3.7"/><circle cx="1143.52" cy="1758.55" r="3.7"/><circle cx="1252.37" cy="1669.1" r="3.7"/><circle cx="1265.1" cy="1657.82" r="3.7"/><circle cx="1165.45" cy="1744.09" r="3.7"/><circle cx="1247.96" cy="1647.57" r="3.7"/><circle cx="1237.37" cy="1675.97" r="3.7"/><circle cx="1202.99" cy="1670.24" r="3.7"/><circle cx="1179.59" cy="1712.06" r="3.7"/><circle cx="1228.33" cy="1641.57" r="3.7"/><circle cx="1261.54" cy="1658.59" r="3.7"/><circle cx="1243.72" cy="1659.56" r="3.7"/><circle cx="1171.56" cy="1720.75" r="3.7"/><circle cx="1226.71" cy="1660.25" r="3.7"/><circle cx="1227.39" cy="1659.38" r="3.7"/><circle cx="1298.69" cy="1627.74" r="3.7"/><circle cx="1235.81" cy="1669.26" r="3.7"/><circle cx="1296.03" cy="1616.56" r="3.7"/><circle cx="1244.05" cy="1646.09" r="3.7"/><circle cx="1222.45" cy="1658.42" r="3.7"/><circle cx="1260.83" cy="1645.66" r="3.7"/><circle cx="1232.59" cy="1692.82" r="3.7"/><circle cx="1290.28" cy="1615.87" r="3.7"/><circle cx="1206.47" cy="1701.82" r="3.7"/><circle cx="1254.99" cy="1641.89" r="3.7"/><circle cx="1230.88" cy="1667.78" r="3.7"/><circle cx="1185.39" cy="1685.99" r="3.7"/><circle cx="1299.35" cy="1617.95" r="3.7"/><circle cx="1189.68" cy="1726.9" r="3.7"/><circle cx="1210.28" cy="1719.1" r="3.7"/><circle cx="1221.31" cy="1664.38" r="3.7"/><circle cx="1213.28" cy="1669.75" r="3.7"/><circle cx="1178.24" cy="1735.84" r="3.7"/><circle cx="1296.96" cy="1620.03" r="3.7"/><circle cx="1247.87" cy="1649.77" r="3.7"/><circle cx="1282.52" cy="1619.45" r="3.7"/><circle cx="1179.92" cy="1699.8" r="3.7"/><circle cx="1232.12" cy="1687.27" r="3.7"/><circle cx="1231.44" cy="1657.27" r="3.7"/><circle cx="1246.68" cy="1666.68" r="3.7"/><circle cx="1223.44" cy="1662.39" r="3.7"/><circle cx="1266.69" cy="1643.51" r="3.7"/><circle cx="1248.24" cy="1645.67" r="3.7"/><circle cx="1221.02" cy="1673.42" r="3.7"/><circle cx="1240.77" cy="1651.76" r="3.7"/><circle cx="1266.6" cy="1660.98" r="3.7"/><circle cx="1204.97" cy="1661.77" r="3.7"/><circle cx="1242.54" cy="1684.55" r="3.7"/><circle cx="1300.78" cy="1606.23" r="3.7"/><circle cx="1272.08" cy="1631.54" r="3.7"/><circle cx="1257.36" cy="1652.63" r="3.7"/><circle cx="1250.69" cy="1644.55" r="3.7"/><circle cx="1245.77" cy="1661.75" r="3.7"/><circle cx="1205.9" cy="1688.17" r="3.7"/><circle cx="1164.31" cy="1721.17" r="3.7"/><circle cx="1245.32" cy="1654.48" r="3.7"/><circle cx="1270.03" cy="1643.31" r="3.7"/><circle cx="1218.8" cy="1691.98" r="3.7"/><circle cx="1284.29" cy="1620.62" r="3.7"/><circle cx="1227.24" cy="1665.52" r="3.7"/><circle cx="1164.93" cy="1742.85" r="3.7"/><circle cx="1241.25" cy="1667.68" r="3.7"/><circle cx="1273.7" cy="1641.4" r="3.7"/><circle cx="1232.63" cy="1682.7" r="3.7"/><circle cx="1201.95" cy="1690.76" r="3.7"/><circle cx="1153.14" cy="1741.62" r="3.7"/><circle cx="1173.31" cy="1735.3" r="3.7"/><circle cx="1200.02" cy="1672.43" r="3.7"/><circle cx="1250.46" cy="1659.8" r="3.7"/><circle cx="1256.91" cy="1644.95" r="3.7"/><circle cx="1282.12" cy="1637.21" r="3.7"/><circle cx="1205.65" cy="1690.3" r="3.7"/><circle cx="1163.03" cy="1744.53" r="3.7"/><circle cx="1274.8" cy="1636.05" r="3.7"/><circle cx="1182.89" cy="1689.55" r="3.7"/><circle cx="1182.07" cy="1724.48" r="3.7"/><circle cx="1255.53" cy="1660.65" r="3.7"/><circle cx="1261.54" cy="1632.61" r="3.7"/><circle cx="1187.7" cy="1685.76" r="3.7"/><circle cx="1170.03" cy="1741.23" r="3.7"/><circle cx="1208.48" cy="1710.2" r="3.7"/><circle cx="1294.24" cy="1609.83" r="3.7"/><circle cx="1273.23" cy="1659.94" r="3.7"/><circle cx="1255.41" cy="1636.28" r="3.7"/><circle cx="1213.18" cy="1694.91" r="3.7"/><circle cx="1221.97" cy="1672.26" r="3.7"/><circle cx="1258.22" cy="1637.1" r="3.7"/><circle cx="1238.33" cy="1650.2" r="3.7"/><circle cx="1213.28" cy="1670.23" r="3.7"/><circle cx="1213.41" cy="1674.08" r="3.7"/><circle cx="1218.31" cy="1685.91" r="3.7"/><circle cx="1212.72" cy="1686.79" r="3.7"/><circle cx="1210.26" cy="1662.59" r="3.7"/><circle cx="1291.86" cy="1626.82" r="3.7"/><circle cx="1250.41" cy="1676.2" r="3.7"/><circle cx="1275.58" cy="1658.73" r="3.7"/><circle cx="1188.68" cy="1702.16" r="3.7"/><circle cx="1286.29" cy="1644.06" r="3.7"/><circle cx="1284.36" cy="1646.54" r="3.7"/><circle cx="1172.71" cy="1737.18" r="3.7"/><circle cx="1221.48" cy="1704.35" r="3.7"/><circle cx="1200.81" cy="1697.97" r="3.7"/><circle cx="1174.85" cy="1705.93" r="3.7"/><circle cx="1274.21" cy="1648.5" r="3.7"/><circle cx="1173" cy="1734.71" r="3.7"/><circle cx="1270.38" cy="1636.84" r="3.7"/><circle cx="1221.33" cy="1676.24" r="3.7"/><circle cx="1209.96" cy="1664.08" r="3.7"/><circle cx="1222.26" cy="1671.03" r="3.7"/><circle cx="1233.76" cy="1664.81" r="3.7"/><circle cx="1153.83" cy="1745.55" r="3.7"/><circle cx="1297.45" cy="1618.65" r="3.7"/><circle cx="1183.04" cy="1699.03" r="3.7"/><circle cx="1216.93" cy="1698.63" r="3.7"/><circle cx="1162.23" cy="1723.98" r="3.7"/><circle cx="1225.49" cy="1679.25" r="3.7"/><circle cx="1214.78" cy="1684.13" r="3.7"/><circle cx="1271.16" cy="1656.97" r="3.7"/><circle cx="1213.67" cy="1659.47" r="3.7"/><circle cx="1275.72" cy="1632.71" r="3.7"/><circle cx="1262.05" cy="1656.37" r="3.7"/><circle cx="1291.89" cy="1629.46" r="3.7"/><circle cx="1241.71" cy="1656.29" r="3.7"/><circle cx="1182.83" cy="1703.72" r="3.7"/><circle cx="1217.91" cy="1711.84" r="3.7"/><circle cx="1230.21" cy="1664.67" r="3.7"/><circle cx="1259.33" cy="1653.32" r="3.7"/><circle cx="1203.47" cy="1686.44" r="3.7"/><circle cx="1252.48" cy="1662.15" r="3.7"/><circle cx="1191.87" cy="1723.54" r="3.7"/><circle cx="1220.75" cy="1661.81" r="3.7"/><circle cx="1170.78" cy="1701.95" r="3.7"/><circle cx="1190.38" cy="1688.88" r="3.7"/><circle cx="1202.84" cy="1695.35" r="3.7"/><circle cx="1283.35" cy="1630.54" r="3.7"/><circle cx="1238.89" cy="1638.92" r="3.7"/><circle cx="1280.32" cy="1645.83" r="3.7"/><circle cx="1278.87" cy="1640.28" r="3.7"/><circle cx="1230.85" cy="1650.93" r="3.7"/><circle cx="1189.1" cy="1696.86" r="3.7"/><circle cx="1184.87" cy="1710.91" r="3.7"/><circle cx="1247.83" cy="1662.02" r="3.7"/><circle cx="1197.26" cy="1713.92" r="3.7"/><circle cx="1170.83" cy="1715.83" r="3.7"/><circle cx="1191.96" cy="1705.15" r="3.7"/><circle cx="1229.76" cy="1677.9" r="3.7"/><circle cx="1207.86" cy="1681.43" r="3.7"/><circle cx="1273.92" cy="1639.82" r="3.7"/><circle cx="1243.22" cy="1680.4" r="3.7"/><circle cx="1262.83" cy="1649.81" r="3.7"/><circle cx="1293.64" cy="1619.4" r="3.7"/><circle cx="1214.84" cy="1709.39" r="3.7"/><circle cx="1244.58" cy="1648.73" r="3.7"/><circle cx="1152.73" cy="1740.24" r="3.7"/><circle cx="1206.1" cy="1669.22" r="3.7"/><circle cx="1195.77" cy="1679.05" r="3.7"/><circle cx="1206.4" cy="1666.04" r="3.7"/><circle cx="1229.17" cy="1674.06" r="3.7"/><circle cx="1248.83" cy="1660.15" r="3.7"/><circle cx="1167.21" cy="1738.23" r="3.7"/><circle cx="1206.05" cy="1692.66" r="3.7"/><circle cx="1174.69" cy="1725.44" r="3.7"/><circle cx="1270.3" cy="1629" r="3.7"/><circle cx="1259.64" cy="1638.51" r="3.7"/><circle cx="1180.89" cy="1732.73" r="3.7"/><circle cx="1167.1" cy="1726.3" r="3.7"/><circle cx="1228.37" cy="1684.32" r="3.7"/><circle cx="1180.41" cy="1706.83" r="3.7"/><circle cx="1263.37" cy="1642.5" r="3.7"/><circle cx="1201.58" cy="1678.95" r="3.7"/><circle cx="1252.72" cy="1664.91" r="3.7"/><circle cx="1290.75" cy="1611.51" r="3.7"/><circle cx="1234.29" cy="1666.73" r="3.7"/><circle cx="1210.11" cy="1722.3" r="3.7"/><circle cx="1173.26" cy="1697.78" r="3.7"/><circle cx="1186.12" cy="1723.92" r="3.7"/><circle cx="1228.57" cy="1652.06" r="3.7"/><circle cx="1243.06" cy="1646.75" r="3.7"/><circle cx="1281.18" cy="1629.72" r="3.7"/><circle cx="1254.76" cy="1643.59" r="3.7"/><circle cx="1259.84" cy="1644.92" r="3.7"/><circle cx="1239.9" cy="1637.65" r="3.7"/><circle cx="1190.52" cy="1713.81" r="3.7"/><circle cx="1291.36" cy="1630.21" r="3.7"/><circle cx="1227.98" cy="1649.22" r="3.7"/><circle cx="1164.48" cy="1735.43" r="3.7"/><circle cx="1180.43" cy="1713.86" r="3.7"/><circle cx="1207.92" cy="1697.29" r="3.7"/><circle cx="1210.48" cy="1715.86" r="3.7"/><circle cx="1250.65" cy="1649.87" r="3.7"/><circle cx="1196.67" cy="1700.81" r="3.7"/><circle cx="1198.13" cy="1713.46" r="3.7"/><circle cx="1188.1" cy="1696.7" r="3.7"/><circle cx="1295.05" cy="1627.97" r="3.7"/><circle cx="1219.35" cy="1687.5" r="3.7"/><circle cx="1280.67" cy="1639.76" r="3.7"/><circle cx="1201.3" cy="1671.37" r="3.7"/><circle cx="1301.71" cy="1600.81" r="3.7"/><circle cx="1201.77" cy="1705.36" r="3.7"/><circle cx="1222.82" cy="1652.56" r="3.7"/><circle cx="1289.95" cy="1631.81" r="3.7"/><circle cx="1210.82" cy="1661.79" r="3.7"/><circle cx="1240.87" cy="1663.7" r="3.7"/><circle cx="1210.57" cy="1685.28" r="3.7"/><circle cx="1190.45" cy="1716.04" r="3.7"/><circle cx="1189.32" cy="1712.41" r="3.7"/><circle cx="1184.9" cy="1700.1" r="3.7"/><circle cx="1294.74" cy="1614.99" r="3.7"/><circle cx="1276.51" cy="1643.6" r="3.7"/><circle cx="1235.55" cy="1673.6" r="3.7"/><circle cx="1251.02" cy="1675.7" r="3.7"/><circle cx="1282.59" cy="1638.1" r="3.7"/><circle cx="1210.99" cy="1660.35" r="3.7"/><circle cx="1177.13" cy="1729.87" r="3.7"/><circle cx="1209.29" cy="1667.77" r="3.7"/><circle cx="1197.67" cy="1674.6" r="3.7"/><circle cx="1231.1" cy="1694.84" r="3.7"/><circle cx="1274.15" cy="1631.19" r="3.7"/><circle cx="1298.21" cy="1616.27" r="3.7"/><circle cx="1299.02" cy="1629.8" r="3.7"/><circle cx="1159.44" cy="1737.76" r="3.7"/><circle cx="1236.42" cy="1671.38" r="3.7"/><circle cx="1301.72" cy="1613.34" r="3.7"/><circle cx="1245.05" cy="1643.07" r="3.7"/><circle cx="1156.1" cy="1749.15" r="3.7"/><circle cx="1202.1" cy="1692.73" r="3.7"/><circle cx="1194.68" cy="1676.36" r="3.7"/><circle cx="1166.25" cy="1738.97" r="3.7"/><circle cx="1179.61" cy="1732.53" r="3.7"/><circle cx="1213.77" cy="1660.12" r="3.7"/><circle cx="1242.5" cy="1673.06" r="3.7"/><circle cx="1229.33" cy="1653.66" r="3.7"/><circle cx="1231.43" cy="1642.31" r="3.7"/><circle cx="1286.41" cy="1633.89" r="3.7"/><circle cx="1253.68" cy="1670.93" r="3.7"/><circle cx="1229.67" cy="1646.84" r="3.7"/><circle cx="1271.96" cy="1636.2" r="3.7"/><circle cx="1232.71" cy="1684.48" r="3.7"/><circle cx="1204.25" cy="1671.45" r="3.7"/><circle cx="1254.7" cy="1669.4" r="3.7"/><circle cx="1199.13" cy="1669.87" r="3.7"/><circle cx="1299.12" cy="1617.48" r="3.7"/><circle cx="1257.15" cy="1631.54" r="3.7"/><circle cx="1190.39" cy="1683.36" r="3.7"/><circle cx="1201.56" cy="1702.78" r="3.7"/><circle cx="1252.22" cy="1662.28" r="3.7"/><circle cx="1198.24" cy="1677.51" r="3.7"/><circle cx="1235.85" cy="1647.65" r="3.7"/><circle cx="1161.25" cy="1739.83" r="3.7"/><circle cx="1230.44" cy="1654.17" r="3.7"/><circle cx="1205.09" cy="1678.48" r="3.7"/><circle cx="1263.13" cy="1650.21" r="3.7"/><circle cx="1236.9" cy="1639.45" r="3.7"/><circle cx="1205.27" cy="1721.24" r="3.7"/><circle cx="1156.53" cy="1741.64" r="3.7"/><circle cx="1188.95" cy="1728.07" r="3.7"/><circle cx="1300.13" cy="1604.86" r="3.7"/><circle cx="1224.11" cy="1697.73" r="3.7"/><circle cx="1173.98" cy="1709.8" r="3.7"/><circle cx="1246.64" cy="1681.78" r="3.7"/><circle cx="1272.14" cy="1636.3" r="3.7"/><circle cx="1176.95" cy="1698.7" r="3.7"/><circle cx="1226.56" cy="1684.31" r="3.7"/><circle cx="1234.66" cy="1677.07" r="3.7"/><circle cx="1148.99" cy="1747.22" r="3.7"/><circle cx="1161.93" cy="1732.69" r="3.7"/><circle cx="1290.94" cy="1633.84" r="3.7"/><circle cx="1214.43" cy="1669.27" r="3.7"/><circle cx="1160.86" cy="1743.53" r="3.7"/><circle cx="1294.31" cy="1618.97" r="3.7"/><circle cx="1250.27" cy="1639.53" r="3.7"/><circle cx="1185.84" cy="1706.83" r="3.7"/><circle cx="1300.2" cy="1623.92" r="3.7"/><circle cx="1186.88" cy="1709.78" r="3.7"/><circle cx="1218.28" cy="1704.57" r="3.7"/><circle cx="1158.72" cy="1727.63" r="3.7"/><circle cx="1238.65" cy="1648.86" r="3.7"/><circle cx="1198.4" cy="1695.33" r="3.7"/><circle cx="1187.24" cy="1728.79" r="3.7"/><circle cx="1225.3" cy="1660.31" r="3.7"/><circle cx="1251.59" cy="1669.31" r="3.7"/><circle cx="1237.79" cy="1647.92" r="3.7"/><circle cx="1170.05" cy="1735.94" r="3.7"/><circle cx="1181.08" cy="1708.34" r="3.7"/><circle cx="1182.23" cy="1693.32" r="3.7"/><circle cx="1246.17" cy="1676.95" r="3.7"/><circle cx="1192" cy="1683.35" r="3.7"/><circle cx="1269.08" cy="1663.07" r="3.7"/><circle cx="1258.01" cy="1657.85" r="3.7"/><circle cx="1279.47" cy="1634.03" r="3.7"/><circle cx="1177.51" cy="1692.87" r="3.7"/><circle cx="1262.36" cy="1631.73" r="3.7"/><circle cx="1172.48" cy="1740.68" r="3.7"/><circle cx="1213.96" cy="1700.24" r="3.7"/><circle cx="1183.32" cy="1712.85" r="3.7"/><circle cx="1172.29" cy="1708.43" r="3.7"/><circle cx="1249.85" cy="1668.73" r="3.7"/><circle cx="1229.09" cy="1643.88" r="3.7"/><circle cx="1216.05" cy="1662.39" r="3.7"/><circle cx="1294.21" cy="1634.4" r="3.7"/><circle cx="1178.77" cy="1697.11" r="3.7"/><circle cx="1168.09" cy="1732.31" r="3.7"/><circle cx="1164.34" cy="1726.95" r="3.7"/><circle cx="1221" cy="1687.4" r="3.7"/><circle cx="1294.34" cy="1625.82" r="3.7"/><circle cx="1255.88" cy="1639.91" r="3.7"/><circle cx="1167.98" cy="1713.75" r="3.7"/><circle cx="1192.44" cy="1718.42" r="3.7"/><circle cx="1239.77" cy="1678.37" r="3.7"/><circle cx="1208.42" cy="1724.21" r="3.7"/><circle cx="1203.08" cy="1677.46" r="3.7"/><circle cx="1201.93" cy="1669.18" r="3.7"/><circle cx="1166.68" cy="1721.49" r="3.7"/><circle cx="1270.53" cy="1665.49" r="3.7"/><circle cx="1285.51" cy="1630.02" r="3.7"/><circle cx="1286.96" cy="1626.75" r="3.7"/><circle cx="1178.94" cy="1691.19" r="3.7"/><circle cx="1256.25" cy="1648.42" r="3.7"/><circle cx="1205.28" cy="1709.8" r="3.7"/><circle cx="1250.21" cy="1663.71" r="3.7"/><circle cx="1237.21" cy="1665.21" r="3.7"/><circle cx="1243.71" cy="1647.79" r="3.7"/><circle cx="1185.74" cy="1706.2" r="3.7"/><circle cx="1191.23" cy="1682.6" r="3.7"/><circle cx="1285.01" cy="1635.57" r="3.7"/><circle cx="1276.04" cy="1630.9" r="3.7"/><circle cx="1220.27" cy="1664.01" r="3.7"/><circle cx="1230.53" cy="1642.48" r="3.7"/><circle cx="1230.9" cy="1661.39" r="3.7"/><circle cx="1240.8" cy="1638.94" r="3.7"/><circle cx="1246.58" cy="1640.7" r="3.7"/><circle cx="1228.86" cy="1644.57" r="3.7"/><circle cx="1174.23" cy="1704.3" r="3.7"/><circle cx="1264.01" cy="1659.46" r="3.7"/><circle cx="1265.85" cy="1637.65" r="3.7"/><circle cx="1262.83" cy="1649.11" r="3.7"/><circle cx="1259.72" cy="1672.62" r="3.7"/><circle cx="1264.95" cy="1637.72" r="3.7"/><circle cx="1254.18" cy="1673.68" r="3.7"/><circle cx="1276.72" cy="1635.94" r="3.7"/><circle cx="1154.59" cy="1737.44" r="3.7"/><circle cx="1263.62" cy="1671.81" r="3.7"/><circle cx="1171.54" cy="1723.1" r="3.7"/><circle cx="1176.53" cy="1714.82" r="3.7"/><circle cx="1223.84" cy="1689.85" r="3.7"/><circle cx="1208.67" cy="1707.62" r="3.7"/><circle cx="1228.33" cy="1693.3" r="3.7"/><circle cx="1154.7" cy="1749.91" r="3.7"/><circle cx="1189.46" cy="1715.18" r="3.7"/><circle cx="1166.02" cy="1729.13" r="3.7"/><circle cx="1287.08" cy="1638.05" r="3.7"/><circle cx="1260.15" cy="1641.96" r="3.7"/><circle cx="1159.35" cy="1738.13" r="3.7"/><circle cx="1248.55" cy="1637.59" r="3.7"/><circle cx="1279.02" cy="1633.51" r="3.7"/><circle cx="1260.48" cy="1675.19" r="3.7"/><circle cx="1196.74" cy="1681.57" r="3.7"/><circle cx="1261.25" cy="1659.69" r="3.7"/><circle cx="1181.67" cy="1725.54" r="3.7"/><circle cx="1176.34" cy="1710.13" r="3.7"/><circle cx="1177.27" cy="1729.38" r="3.7"/><circle cx="1287.41" cy="1621.17" r="3.7"/><circle cx="1246.64" cy="1643.54" r="3.7"/><circle cx="1286.45" cy="1638.17" r="3.7"/><circle cx="1211" cy="1670.93" r="3.7"/><circle cx="1258.69" cy="1654.02" r="3.7"/><circle cx="1145.98" cy="1755.01" r="3.7"/><circle cx="1190.21" cy="1681.5" r="3.7"/><circle cx="1219.35" cy="1702.15" r="3.7"/><circle cx="1191.6" cy="1724.96" r="3.7"/><circle cx="1203.12" cy="1667.78" r="3.7"/><circle cx="1226.51" cy="1665.47" r="3.7"/><circle cx="1285.91" cy="1617.84" r="3.7"/><circle cx="1170.51" cy="1717.95" r="3.7"/><circle cx="1270.26" cy="1633.4" r="3.7"/><circle cx="1267.02" cy="1655.17" r="3.7"/><circle cx="1232.22" cy="1654.78" r="3.7"/><circle cx="1243.34" cy="1659.87" r="3.7"/><circle cx="1159.25" cy="1737.85" r="3.7"/><circle cx="1236.99" cy="1652.1" r="3.7"/><circle cx="1214.15" cy="1660.08" r="3.7"/><circle cx="1205.26" cy="1686.42" r="3.7"/><circle cx="1283.26" cy="1643.75" r="3.7"/><circle cx="1170.63" cy="1721.4" r="3.7"/><circle cx="1224.77" cy="1661.64" r="3.7"/><circle cx="1235.22" cy="1646.21" r="3.7"/><circle cx="1177.41" cy="1701.92" r="3.7"/><circle cx="1187.64" cy="1716.79" r="3.7"/><circle cx="1171.11" cy="1706.02" r="3.7"/><circle cx="1292.99" cy="1626.8" r="3.7"/><circle cx="1200.43" cy="1713.35" r="3.7"/><circle cx="1212.06" cy="1712.59" r="3.7"/><circle cx="1285.81" cy="1619.54" r="3.7"/><circle cx="1292.2" cy="1625.28" r="3.7"/><circle cx="1192.45" cy="1700.13" r="3.7"/><circle cx="1231.63" cy="1654.81" r="3.7"/><circle cx="1154.8" cy="1742.42" r="3.7"/><circle cx="1151.67" cy="1749.59" r="3.7"/><circle cx="1202.09" cy="1676.67" r="3.7"/><circle cx="1289.66" cy="1638.68" r="3.7"/><circle cx="1217.73" cy="1675.54" r="3.7"/><circle cx="1239.81" cy="1672.41" r="3.7"/><circle cx="1155.48" cy="1743.11" r="3.7"/><circle cx="1162.33" cy="1724.94" r="3.7"/><circle cx="1203.3" cy="1674.65" r="3.7"/><circle cx="1188.47" cy="1691.92" r="3.7"/><circle cx="1164.65" cy="1735.3" r="3.7"/><circle cx="1175.48" cy="1696.06" r="3.7"/><circle cx="1191.93" cy="1708.45" r="3.7"/><circle cx="1183.84" cy="1724.9" r="3.7"/><circle cx="1202.99" cy="1702.16" r="3.7"/><circle cx="1200" cy="1692.19" r="3.7"/><circle cx="1206.35" cy="1706.05" r="3.7"/><circle cx="1187.73" cy="1710.03" r="3.7"/><circle cx="1192.08" cy="1707.5" r="3.7"/><circle cx="1160.61" cy="1730.1" r="3.7"/><circle cx="1191.32" cy="1690.38" r="3.7"/><circle cx="1211.94" cy="1688.44" r="3.7"/><circle cx="1247.8" cy="1661.58" r="3.7"/><circle cx="1273.62" cy="1644.57" r="3.7"/><circle cx="1277.63" cy="1626.99" r="3.7"/><circle cx="1233.78" cy="1651.85" r="3.7"/><circle cx="1195.94" cy="1689.83" r="3.7"/><circle cx="1253.73" cy="1650.76" r="3.7"/><circle cx="1171.67" cy="1724.42" r="3.7"/><circle cx="1183.36" cy="1715.21" r="3.7"/><circle cx="1249.31" cy="1677.6" r="3.7"/><circle cx="1228.23" cy="1677.61" r="3.7"/><circle cx="1267.3" cy="1634.78" r="3.7"/><circle cx="1182.13" cy="1694.79" r="3.7"/><circle cx="1273.03" cy="1649.04" r="3.7"/><circle cx="1215.75" cy="1695.94" r="3.7"/><circle cx="1198.68" cy="1684.82" r="3.7"/><circle cx="1196.89" cy="1673.87" r="3.7"/><circle cx="1170.18" cy="1742.66" r="3.7"/><circle cx="1174.2" cy="1729.85" r="3.7"/><circle cx="1244.12" cy="1660.33" r="3.7"/><circle cx="1265.72" cy="1670.84" r="3.7"/><circle cx="1166.99" cy="1729.55" r="3.7"/><circle cx="1260.42" cy="1632.58" r="3.7"/><circle cx="1195.21" cy="1697.46" r="3.7"/><circle cx="1168.83" cy="1733.65" r="3.7"/><circle cx="1184.66" cy="1699.36" r="3.7"/><circle cx="1168.02" cy="1703.58" r="3.7"/><circle cx="1257.35" cy="1675.62" r="3.7"/><circle cx="1202.04" cy="1684.43" r="3.7"/><circle cx="1150.31" cy="1752.32" r="3.7"/><circle cx="1170.61" cy="1742.08" r="3.7"/><circle cx="1177.91" cy="1695.2" r="3.7"/><circle cx="1213.22" cy="1705.37" r="3.7"/><circle cx="1251.87" cy="1667.67" r="3.7"/><circle cx="1232.77" cy="1669.92" r="3.7"/><circle cx="1204.6" cy="1722.22" r="3.7"/><circle cx="1259.15" cy="1662.33" r="3.7"/><circle cx="1216.55" cy="1704.89" r="3.7"/><circle cx="1200.42" cy="1670.53" r="3.7"/><circle cx="1186.73" cy="1721.59" r="3.7"/><circle cx="1222.69" cy="1680.59" r="3.7"/><circle cx="1245.95" cy="1653.08" r="3.7"/><circle cx="1258.42" cy="1630.38" r="3.7"/><circle cx="1207.35" cy="1664.76" r="3.7"/><circle cx="1172.3" cy="1721.55" r="3.7"/><circle cx="1164.82" cy="1729.03" r="3.7"/><circle cx="1276.32" cy="1659.77" r="3.7"/><circle cx="1239.69" cy="1645.55" r="3.7"/><circle cx="1273.51" cy="1633.88" r="3.7"/><circle cx="1189.57" cy="1722.46" r="3.7"/><circle cx="1230.52" cy="1666.7" r="3.7"/><circle cx="1224.73" cy="1680.4" r="3.7"/><circle cx="1262.07" cy="1629.53" r="3.7"/><circle cx="1261.81" cy="1635.52" r="3.7"/><circle cx="1234.74" cy="1656.32" r="3.7"/><circle cx="1195.35" cy="1684.2" r="3.7"/><circle cx="1233.65" cy="1671.66" r="3.7"/><circle cx="1301.43" cy="1608.93" r="3.7"/><circle cx="1220.41" cy="1679.04" r="3.7"/><circle cx="1178.05" cy="1724.53" r="3.7"/><circle cx="1184.62" cy="1694.56" r="3.7"/><circle cx="1242.19" cy="1665.25" r="3.7"/><circle cx="1211.67" cy="1663.28" r="3.7"/><circle cx="1247.67" cy="1666.27" r="3.7"/><circle cx="1248.81" cy="1637.69" r="3.7"/><circle cx="1299.67" cy="1621.53" r="3.7"/><circle cx="1214.92" cy="1672.9" r="3.7"/><circle cx="1193.67" cy="1679.89" r="3.7"/><circle cx="1188.92" cy="1684.14" r="3.7"/><circle cx="1259.46" cy="1674.27" r="3.7"/><circle cx="1211.22" cy="1674.04" r="3.7"/><circle cx="1143.75" cy="1757.78" r="3.7"/><circle cx="1232.94" cy="1651.65" r="3.7"/><circle cx="1232.58" cy="1673.77" r="3.7"/><circle cx="1271.03" cy="1649.14" r="3.7"/><circle cx="1294.62" cy="1630.1" r="3.7"/><circle cx="1258.69" cy="1656.98" r="3.7"/><circle cx="1209.76" cy="1685.04" r="3.7"/><circle cx="1199.93" cy="1723.36" r="3.7"/><circle cx="1157.72" cy="1744.05" r="3.7"/><circle cx="1229.3" cy="1686.98" r="3.7"/><circle cx="1232.41" cy="1687.01" r="3.7"/><circle cx="1186.13" cy="1690.9" r="3.7"/><circle cx="1195.76" cy="1702.74" r="3.7"/><circle cx="1190.89" cy="1681.72" r="3.7"/><circle cx="1273.35" cy="1652.6" r="3.7"/><circle cx="1278.06" cy="1631.83" r="3.7"/><circle cx="1162.64" cy="1738.62" r="3.7"/><circle cx="1175.55" cy="1719.82" r="3.7"/><circle cx="1196.81" cy="1682.2" r="3.7"/><circle cx="1206.65" cy="1701.11" r="3.7"/><circle cx="1257.01" cy="1630.57" r="3.7"/><circle cx="1205.78" cy="1707.72" r="3.7"/><circle cx="1218.23" cy="1685.88" r="3.7"/><circle cx="1204.1" cy="1695.58" r="3.7"/><circle cx="1210.84" cy="1696.23" r="3.7"/><circle cx="1196.3" cy="1716.28" r="3.7"/><circle cx="1198.19" cy="1675.66" r="3.7"/><circle cx="1225.39" cy="1679.47" r="3.7"/><circle cx="1203.61" cy="1669.81" r="3.7"/><circle cx="1244.34" cy="1678.93" r="3.7"/><circle cx="1249.21" cy="1679.66" r="3.7"/><circle cx="1224.44" cy="1652.88" r="3.7"/><circle cx="1237.07" cy="1682.21" r="3.7"/><circle cx="1192.82" cy="1720.99" r="3.7"/><circle cx="1192.45" cy="1708.42" r="3.7"/><circle cx="1187.71" cy="1698.08" r="3.7"/><circle cx="1241.4" cy="1656.73" r="3.7"/><circle cx="1155.45" cy="1743.64" r="3.7"/><circle cx="1187.22" cy="1697.17" r="3.7"/><circle cx="1241.15" cy="1647.25" r="3.7"/><circle cx="1179.37" cy="1695.81" r="3.7"/><circle cx="1199.42" cy="1681.56" r="3.7"/><circle cx="1200.35" cy="1662.68" r="3.7"/><circle cx="1277.95" cy="1624.73" r="3.7"/><circle cx="1200.58" cy="1694.14" r="3.7"/><circle cx="1194.88" cy="1699.25" r="3.7"/><circle cx="1199.14" cy="1695.36" r="3.7"/><circle cx="1230.98" cy="1641.83" r="3.7"/><circle cx="1249.99" cy="1639.53" r="3.7"/><circle cx="1255.25" cy="1679.49" r="3.7"/><circle cx="1213.76" cy="1664.71" r="3.7"/><circle cx="1207.96" cy="1709.94" r="3.7"/><circle cx="1174.96" cy="1727.89" r="3.7"/><circle cx="1286.26" cy="1642.41" r="3.7"/><circle cx="1280.15" cy="1633.84" r="3.7"/><circle cx="1156.74" cy="1748.39" r="3.7"/><circle cx="1299.72" cy="1617.2" r="3.7"/><circle cx="1245.42" cy="1650.21" r="3.7"/><circle cx="1205.66" cy="1675.2" r="3.7"/><circle cx="1200.08" cy="1723.98" r="3.7"/><circle cx="1218.03" cy="1692.43" r="3.7"/><circle cx="1194.51" cy="1711.71" r="3.7"/><circle cx="1239.71" cy="1664.81" r="3.7"/><circle cx="1222.55" cy="1668.41" r="3.7"/><circle cx="1230.53" cy="1649.48" r="3.7"/><circle cx="1255.68" cy="1629.63" r="3.7"/><circle cx="1219.07" cy="1687.08" r="3.7"/><circle cx="1170.61" cy="1709.47" r="3.7"/><circle cx="1174.21" cy="1736.44" r="3.7"/><circle cx="1186.73" cy="1696.29" r="3.7"/><circle cx="1178.5" cy="1706.16" r="3.7"/><circle cx="1263.81" cy="1658.09" r="3.7"/><circle cx="1204.93" cy="1680.35" r="3.7"/><circle cx="1276.54" cy="1649.32" r="3.7"/><circle cx="1212.88" cy="1697.39" r="3.7"/><circle cx="1241.97" cy="1642.7" r="3.7"/><circle cx="1214.19" cy="1699.1" r="3.7"/><circle cx="1183.39" cy="1729.13" r="3.7"/><circle cx="1257.75" cy="1644.2" r="3.7"/><circle cx="1290.35" cy="1634.39" r="3.7"/><circle cx="1240.79" cy="1667.56" r="3.7"/><circle cx="1231.44" cy="1662.58" r="3.7"/><circle cx="1243.16" cy="1672.28" r="3.7"/><circle cx="1248.88" cy="1679.5" r="3.7"/><circle cx="1255.63" cy="1629.72" r="3.7"/><circle cx="1266.61" cy="1641.43" r="3.7"/><circle cx="1266.61" cy="1670.93" r="3.7"/><circle cx="1252.49" cy="1666.71" r="3.7"/><circle cx="1263.09" cy="1659.08" r="3.7"/><circle cx="1162.58" cy="1729.23" r="3.7"/><circle cx="1206.32" cy="1692.4" r="3.7"/><circle cx="1201.38" cy="1703.98" r="3.7"/><circle cx="1173.38" cy="1709.32" r="3.7"/><circle cx="1192.52" cy="1690.04" r="3.7"/><circle cx="1194.19" cy="1710.17" r="3.7"/><circle cx="1217.36" cy="1700.45" r="3.7"/><circle cx="1282.7" cy="1626.96" r="3.7"/><circle cx="1222.75" cy="1701.96" r="3.7"/><circle cx="1237.62" cy="1657.94" r="3.7"/><circle cx="1264.4" cy="1627.96" r="3.7"/><circle cx="1245.25" cy="1640.32" r="3.7"/><circle cx="1302.08" cy="1606.91" r="3.7"/><circle cx="1290.13" cy="1642.22" r="3.7"/><circle cx="1230.15" cy="1662.43" r="3.7"/><circle cx="1246.62" cy="1672.68" r="3.7"/><circle cx="1253.36" cy="1671.44" r="3.7"/><circle cx="1219.85" cy="1679.07" r="3.7"/><circle cx="1208.83" cy="1705.49" r="3.7"/><circle cx="1255.47" cy="1640.25" r="3.7"/><circle cx="1186.8" cy="1721.3" r="3.7"/><circle cx="1170.04" cy="1725.67" r="3.7"/><circle cx="1260.55" cy="1650.96" r="3.7"/><circle cx="1148.54" cy="1747.47" r="3.7"/><circle cx="1166.05" cy="1716.46" r="3.7"/><circle cx="1175.87" cy="1709.19" r="3.7"/><circle cx="1258.81" cy="1669.14" r="3.7"/><circle cx="1288.59" cy="1624.28" r="3.7"/><circle cx="1174.75" cy="1716.67" r="3.7"/><circle cx="1227.56" cy="1678.59" r="3.7"/><circle cx="1302.19" cy="1612.95" r="3.7"/><circle cx="1210.79" cy="1690.15" r="3.7"/><circle cx="1216.65" cy="1665.48" r="3.7"/><circle cx="1197.18" cy="1697.22" r="3.7"/><circle cx="1265.84" cy="1657.56" r="3.7"/><circle cx="1260.79" cy="1650.92" r="3.7"/><circle cx="1236.7" cy="1658.63" r="3.7"/><circle cx="1160.71" cy="1733.6" r="3.7"/><circle cx="1245.15" cy="1666.29" r="3.7"/><circle cx="1252.56" cy="1643.06" r="3.7"/><circle cx="1188.01" cy="1726.52" r="3.7"/><circle cx="1218.28" cy="1681.87" r="3.7"/><circle cx="1213.53" cy="1677.74" r="3.7"/><circle cx="1180.25" cy="1692.17" r="3.7"/><circle cx="1267.88" cy="1636.63" r="3.7"/><circle cx="1178.04" cy="1729.98" r="3.7"/><circle cx="1207.62" cy="1708.86" r="3.7"/><circle cx="1182.86" cy="1730.68" r="3.7"/><circle cx="1248" cy="1674.9" r="3.7"/><circle cx="1235.39" cy="1669.8" r="3.7"/><circle cx="1259" cy="1662.04" r="3.7"/><circle cx="1171.17" cy="1706.42" r="3.7"/><circle cx="1195.97" cy="1697.03" r="3.7"/><circle cx="1248.45" cy="1644.99" r="3.7"/><circle cx="1205.14" cy="1688.46" r="3.7"/><circle cx="1187.81" cy="1708.71" r="3.7"/><circle cx="1293.08" cy="1637.24" r="3.7"/><circle cx="1277.62" cy="1635.78" r="3.7"/><circle cx="1173.79" cy="1708.59" r="3.7"/><circle cx="1262.84" cy="1671.43" r="3.7"/><circle cx="1263.94" cy="1660.8" r="3.7"/><circle cx="1230.1" cy="1650.81" r="3.7"/><circle cx="1193.29" cy="1692.26" r="3.7"/><circle cx="1222.4" cy="1699.87" r="3.7"/><circle cx="1179.05" cy="1694.44" r="3.7"/><circle cx="1177.87" cy="1726.41" r="3.7"/><circle cx="1291.81" cy="1621.57" r="3.7"/><circle cx="1197.54" cy="1702.92" r="3.7"/><circle cx="1230.71" cy="1665.47" r="3.7"/><circle cx="1301.5" cy="1610.01" r="3.7"/><circle cx="1221.36" cy="1666.9" r="3.7"/><circle cx="1187.01" cy="1709.86" r="3.7"/><circle cx="1226.36" cy="1667.11" r="3.7"/><circle cx="1172.85" cy="1724.04" r="3.7"/><circle cx="1234.28" cy="1638.46" r="3.7"/><circle cx="1181" cy="1601.3" r="3.7"/><circle cx="1218.7" cy="1626.1" r="3.7"/><circle cx="1212.5" cy="1649.8" r="3.7"/><circle cx="1198.6" cy="1656" r="3.7"/><circle cx="1185.7" cy="1671.4" r="3.7"/><circle cx="1167.1" cy="1684.8" r="3.7"/><circle cx="1279.5" cy="1595.7" r="3.7"/><circle cx="1282.6" cy="1657" r="3.7"/><circle cx="1262" cy="1677.6" r="3.7"/><circle cx="1227.9" cy="1710.6" r="3.7"/><circle cx="1239.3" cy="1710.1" r="3.7"/><circle cx="1217.6" cy="1717.8" r="3.7"/><circle cx="1211.4" cy="1728.1" r="3.7"/><circle cx="1177.4" cy="1744.6" r="3.7"/><circle cx="1203.47" cy="1561.94" r="3.7"/><circle cx="1215.91" cy="1559.45" r="3.7"/><circle cx="1217.9" cy="1573.14" r="3.7"/><circle cx="1181.06" cy="1601.77" r="3.7"/><circle cx="1166.62" cy="1685.17" r="3.7"/><circle cx="1279.89" cy="1596.04" r="3.7"/><circle cx="1314.74" cy="1579.37" r="3.7"/><circle cx="1306.03" cy="1586.83" r="3.7"/><circle cx="1339.64" cy="1601.27" r="3.7"/><circle cx="1352.58" cy="1583.6" r="3.7"/><circle cx="1363.78" cy="1555.72" r="3.7"/><circle cx="1380.21" cy="1555.72" r="3.7"/><circle cx="1398.14" cy="1568.16" r="3.7"/><circle cx="1123.06" cy="1790.22" r="3.7"/><circle cx="1116.34" cy="1769.81" r="3.7"/><circle cx="1239.31" cy="1710.06" r="3.7"/><circle cx="1219.65" cy="1717.53" r="3.7"/><circle cx="1211.43" cy="1727.49" r="3.7"/><circle cx="1177.82" cy="1744.91" r="3.7"/><circle cx="1154.17" cy="1753.62" r="3.7"/><circle cx="1185.29" cy="1671.47" r="3.7"/><circle cx="1198.98" cy="1656.54" r="3.7"/><circle cx="1212.68" cy="1650.31" r="3.7"/><circle cx="1223.88" cy="1635.38" r="3.7"/><circle cx="1215.17" cy="1626.66" r="3.7"/><circle cx="1222.63" cy="1626.66" r="3.7"/><circle cx="1251.26" cy="1626.66" r="3.7"/><circle cx="1258.73" cy="1621.69" r="3.7"/><circle cx="1268.69" cy="1620.44" r="3.7"/><circle cx="1282.38" cy="1610.48" r="3.7"/><circle cx="1294.83" cy="1606.75" r="3.7"/><circle cx="1303.54" cy="1600.53" r="3.7"/><circle cx="1283.62" cy="1657.78" r="3.7"/><circle cx="1139.24" cy="1762.34" r="3.7"/><circle cx="1119.32" cy="1768.56" r="3.7"/><circle cx="1294.83" cy="1621.69" r="3.7"/><circle cx="1299.81" cy="1626.66" r="3.7"/></g>
</g>
<clipPath id="c14"><rect x="1102" y="1464.2" width="340.8" height="339.7"/></clipPath>
<g clip-path="url(#c14)">
<line x1="1102" y1="1803.9" x2="1442.8" y2="1464.2" stroke="#000" stroke-width="1.7"/>
<line x1="1102" y1="1783.5" x2="1442.8" y2="1496" stroke="#000" stroke-width="3.8" stroke-dasharray="15.2 6.9"/>
</g>
<rect x="1102" y="1464.2" width="340.8" height="339.7" fill="none" stroke="#000" stroke-width="3.33" stroke-linejoin="miter"/>
<line x1="1192" y1="1803.9" x2="1192" y2="1818.5" stroke="#000" stroke-width="3.33"/>
<text x="1192" y="1851.8" text-anchor="middle" font-family="'Liberation Sans', Arial, sans-serif" font-size="25">10.0</text>
<line x1="1282.65" y1="1803.9" x2="1282.65" y2="1818.5" stroke="#000" stroke-width="3.33"/>
<text x="1282.65" y="1851.8" text-anchor="middle" font-family="'Liberation Sans', Arial, sans-serif" font-size="25">10.5</text>
<line x1="1373.3" y1="1803.9" x2="1373.3" y2="1818.5" stroke="#000" stroke-width="3.33"/>
<text x="1373.3" y="1851.8" text-anchor="middle" font-family="'Liberation Sans', Arial, sans-serif" font-size="25">11.0</text>
<line x1="1087.4" y1="1713.8" x2="1102" y2="1713.8" stroke="#000" stroke-width="3.33"/>
<text x="1072.8" y="1722.5" text-anchor="end" font-family="'Liberation Sans', Arial, sans-serif" font-size="25">10.0</text>
<line x1="1087.4" y1="1623.8" x2="1102" y2="1623.8" stroke="#000" stroke-width="3.33"/>
<text x="1072.8" y="1632.5" text-anchor="end" font-family="'Liberation Sans', Arial, sans-serif" font-size="25">10.5</text>
<line x1="1087.4" y1="1533.8" x2="1102" y2="1533.8" stroke="#000" stroke-width="3.33"/>
<text x="1072.8" y="1542.5" text-anchor="end" font-family="'Liberation Sans', Arial, sans-serif" font-size="25">11.0</text>
<line x1="1234.8" y1="1777.8" x2="1272.2" y2="1777.8" stroke="#000" stroke-width="3.8" stroke-dasharray="15.2 6.9"/>
<text x="1429.9" y="1751.3" text-anchor="end" font-family="'Liberation Sans', Arial, sans-serif" font-size="25">Held-out set</text>
<text y="1786.7" font-family="'Liberation Serif', 'Times New Roman', serif" font-size="25"><tspan x="1291.5" font-style="italic">r</tspan><tspan x="1303.5">=</tspan><tspan x="1322.1">0.91</tspan><tspan x="1368.8">±</tspan><tspan x="1386.9">0.01</tspan></text>
<text font-family="'Liberation Serif', 'Times New Roman', serif" font-size="25"><tspan x="1205.4" y="1892.3" font-style="italic">S</tspan><tspan x="1218.4" y="1897.7" font-size="18.2">conf</tspan><tspan x="1257" y="1892.3">/</tspan><tspan x="1270" y="1892.3" font-style="italic">N</tspan><tspan x="1302.7" y="1892.3">(</tspan><tspan x="1309.3" y="1892.3" font-style="italic">k</tspan><tspan x="1320.4" y="1897.7" font-size="18.2" font-style="italic">B</tspan><tspan x="1332.9" y="1892.3">)</tspan></text>
<text transform="translate(997.6 1634) rotate(-90)" font-family="'Liberation Serif', 'Times New Roman', serif" font-size="25" text-anchor="middle"><tspan font-style="italic">S</tspan><tspan font-size="18.7" dy="5.9">conf,SVR</tspan><tspan dy="-5.9" dx="10">/</tspan><tspan font-style="italic" dx="7">N</tspan><tspan dx="11">(</tspan><tspan font-style="italic">k</tspan><tspan font-style="italic" font-size="18.7" dy="5.9">B</tspan><tspan dy="-5.9">)</tspan></text>
<text x="991.3" y="1475.5" font-family="'Liberation Sans', Arial, sans-serif" font-size="41">m</text>
<clipPath id="c15"><rect x="1594.7" y="1464.2" width="340.8" height="339.7"/></clipPath>
<g clip-path="url(#c15)">
<g fill="#BBBBBB"><circle cx="1756.86" cy="1633.97" r="3.7"/><circle cx="1701.47" cy="1660.79" r="3.7"/><circle cx="1767.03" cy="1631.71" r="3.7"/><circle cx="1675.46" cy="1724.79" r="3.7"/><circle cx="1761.3" cy="1657.56" r="3.7"/><circle cx="1719.97" cy="1687.16" r="3.7"/><circle cx="1719.4" cy="1683.98" r="3.7"/><circle cx="1765.54" cy="1629.41" r="3.7"/><circle cx="1716.74" cy="1669.1" r="3.7"/><circle cx="1755.49" cy="1638.58" r="3.7"/><circle cx="1781.5" cy="1651.97" r="3.7"/><circle cx="1711.21" cy="1677.63" r="3.7"/><circle cx="1744.35" cy="1637.57" r="3.7"/><circle cx="1734.07" cy="1681.49" r="3.7"/><circle cx="1728.83" cy="1655.64" r="3.7"/><circle cx="1747.05" cy="1661.03" r="3.7"/><circle cx="1691.61" cy="1723.07" r="3.7"/><circle cx="1748.64" cy="1642.79" r="3.7"/><circle cx="1681.02" cy="1709.19" r="3.7"/><circle cx="1712.3" cy="1661.98" r="3.7"/><circle cx="1789.01" cy="1626.09" r="3.7"/><circle cx="1772.69" cy="1648.65" r="3.7"/><circle cx="1782.99" cy="1630.18" r="3.7"/><circle cx="1777.16" cy="1627.71" r="3.7"/><circle cx="1776.91" cy="1649.07" r="3.7"/><circle cx="1699.2" cy="1676.53" r="3.7"/><circle cx="1788.81" cy="1614.48" r="3.7"/><circle cx="1738.32" cy="1681.03" r="3.7"/><circle cx="1729.97" cy="1688.4" r="3.7"/><circle cx="1675.31" cy="1710.33" r="3.7"/><circle cx="1720.26" cy="1677.05" r="3.7"/><circle cx="1742.69" cy="1662.08" r="3.7"/><circle cx="1774.84" cy="1631.88" r="3.7"/><circle cx="1724.84" cy="1689.32" r="3.7"/><circle cx="1755.41" cy="1637.52" r="3.7"/><circle cx="1715.3" cy="1678.28" r="3.7"/><circle cx="1749.53" cy="1659.97" r="3.7"/><circle cx="1685.31" cy="1718.76" r="3.7"/><circle cx="1754.29" cy="1646.64" r="3.7"/><circle cx="1739.84" cy="1677.6" r="3.7"/><circle cx="1760.1" cy="1647.54" r="3.7"/><circle cx="1778.07" cy="1640.96" r="3.7"/><circle cx="1719.82" cy="1677.52" r="3.7"/><circle cx="1684.84" cy="1705.11" r="3.7"/><circle cx="1765.14" cy="1611.27" r="3.7"/><circle cx="1751.86" cy="1638.14" r="3.7"/><circle cx="1773.5" cy="1627.33" r="3.7"/><circle cx="1705.67" cy="1676.37" r="3.7"/><circle cx="1705.5" cy="1692.95" r="3.7"/><circle cx="1701.55" cy="1693.7" r="3.7"/><circle cx="1750.8" cy="1653.55" r="3.7"/><circle cx="1729.71" cy="1681.8" r="3.7"/><circle cx="1734.32" cy="1667.16" r="3.7"/><circle cx="1731.99" cy="1677.69" r="3.7"/><circle cx="1782.92" cy="1647.04" r="3.7"/><circle cx="1778.62" cy="1645.42" r="3.7"/><circle cx="1710.62" cy="1690.03" r="3.7"/><circle cx="1705.85" cy="1692.96" r="3.7"/><circle cx="1732.57" cy="1678.61" r="3.7"/><circle cx="1747.96" cy="1673.09" r="3.7"/><circle cx="1678.41" cy="1725.41" r="3.7"/><circle cx="1741.14" cy="1648.42" r="3.7"/><circle cx="1757.25" cy="1630.48" r="3.7"/><circle cx="1775.04" cy="1656.09" r="3.7"/><circle cx="1783.59" cy="1640.8" r="3.7"/><circle cx="1765.2" cy="1618.43" r="3.7"/><circle cx="1698.9" cy="1710.91" r="3.7"/><circle cx="1763.07" cy="1620.76" r="3.7"/><circle cx="1703.21" cy="1686.18" r="3.7"/><circle cx="1758.04" cy="1649.61" r="3.7"/><circle cx="1765.27" cy="1629.05" r="3.7"/><circle cx="1780.49" cy="1644.05" r="3.7"/><circle cx="1741.52" cy="1644.29" r="3.7"/><circle cx="1711.03" cy="1667.64" r="3.7"/><circle cx="1718.19" cy="1668.12" r="3.7"/><circle cx="1716.07" cy="1666.59" r="3.7"/><circle cx="1694.05" cy="1710" r="3.7"/><circle cx="1770.27" cy="1609.8" r="3.7"/><circle cx="1714.58" cy="1678.31" r="3.7"/><circle cx="1769.53" cy="1630.71" r="3.7"/><circle cx="1709.54" cy="1685.82" r="3.7"/><circle cx="1703.58" cy="1679.14" r="3.7"/><circle cx="1721.62" cy="1690.24" r="3.7"/><circle cx="1785.61" cy="1638.24" r="3.7"/><circle cx="1686.92" cy="1719.26" r="3.7"/><circle cx="1748.2" cy="1665.59" r="3.7"/><circle cx="1688.19" cy="1713.24" r="3.7"/><circle cx="1741.38" cy="1676.51" r="3.7"/><circle cx="1787.88" cy="1615.39" r="3.7"/><circle cx="1716.74" cy="1682.19" r="3.7"/><circle cx="1706.84" cy="1690.23" r="3.7"/><circle cx="1689.46" cy="1726.8" r="3.7"/><circle cx="1702.13" cy="1691.72" r="3.7"/><circle cx="1754.42" cy="1653.89" r="3.7"/><circle cx="1707.08" cy="1698.87" r="3.7"/><circle cx="1720.49" cy="1647.1" r="3.7"/><circle cx="1757.1" cy="1629.53" r="3.7"/><circle cx="1714.56" cy="1690.99" r="3.7"/><circle cx="1689.21" cy="1712.07" r="3.7"/><circle cx="1704.02" cy="1675.76" r="3.7"/><circle cx="1776.15" cy="1651.33" r="3.7"/><circle cx="1729.46" cy="1681.31" r="3.7"/><circle cx="1756.05" cy="1644.92" r="3.7"/><circle cx="1719.65" cy="1648.64" r="3.7"/><circle cx="1710.7" cy="1686.32" r="3.7"/><circle cx="1687.14" cy="1713.03" r="3.7"/><circle cx="1785.61" cy="1625.42" r="3.7"/><circle cx="1692.72" cy="1703.54" r="3.7"/><circle cx="1700.4" cy="1695.22" r="3.7"/><circle cx="1747.95" cy="1656.04" r="3.7"/><circle cx="1761.79" cy="1651.79" r="3.7"/><circle cx="1773.19" cy="1641.39" r="3.7"/><circle cx="1756.19" cy="1633.24" r="3.7"/><circle cx="1699.46" cy="1698.53" r="3.7"/><circle cx="1684.48" cy="1694.91" r="3.7"/><circle cx="1679.16" cy="1724.72" r="3.7"/><circle cx="1715.38" cy="1651.31" r="3.7"/><circle cx="1755.28" cy="1645.58" r="3.7"/><circle cx="1684.72" cy="1727.17" r="3.7"/><circle cx="1718.88" cy="1653.2" r="3.7"/><circle cx="1695.73" cy="1679.34" r="3.7"/><circle cx="1745.05" cy="1656.06" r="3.7"/><circle cx="1765.85" cy="1618.61" r="3.7"/><circle cx="1721.79" cy="1682.99" r="3.7"/><circle cx="1763.31" cy="1617.93" r="3.7"/><circle cx="1721.33" cy="1646.9" r="3.7"/><circle cx="1703.22" cy="1686.58" r="3.7"/><circle cx="1780.48" cy="1638.92" r="3.7"/><circle cx="1687.07" cy="1701.5" r="3.7"/><circle cx="1736.8" cy="1640.99" r="3.7"/><circle cx="1702.25" cy="1687" r="3.7"/><circle cx="1698.01" cy="1694.39" r="3.7"/><circle cx="1689.31" cy="1701.66" r="3.7"/><circle cx="1759.71" cy="1642.07" r="3.7"/><circle cx="1698.8" cy="1683.79" r="3.7"/><circle cx="1776.29" cy="1611.23" r="3.7"/><circle cx="1735.04" cy="1661.79" r="3.7"/><circle cx="1682.46" cy="1726.97" r="3.7"/><circle cx="1727.32" cy="1666.72" r="3.7"/><circle cx="1735.6" cy="1638.57" r="3.7"/><circle cx="1722.43" cy="1687.39" r="3.7"/><circle cx="1767.03" cy="1636.1" r="3.7"/><circle cx="1716.01" cy="1691.57" r="3.7"/><circle cx="1744.4" cy="1662.88" r="3.7"/><circle cx="1694.14" cy="1693.58" r="3.7"/><circle cx="1773.49" cy="1627.91" r="3.7"/><circle cx="1777.18" cy="1643.55" r="3.7"/><circle cx="1734.27" cy="1661.45" r="3.7"/><circle cx="1688.45" cy="1723.39" r="3.7"/><circle cx="1701.68" cy="1671.9" r="3.7"/><circle cx="1765.86" cy="1611.42" r="3.7"/><circle cx="1745.98" cy="1649.84" r="3.7"/><circle cx="1712.61" cy="1686.43" r="3.7"/><circle cx="1748.69" cy="1650.18" r="3.7"/><circle cx="1753.97" cy="1639.51" r="3.7"/><circle cx="1691.19" cy="1690.71" r="3.7"/><circle cx="1679.36" cy="1729.11" r="3.7"/><circle cx="1701.77" cy="1676.16" r="3.7"/><circle cx="1760.1" cy="1651.16" r="3.7"/><circle cx="1720.42" cy="1665.14" r="3.7"/><circle cx="1715.48" cy="1665.31" r="3.7"/><circle cx="1714.67" cy="1665.66" r="3.7"/><circle cx="1777.06" cy="1615.37" r="3.7"/><circle cx="1748.07" cy="1642.32" r="3.7"/><circle cx="1706.41" cy="1667.92" r="3.7"/><circle cx="1767.23" cy="1658.87" r="3.7"/><circle cx="1778.05" cy="1645.35" r="3.7"/><circle cx="1736.88" cy="1679.93" r="3.7"/><circle cx="1698.16" cy="1706.81" r="3.7"/><circle cx="1686.52" cy="1727" r="3.7"/><circle cx="1699.99" cy="1705.55" r="3.7"/><circle cx="1787.28" cy="1610.38" r="3.7"/><circle cx="1691.82" cy="1708.71" r="3.7"/><circle cx="1774.56" cy="1636.78" r="3.7"/><circle cx="1759.58" cy="1654.79" r="3.7"/><circle cx="1716.18" cy="1658.52" r="3.7"/><circle cx="1692.01" cy="1704.35" r="3.7"/><circle cx="1705.36" cy="1680.05" r="3.7"/><circle cx="1709.39" cy="1701.18" r="3.7"/><circle cx="1763.03" cy="1627.55" r="3.7"/><circle cx="1701.8" cy="1710.4" r="3.7"/><circle cx="1770" cy="1646.03" r="3.7"/><circle cx="1776.95" cy="1631.45" r="3.7"/><circle cx="1727.27" cy="1674.43" r="3.7"/><circle cx="1695.55" cy="1672.16" r="3.7"/><circle cx="1680.58" cy="1714.95" r="3.7"/><circle cx="1772.19" cy="1619.03" r="3.7"/><circle cx="1674.37" cy="1729.23" r="3.7"/><circle cx="1732.93" cy="1677.86" r="3.7"/><circle cx="1718.26" cy="1672.96" r="3.7"/><circle cx="1684.52" cy="1721.25" r="3.7"/><circle cx="1720.8" cy="1691.65" r="3.7"/><circle cx="1775.55" cy="1621.74" r="3.7"/><circle cx="1706.88" cy="1667.06" r="3.7"/><circle cx="1724.03" cy="1648.75" r="3.7"/><circle cx="1711.38" cy="1695.09" r="3.7"/><circle cx="1716.78" cy="1663.24" r="3.7"/><circle cx="1750.87" cy="1669.4" r="3.7"/><circle cx="1716.49" cy="1697.01" r="3.7"/><circle cx="1755.31" cy="1646.42" r="3.7"/><circle cx="1749.52" cy="1663.47" r="3.7"/><circle cx="1714.7" cy="1690.02" r="3.7"/><circle cx="1697" cy="1668.09" r="3.7"/><circle cx="1786.92" cy="1612.37" r="3.7"/><circle cx="1699.31" cy="1670.31" r="3.7"/><circle cx="1738.91" cy="1669.14" r="3.7"/><circle cx="1729.55" cy="1650.06" r="3.7"/><circle cx="1758.93" cy="1638.27" r="3.7"/><circle cx="1711.32" cy="1655.62" r="3.7"/><circle cx="1782.34" cy="1624.82" r="3.7"/><circle cx="1734.62" cy="1639.8" r="3.7"/><circle cx="1679.75" cy="1723.89" r="3.7"/><circle cx="1679.13" cy="1701.81" r="3.7"/><circle cx="1698.11" cy="1662.62" r="3.7"/><circle cx="1701" cy="1702" r="3.7"/><circle cx="1761.46" cy="1625.82" r="3.7"/><circle cx="1774.44" cy="1614.6" r="3.7"/><circle cx="1710.27" cy="1680.08" r="3.7"/><circle cx="1700.29" cy="1673.4" r="3.7"/><circle cx="1709.37" cy="1656.65" r="3.7"/><circle cx="1786.05" cy="1613.73" r="3.7"/><circle cx="1696.67" cy="1715.81" r="3.7"/><circle cx="1746.99" cy="1655.29" r="3.7"/><circle cx="1747.6" cy="1635.43" r="3.7"/><circle cx="1695.82" cy="1720.33" r="3.7"/><circle cx="1688.96" cy="1696.34" r="3.7"/><circle cx="1737.12" cy="1669.63" r="3.7"/><circle cx="1714.69" cy="1681.44" r="3.7"/><circle cx="1745.18" cy="1646.95" r="3.7"/><circle cx="1703.75" cy="1663.85" r="3.7"/><circle cx="1733.49" cy="1677.14" r="3.7"/><circle cx="1721.85" cy="1643.59" r="3.7"/><circle cx="1699.4" cy="1710.16" r="3.7"/><circle cx="1724.88" cy="1678.6" r="3.7"/><circle cx="1750.02" cy="1660.57" r="3.7"/><circle cx="1724.63" cy="1683.46" r="3.7"/><circle cx="1779.53" cy="1624" r="3.7"/><circle cx="1737.54" cy="1654.94" r="3.7"/><circle cx="1727.77" cy="1666.89" r="3.7"/><circle cx="1707.01" cy="1705.71" r="3.7"/><circle cx="1737.75" cy="1667.56" r="3.7"/><circle cx="1682.48" cy="1700.23" r="3.7"/><circle cx="1772.99" cy="1623.84" r="3.7"/><circle cx="1693.68" cy="1706.05" r="3.7"/><circle cx="1714.97" cy="1662.94" r="3.7"/><circle cx="1710.89" cy="1675.23" r="3.7"/><circle cx="1747.72" cy="1671.65" r="3.7"/><circle cx="1779.6" cy="1634.55" r="3.7"/><circle cx="1749.84" cy="1633.34" r="3.7"/><circle cx="1745.05" cy="1644.32" r="3.7"/><circle cx="1696.96" cy="1683.52" r="3.7"/><circle cx="1700.15" cy="1717.24" r="3.7"/><circle cx="1719.78" cy="1655.07" r="3.7"/><circle cx="1732.74" cy="1638.84" r="3.7"/><circle cx="1746.35" cy="1662.02" r="3.7"/><circle cx="1759.72" cy="1656.64" r="3.7"/><circle cx="1774.48" cy="1649.77" r="3.7"/><circle cx="1678.67" cy="1702.06" r="3.7"/><circle cx="1768.99" cy="1632.17" r="3.7"/><circle cx="1791.79" cy="1630.43" r="3.7"/><circle cx="1727.88" cy="1672.59" r="3.7"/><circle cx="1780.17" cy="1652.84" r="3.7"/><circle cx="1759.27" cy="1658.39" r="3.7"/><circle cx="1673.37" cy="1718" r="3.7"/><circle cx="1780.12" cy="1643.2" r="3.7"/><circle cx="1706.27" cy="1661.27" r="3.7"/><circle cx="1750.55" cy="1662.82" r="3.7"/><circle cx="1729.35" cy="1678.23" r="3.7"/><circle cx="1755.32" cy="1654.85" r="3.7"/><circle cx="1703.88" cy="1689.91" r="3.7"/><circle cx="1733.91" cy="1670.97" r="3.7"/><circle cx="1782.18" cy="1638.54" r="3.7"/><circle cx="1773.9" cy="1645.17" r="3.7"/><circle cx="1757.74" cy="1633.65" r="3.7"/><circle cx="1711.62" cy="1668.3" r="3.7"/><circle cx="1748.28" cy="1669.28" r="3.7"/><circle cx="1706.6" cy="1682.2" r="3.7"/><circle cx="1695.27" cy="1691.95" r="3.7"/><circle cx="1780.89" cy="1634.77" r="3.7"/><circle cx="1771.62" cy="1615.15" r="3.7"/><circle cx="1710.07" cy="1692.19" r="3.7"/><circle cx="1772.18" cy="1657.39" r="3.7"/><circle cx="1756.74" cy="1642.96" r="3.7"/><circle cx="1768.16" cy="1648.49" r="3.7"/><circle cx="1670.23" cy="1710.8" r="3.7"/><circle cx="1781.43" cy="1625.65" r="3.7"/><circle cx="1760.16" cy="1647.63" r="3.7"/><circle cx="1782.27" cy="1647.41" r="3.7"/><circle cx="1752.76" cy="1666.16" r="3.7"/><circle cx="1700.09" cy="1667.95" r="3.7"/><circle cx="1696.63" cy="1682.34" r="3.7"/><circle cx="1764.01" cy="1619.93" r="3.7"/><circle cx="1763.76" cy="1650.76" r="3.7"/><circle cx="1765.42" cy="1634.11" r="3.7"/><circle cx="1685.44" cy="1722.5" r="3.7"/><circle cx="1682.41" cy="1705.3" r="3.7"/><circle cx="1752.87" cy="1638.32" r="3.7"/><circle cx="1707.82" cy="1679.88" r="3.7"/><circle cx="1761.64" cy="1633.24" r="3.7"/><circle cx="1783.48" cy="1614.72" r="3.7"/><circle cx="1687.01" cy="1695.66" r="3.7"/><circle cx="1754.08" cy="1655.94" r="3.7"/><circle cx="1730.87" cy="1653.26" r="3.7"/><circle cx="1779.87" cy="1646.22" r="3.7"/><circle cx="1762.4" cy="1628.79" r="3.7"/><circle cx="1740.83" cy="1642.31" r="3.7"/><circle cx="1786.66" cy="1608.11" r="3.7"/><circle cx="1753.09" cy="1655.13" r="3.7"/><circle cx="1779.66" cy="1618.78" r="3.7"/><circle cx="1693.61" cy="1701.9" r="3.7"/><circle cx="1717.36" cy="1692.7" r="3.7"/><circle cx="1721.06" cy="1654.79" r="3.7"/><circle cx="1719.4" cy="1685.34" r="3.7"/><circle cx="1695.92" cy="1693.34" r="3.7"/><circle cx="1768.39" cy="1617.45" r="3.7"/><circle cx="1673.71" cy="1711.28" r="3.7"/><circle cx="1682.42" cy="1699.93" r="3.7"/><circle cx="1775.58" cy="1641.3" r="3.7"/><circle cx="1782.81" cy="1629.34" r="3.7"/><circle cx="1719.62" cy="1695.26" r="3.7"/><circle cx="1696.53" cy="1713.75" r="3.7"/><circle cx="1713.02" cy="1671.87" r="3.7"/><circle cx="1689.5" cy="1710.64" r="3.7"/><circle cx="1716.04" cy="1655.43" r="3.7"/><circle cx="1676.05" cy="1723.31" r="3.7"/><circle cx="1745.81" cy="1673.71" r="3.7"/><circle cx="1791.34" cy="1627.84" r="3.7"/><circle cx="1759.33" cy="1662.31" r="3.7"/><circle cx="1700.53" cy="1710.46" r="3.7"/><circle cx="1742.33" cy="1640.74" r="3.7"/><circle cx="1778.76" cy="1618.11" r="3.7"/><circle cx="1721.71" cy="1662.47" r="3.7"/><circle cx="1687.02" cy="1714.71" r="3.7"/><circle cx="1744.6" cy="1663.86" r="3.7"/><circle cx="1760.84" cy="1658.21" r="3.7"/><circle cx="1683.88" cy="1728.52" r="3.7"/><circle cx="1751.05" cy="1663.65" r="3.7"/><circle cx="1749.55" cy="1652.46" r="3.7"/><circle cx="1779.39" cy="1641.49" r="3.7"/><circle cx="1772.88" cy="1630.96" r="3.7"/><circle cx="1757.42" cy="1642.75" r="3.7"/><circle cx="1758.57" cy="1631.54" r="3.7"/><circle cx="1715.94" cy="1694.82" r="3.7"/><circle cx="1715.63" cy="1691.89" r="3.7"/><circle cx="1752.91" cy="1641.86" r="3.7"/><circle cx="1704.31" cy="1691.7" r="3.7"/><circle cx="1746.02" cy="1640.04" r="3.7"/><circle cx="1708.58" cy="1697.76" r="3.7"/><circle cx="1763.22" cy="1640.71" r="3.7"/><circle cx="1703.44" cy="1686.64" r="3.7"/><circle cx="1696.16" cy="1673.1" r="3.7"/><circle cx="1775.66" cy="1629.5" r="3.7"/><circle cx="1721.54" cy="1676.71" r="3.7"/><circle cx="1779.87" cy="1654.56" r="3.7"/><circle cx="1692.12" cy="1721.83" r="3.7"/><circle cx="1780.33" cy="1617.15" r="3.7"/><circle cx="1707.35" cy="1693.21" r="3.7"/><circle cx="1787.52" cy="1624.36" r="3.7"/><circle cx="1748.78" cy="1637.7" r="3.7"/><circle cx="1727.2" cy="1679.94" r="3.7"/><circle cx="1761.75" cy="1623.66" r="3.7"/><circle cx="1728.87" cy="1653.63" r="3.7"/><circle cx="1745.21" cy="1662.62" r="3.7"/><circle cx="1692.57" cy="1718.48" r="3.7"/><circle cx="1772.81" cy="1638.7" r="3.7"/><circle cx="1760.43" cy="1629.02" r="3.7"/><circle cx="1699.63" cy="1678.15" r="3.7"/><circle cx="1700.12" cy="1688.98" r="3.7"/><circle cx="1775.31" cy="1627.11" r="3.7"/><circle cx="1751.29" cy="1658.24" r="3.7"/><circle cx="1789.61" cy="1625.79" r="3.7"/><circle cx="1728.19" cy="1650.8" r="3.7"/><circle cx="1781.4" cy="1635" r="3.7"/><circle cx="1690.38" cy="1693.07" r="3.7"/><circle cx="1704.12" cy="1708.4" r="3.7"/><circle cx="1773.42" cy="1620.66" r="3.7"/><circle cx="1695.08" cy="1696.36" r="3.7"/><circle cx="1750.36" cy="1646.91" r="3.7"/><circle cx="1699.81" cy="1722.23" r="3.7"/><circle cx="1703.83" cy="1683.95" r="3.7"/><circle cx="1760.79" cy="1625.35" r="3.7"/><circle cx="1755.86" cy="1641.9" r="3.7"/><circle cx="1772.5" cy="1624.83" r="3.7"/><circle cx="1694.68" cy="1693.98" r="3.7"/><circle cx="1689.71" cy="1719.13" r="3.7"/><circle cx="1761.23" cy="1649.77" r="3.7"/><circle cx="1781.65" cy="1621.96" r="3.7"/><circle cx="1770.59" cy="1640" r="3.7"/><circle cx="1676.47" cy="1704.5" r="3.7"/><circle cx="1739.93" cy="1673.02" r="3.7"/><circle cx="1682.22" cy="1728.27" r="3.7"/><circle cx="1748.84" cy="1641.22" r="3.7"/><circle cx="1720.05" cy="1664.83" r="3.7"/><circle cx="1747.36" cy="1641.8" r="3.7"/><circle cx="1682.25" cy="1717.8" r="3.7"/><circle cx="1686.04" cy="1718.66" r="3.7"/><circle cx="1776.98" cy="1633.8" r="3.7"/><circle cx="1744.06" cy="1645.45" r="3.7"/><circle cx="1763.74" cy="1635.84" r="3.7"/><circle cx="1695.33" cy="1700.74" r="3.7"/><circle cx="1769.86" cy="1637.46" r="3.7"/><circle cx="1755.75" cy="1629.59" r="3.7"/><circle cx="1711.41" cy="1679.64" r="3.7"/><circle cx="1680.78" cy="1719.89" r="3.7"/><circle cx="1732.71" cy="1668.65" r="3.7"/><circle cx="1783.96" cy="1615.58" r="3.7"/><circle cx="1720.52" cy="1680.16" r="3.7"/><circle cx="1751.2" cy="1666.37" r="3.7"/><circle cx="1753.8" cy="1651.14" r="3.7"/><circle cx="1704.88" cy="1708.26" r="3.7"/><circle cx="1719.25" cy="1668.25" r="3.7"/><circle cx="1766.64" cy="1633.07" r="3.7"/><circle cx="1757.44" cy="1664.51" r="3.7"/><circle cx="1690.29" cy="1707.99" r="3.7"/><circle cx="1730.21" cy="1657.54" r="3.7"/><circle cx="1711.96" cy="1676.08" r="3.7"/><circle cx="1683.09" cy="1701.41" r="3.7"/><circle cx="1711.13" cy="1686.37" r="3.7"/><circle cx="1759.07" cy="1633.4" r="3.7"/><circle cx="1780.9" cy="1652.83" r="3.7"/><circle cx="1765.22" cy="1651.15" r="3.7"/><circle cx="1779.5" cy="1648.42" r="3.7"/><circle cx="1747.42" cy="1657.58" r="3.7"/><circle cx="1701.27" cy="1696.13" r="3.7"/><circle cx="1724.54" cy="1641.65" r="3.7"/><circle cx="1732.06" cy="1643.25" r="3.7"/><circle cx="1712.98" cy="1676.15" r="3.7"/><circle cx="1717.03" cy="1691.53" r="3.7"/><circle cx="1766.13" cy="1623.79" r="3.7"/><circle cx="1714.81" cy="1669.03" r="3.7"/><circle cx="1733.03" cy="1656.19" r="3.7"/><circle cx="1676.31" cy="1708.45" r="3.7"/><circle cx="1721.07" cy="1645.6" r="3.7"/><circle cx="1732.86" cy="1641.37" r="3.7"/><circle cx="1744.42" cy="1636.93" r="3.7"/><circle cx="1693.96" cy="1706.87" r="3.7"/><circle cx="1683.53" cy="1696.51" r="3.7"/><circle cx="1758.57" cy="1636.84" r="3.7"/><circle cx="1744.64" cy="1655.1" r="3.7"/><circle cx="1691.66" cy="1689.92" r="3.7"/><circle cx="1685.85" cy="1723.36" r="3.7"/><circle cx="1681.06" cy="1720.16" r="3.7"/><circle cx="1765.09" cy="1651.13" r="3.7"/><circle cx="1674.2" cy="1719.11" r="3.7"/><circle cx="1751.57" cy="1666.95" r="3.7"/><circle cx="1765.5" cy="1644.76" r="3.7"/><circle cx="1679.3" cy="1722.94" r="3.7"/><circle cx="1779.1" cy="1633.69" r="3.7"/><circle cx="1700.49" cy="1663.2" r="3.7"/><circle cx="1700.04" cy="1696.2" r="3.7"/><circle cx="1729.81" cy="1646.91" r="3.7"/><circle cx="1747.24" cy="1647.49" r="3.7"/><circle cx="1674.49" cy="1710.88" r="3.7"/><circle cx="1709.65" cy="1674.91" r="3.7"/><circle cx="1728.97" cy="1657.74" r="3.7"/><circle cx="1710.31" cy="1669.5" r="3.7"/><circle cx="1703.93" cy="1703.07" r="3.7"/><circle cx="1771.98" cy="1632.33" r="3.7"/><circle cx="1750.89" cy="1648.37" r="3.7"/><circle cx="1743.23" cy="1637.54" r="3.7"/><circle cx="1685.81" cy="1704.01" r="3.7"/><circle cx="1705.82" cy="1658.33" r="3.7"/><circle cx="1777.56" cy="1639.77" r="3.7"/><circle cx="1692.1" cy="1694.74" r="3.7"/><circle cx="1753.44" cy="1661.23" r="3.7"/><circle cx="1778.05" cy="1640.08" r="3.7"/><circle cx="1779.57" cy="1646.96" r="3.7"/><circle cx="1777.3" cy="1649.66" r="3.7"/><circle cx="1783.33" cy="1639.7" r="3.7"/><circle cx="1674.31" cy="1710.89" r="3.7"/><circle cx="1735.73" cy="1655.18" r="3.7"/><circle cx="1776.07" cy="1618.18" r="3.7"/><circle cx="1788.08" cy="1623.37" r="3.7"/><circle cx="1699.68" cy="1703.87" r="3.7"/><circle cx="1714.12" cy="1667" r="3.7"/><circle cx="1761.63" cy="1623.22" r="3.7"/><circle cx="1775.22" cy="1652.83" r="3.7"/><circle cx="1755.86" cy="1633.91" r="3.7"/><circle cx="1781.93" cy="1644.47" r="3.7"/><circle cx="1785.72" cy="1622.36" r="3.7"/><circle cx="1713.2" cy="1665.77" r="3.7"/><circle cx="1784.65" cy="1633.35" r="3.7"/><circle cx="1754.43" cy="1643.83" r="3.7"/><circle cx="1752.96" cy="1652.54" r="3.7"/><circle cx="1702.16" cy="1685.54" r="3.7"/><circle cx="1773.81" cy="1617.32" r="3.7"/><circle cx="1728.75" cy="1675.99" r="3.7"/><circle cx="1685.77" cy="1698.02" r="3.7"/><circle cx="1714.56" cy="1690.25" r="3.7"/><circle cx="1737.67" cy="1638.46" r="3.7"/><circle cx="1739.14" cy="1643.15" r="3.7"/><circle cx="1701.25" cy="1667.61" r="3.7"/><circle cx="1763.44" cy="1623.89" r="3.7"/><circle cx="1748.11" cy="1661.05" r="3.7"/><circle cx="1777.84" cy="1647.63" r="3.7"/><circle cx="1707.5" cy="1697.79" r="3.7"/><circle cx="1687.47" cy="1716.08" r="3.7"/><circle cx="1770.78" cy="1633.56" r="3.7"/><circle cx="1716.96" cy="1660.24" r="3.7"/><circle cx="1776.16" cy="1628.64" r="3.7"/><circle cx="1704.85" cy="1684.14" r="3.7"/><circle cx="1684.45" cy="1720.66" r="3.7"/><circle cx="1756.31" cy="1654.19" r="3.7"/><circle cx="1691.8" cy="1709.42" r="3.7"/><circle cx="1767.42" cy="1632.36" r="3.7"/><circle cx="1729.99" cy="1670.62" r="3.7"/><circle cx="1718.86" cy="1654.08" r="3.7"/><circle cx="1702.17" cy="1700.07" r="3.7"/><circle cx="1772.5" cy="1618.16" r="3.7"/><circle cx="1696.2" cy="1704.82" r="3.7"/><circle cx="1737.06" cy="1648.51" r="3.7"/><circle cx="1684.74" cy="1716.99" r="3.7"/><circle cx="1745.48" cy="1635.72" r="3.7"/><circle cx="1761.18" cy="1641.4" r="3.7"/><circle cx="1738.82" cy="1655.06" r="3.7"/><circle cx="1755.49" cy="1631.52" r="3.7"/><circle cx="1770.68" cy="1615.2" r="3.7"/><circle cx="1704.28" cy="1705.74" r="3.7"/><circle cx="1754.84" cy="1638.42" r="3.7"/><circle cx="1750.52" cy="1661.98" r="3.7"/><circle cx="1706.96" cy="1682.2" r="3.7"/><circle cx="1679" cy="1708.8" r="3.7"/><circle cx="1676.14" cy="1709.07" r="3.7"/><circle cx="1702.98" cy="1683.45" r="3.7"/><circle cx="1766.88" cy="1657.69" r="3.7"/><circle cx="1768.07" cy="1645.22" r="3.7"/><circle cx="1713.7" cy="1658.05" r="3.7"/><circle cx="1701.34" cy="1690.93" r="3.7"/><circle cx="1682.85" cy="1721.21" r="3.7"/><circle cx="1772.25" cy="1653.07" r="3.7"/><circle cx="1696.84" cy="1675.89" r="3.7"/><circle cx="1780.45" cy="1630.82" r="3.7"/><circle cx="1701.95" cy="1660.79" r="3.7"/><circle cx="1786.47" cy="1627.45" r="3.7"/><circle cx="1778.63" cy="1645.1" r="3.7"/><circle cx="1691.45" cy="1698.46" r="3.7"/><circle cx="1693.91" cy="1692.56" r="3.7"/><circle cx="1785.54" cy="1612.63" r="3.7"/><circle cx="1767.2" cy="1616.96" r="3.7"/><circle cx="1692.05" cy="1696.41" r="3.7"/><circle cx="1681.23" cy="1709.27" r="3.7"/><circle cx="1748.19" cy="1647.8" r="3.7"/><circle cx="1749.91" cy="1662.41" r="3.7"/><circle cx="1788.16" cy="1615.22" r="3.7"/><circle cx="1724.84" cy="1650.2" r="3.7"/><circle cx="1697.45" cy="1688.53" r="3.7"/><circle cx="1770.01" cy="1648.31" r="3.7"/><circle cx="1775.09" cy="1644.61" r="3.7"/><circle cx="1706.42" cy="1664.84" r="3.7"/><circle cx="1722.25" cy="1661.17" r="3.7"/><circle cx="1755.45" cy="1632.55" r="3.7"/><circle cx="1687.88" cy="1718.7" r="3.7"/><circle cx="1775.49" cy="1655.91" r="3.7"/><circle cx="1766.16" cy="1637.56" r="3.7"/><circle cx="1730.12" cy="1673.95" r="3.7"/><circle cx="1765.04" cy="1619.53" r="3.7"/><circle cx="1704.06" cy="1695.4" r="3.7"/><circle cx="1724.83" cy="1660.02" r="3.7"/><circle cx="1717.71" cy="1686.87" r="3.7"/><circle cx="1773.39" cy="1630.64" r="3.7"/><circle cx="1705.22" cy="1676.55" r="3.7"/><circle cx="1718.24" cy="1690.71" r="3.7"/><circle cx="1695.24" cy="1687.82" r="3.7"/><circle cx="1681.79" cy="1712.28" r="3.7"/><circle cx="1696.79" cy="1695.6" r="3.7"/><circle cx="1762.6" cy="1640.2" r="3.7"/><circle cx="1773" cy="1639.07" r="3.7"/><circle cx="1760.84" cy="1639.65" r="3.7"/><circle cx="1773.16" cy="1650.58" r="3.7"/><circle cx="1691.4" cy="1699.51" r="3.7"/><circle cx="1734.93" cy="1656.76" r="3.7"/><circle cx="1687.92" cy="1704.8" r="3.7"/><circle cx="1677" cy="1719.89" r="3.7"/><circle cx="1743.78" cy="1659.83" r="3.7"/><circle cx="1745.29" cy="1662.08" r="3.7"/><circle cx="1748.42" cy="1645.12" r="3.7"/><circle cx="1696.38" cy="1671.16" r="3.7"/><circle cx="1718.06" cy="1669.82" r="3.7"/><circle cx="1671.38" cy="1709.49" r="3.7"/><circle cx="1759.34" cy="1657.5" r="3.7"/><circle cx="1722.6" cy="1660.65" r="3.7"/><circle cx="1679.02" cy="1710.24" r="3.7"/><circle cx="1752.68" cy="1636" r="3.7"/><circle cx="1721.27" cy="1685.83" r="3.7"/><circle cx="1692" cy="1601.6" r="3.7"/><circle cx="1815.3" cy="1606.2" r="3.7"/><circle cx="1802.3" cy="1618.8" r="3.7"/><circle cx="1696.6" cy="1648.9" r="3.7"/><circle cx="1686.4" cy="1677.2" r="3.7"/><circle cx="1683.6" cy="1693.9" r="3.7"/><circle cx="1667.8" cy="1710.6" r="3.7"/><circle cx="1716.1" cy="1708.7" r="3.7"/><circle cx="1743.9" cy="1680" r="3.7"/><circle cx="1765.2" cy="1664.2" r="3.7"/><circle cx="1784.7" cy="1652.2" r="3.7"/><circle cx="1658.6" cy="1734.7" r="3.7"/><circle cx="1642.8" cy="1749.6" r="3.7"/><circle cx="1692.06" cy="1601.39" r="3.7"/><circle cx="1824.54" cy="1533.87" r="3.7"/><circle cx="1839.48" cy="1589.79" r="3.7"/><circle cx="1816.29" cy="1606.55" r="3.7"/><circle cx="1803.4" cy="1619.43" r="3.7"/><circle cx="1796.96" cy="1628.45" r="3.7"/><circle cx="1696.44" cy="1649.07" r="3.7"/><circle cx="1705.46" cy="1651.65" r="3.7"/><circle cx="1686.13" cy="1677.42" r="3.7"/><circle cx="1683.56" cy="1694.18" r="3.7"/><circle cx="1715.77" cy="1708.35" r="3.7"/><circle cx="1643.61" cy="1749.59" r="3.7"/><circle cx="1659.07" cy="1734.12" r="3.7"/><circle cx="1768.61" cy="1607.84" r="3.7"/><circle cx="1785.36" cy="1651.65" r="3.7"/><circle cx="1769.9" cy="1664.54" r="3.7"/><circle cx="1762.16" cy="1631.03" r="3.7"/><circle cx="1780.21" cy="1636.19" r="3.7"/><circle cx="1782.78" cy="1625.88" r="3.7"/><circle cx="1772.47" cy="1620.72" r="3.7"/></g>
</g>
<clipPath id="c16"><rect x="1594.7" y="1464.2" width="340.8" height="339.7"/></clipPath>
<g clip-path="url(#c16)">
<line x1="1594.7" y1="1803.9" x2="1935.5" y2="1464.2" stroke="#000" stroke-width="1.7"/>
<line x1="1594.7" y1="1776.6" x2="1935.5" y2="1502.2" stroke="#000" stroke-width="3.8" stroke-dasharray="15.2 6.9"/>
</g>
<rect x="1594.7" y="1464.2" width="340.8" height="339.7" fill="none" stroke="#000" stroke-width="3.33" stroke-linejoin="miter"/>
<line x1="1684.8" y1="1803.9" x2="1684.8" y2="1818.5" stroke="#000" stroke-width="3.33"/>
<text x="1684.8" y="1851.8" text-anchor="middle" font-family="'Liberation Sans', Arial, sans-serif" font-size="25">10.0</text>
<line x1="1774.75" y1="1803.9" x2="1774.75" y2="1818.5" stroke="#000" stroke-width="3.33"/>
<text x="1774.75" y="1851.8" text-anchor="middle" font-family="'Liberation Sans', Arial, sans-serif" font-size="25">10.5</text>
<line x1="1864.7" y1="1803.9" x2="1864.7" y2="1818.5" stroke="#000" stroke-width="3.33"/>
<text x="1864.7" y="1851.8" text-anchor="middle" font-family="'Liberation Sans', Arial, sans-serif" font-size="25">11.0</text>
<line x1="1580.1" y1="1714.3" x2="1594.7" y2="1714.3" stroke="#000" stroke-width="3.33"/>
<text x="1565.5" y="1723" text-anchor="end" font-family="'Liberation Sans', Arial, sans-serif" font-size="25">10.0</text>
<line x1="1580.1" y1="1624.1" x2="1594.7" y2="1624.1" stroke="#000" stroke-width="3.33"/>
<text x="1565.5" y="1632.8" text-anchor="end" font-family="'Liberation Sans', Arial, sans-serif" font-size="25">10.5</text>
<line x1="1580.1" y1="1533.9" x2="1594.7" y2="1533.9" stroke="#000" stroke-width="3.33"/>
<text x="1565.5" y="1542.6" text-anchor="end" font-family="'Liberation Sans', Arial, sans-serif" font-size="25">11.0</text>
<line x1="1715.8" y1="1767.6" x2="1753.2" y2="1767.6" stroke="#000" stroke-width="3.8" stroke-dasharray="15.2 6.9"/>
<text x="1912.2" y="1740.6" text-anchor="end" font-family="'Liberation Sans', Arial, sans-serif" font-size="25">SPOT Unique</text>
<text y="1776" font-family="'Liberation Serif', 'Times New Roman', serif" font-size="25"><tspan x="1773.8" font-style="italic">r</tspan><tspan x="1785.8">=</tspan><tspan x="1804.4">0.88</tspan><tspan x="1851.1">±</tspan><tspan x="1869.2">0.02</tspan></text>
<text font-family="'Liberation Serif', 'Times New Roman', serif" font-size="25"><tspan x="1698.1" y="1892.3" font-style="italic">S</tspan><tspan x="1711.1" y="1897.7" font-size="18.2">conf</tspan><tspan x="1749.7" y="1892.3">/</tspan><tspan x="1762.7" y="1892.3" font-style="italic">N</tspan><tspan x="1795.4" y="1892.3">(</tspan><tspan x="1802" y="1892.3" font-style="italic">k</tspan><tspan x="1813.1" y="1897.7" font-size="18.2" font-style="italic">B</tspan><tspan x="1825.6" y="1892.3">)</tspan></text>
<text transform="translate(1489.6 1636) rotate(-90)" font-family="'Liberation Serif', 'Times New Roman', serif" font-size="25" text-anchor="middle"><tspan font-style="italic">S</tspan><tspan font-size="18.7" dy="5.9">conf,SVR</tspan><tspan dy="-5.9" dx="10">/</tspan><tspan font-style="italic" dx="7">N</tspan><tspan dx="11">(</tspan><tspan font-style="italic">k</tspan><tspan font-style="italic" font-size="18.7" dy="5.9">B</tspan><tspan dy="-5.9">)</tspan></text>
<text x="1486.5" y="1475.5" font-family="'Liberation Sans', Arial, sans-serif" font-size="41">n</text>
</svg>
</body></html>
